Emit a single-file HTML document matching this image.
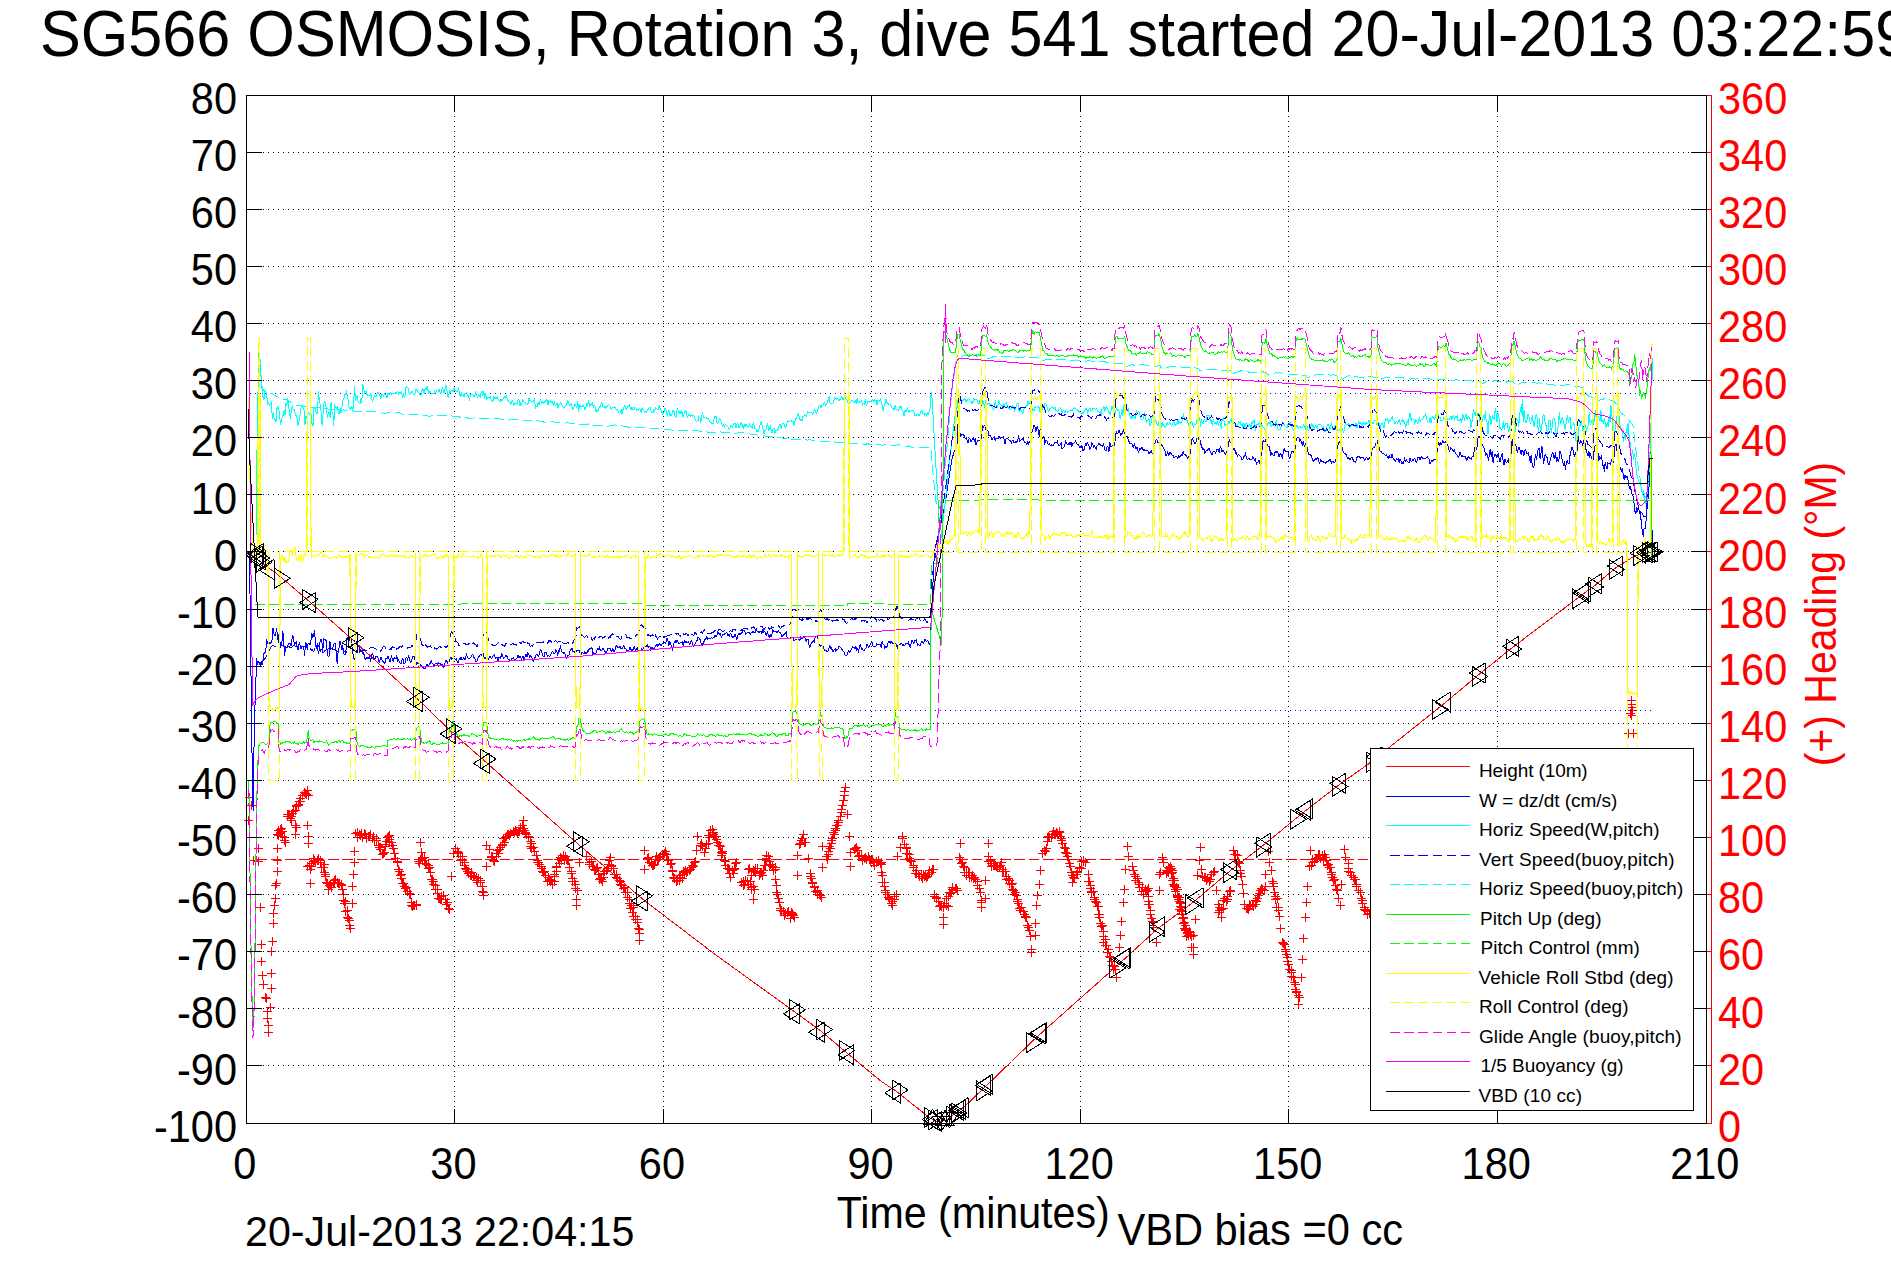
<!DOCTYPE html>
<html lang="en"><head><meta charset="utf-8"><title>SG566 OSMOSIS dive 541</title>
<style>html,body{margin:0;padding:0;background:#fff;overflow:hidden}svg{display:block;font-family:"Liberation Sans",sans-serif}text{white-space:pre}</style></head><body>
<svg width="1891" height="1262" viewBox="0 0 1891 1262">
<rect x="0" y="0" width="1891" height="1262" fill="#fff"/>
<g id="heading" shape-rendering="crispEdges" fill="none" stroke="#f00" stroke-width="1">
<line x1="256.5" y1="859.5" x2="1652.5" y2="859.5" stroke-dasharray="10.5 3.8"/>
<path d="M273.0 834.5h9M277.5 830.0v9M274.0 835.5h9M278.5 831.0v9M274.0 830.5h9M278.5 826.0v9M276.0 832.5h9M280.5 828.0v9M276.0 829.5h9M280.5 825.0v9M278.0 831.5h9M282.5 827.0v9M278.0 836.5h9M282.5 832.0v9M280.0 837.5h9M284.5 833.0v9M280.0 840.5h9M284.5 836.0v9M281.0 842.5h9M285.5 838.0v9M283.0 814.5h9M287.5 810.0v9M283.0 816.5h9M287.5 812.0v9M285.0 814.5h9M289.5 810.0v9M286.0 818.5h9M290.5 814.0v9M287.0 816.5h9M291.5 812.0v9M288.0 813.5h9M292.5 809.0v9M289.0 811.5h9M293.5 807.0v9M291.0 810.5h9M295.5 806.0v9M292.0 805.5h9M296.5 801.0v9M292.0 806.5h9M296.5 802.0v9M294.0 805.5h9M298.5 801.0v9M294.0 804.5h9M298.5 800.0v9M295.0 801.5h9M299.5 797.0v9M296.0 801.5h9M300.5 797.0v9M296.0 798.5h9M300.5 794.0v9M298.0 795.5h9M302.5 791.0v9M300.0 792.5h9M304.5 788.0v9M301.0 793.5h9M305.5 789.0v9M302.0 794.5h9M306.5 790.0v9M303.0 790.5h9M307.5 786.0v9M304.0 795.5h9M308.5 791.0v9M303.0 866.5h9M307.5 862.0v9M305.0 865.5h9M309.5 861.0v9M307.0 863.5h9M311.5 859.0v9M307.0 866.5h9M311.5 862.0v9M309.0 861.5h9M313.5 857.0v9M309.0 858.5h9M313.5 854.0v9M310.0 860.5h9M314.5 856.0v9M311.0 862.5h9M315.5 858.0v9M313.0 860.5h9M317.5 856.0v9M314.0 860.5h9M318.5 856.0v9M314.0 858.5h9M318.5 854.0v9M316.0 862.5h9M320.5 858.0v9M316.0 860.5h9M320.5 856.0v9M317.0 867.5h9M321.5 863.0v9M319.0 867.5h9M323.5 863.0v9M320.0 864.5h9M324.5 860.0v9M320.0 872.5h9M324.5 868.0v9M321.0 874.5h9M325.5 870.0v9M321.0 876.5h9M325.5 872.0v9M322.0 882.5h9M326.5 878.0v9M323.0 883.5h9M327.5 879.0v9M324.0 889.5h9M328.5 885.0v9M325.0 885.5h9M329.5 881.0v9M326.0 884.5h9M330.5 880.0v9M327.0 887.5h9M331.5 883.0v9M329.0 882.5h9M333.5 878.0v9M330.0 883.5h9M334.5 879.0v9M330.0 880.5h9M334.5 876.0v9M331.0 879.5h9M335.5 875.0v9M333.0 882.5h9M337.5 878.0v9M334.0 883.5h9M338.5 879.0v9M335.0 883.5h9M339.5 879.0v9M337.0 884.5h9M341.5 880.0v9M337.0 885.5h9M341.5 881.0v9M338.0 889.5h9M342.5 885.0v9M339.0 894.5h9M343.5 890.0v9M339.0 900.5h9M343.5 896.0v9M340.0 903.5h9M344.5 899.0v9M341.0 901.5h9M345.5 897.0v9M341.0 911.5h9M345.5 907.0v9M343.0 910.5h9M347.5 906.0v9M343.0 917.5h9M347.5 913.0v9M344.0 918.5h9M348.5 914.0v9M345.0 920.5h9M349.5 916.0v9M345.0 925.5h9M349.5 921.0v9M346.0 928.5h9M350.5 924.0v9M353.0 832.5h9M357.5 828.0v9M353.0 837.5h9M357.5 833.0v9M355.0 834.5h9M359.5 830.0v9M356.0 835.5h9M360.5 831.0v9M357.0 833.5h9M361.5 829.0v9M358.0 837.5h9M362.5 833.0v9M360.0 833.5h9M364.5 829.0v9M361.0 834.5h9M365.5 830.0v9M362.0 838.5h9M366.5 834.0v9M364.0 836.5h9M368.5 832.0v9M365.0 836.5h9M369.5 832.0v9M366.0 834.5h9M370.5 830.0v9M368.0 838.5h9M372.5 834.0v9M369.0 836.5h9M373.5 832.0v9M370.0 840.5h9M374.5 836.0v9M370.0 840.5h9M374.5 836.0v9M372.0 838.5h9M376.5 834.0v9M372.0 840.5h9M376.5 836.0v9M374.0 845.5h9M378.5 841.0v9M375.0 847.5h9M379.5 843.0v9M376.0 847.5h9M380.5 843.0v9M376.0 849.5h9M380.5 845.0v9M378.0 854.5h9M382.5 850.0v9M379.0 853.5h9M383.5 849.0v9M380.0 852.5h9M384.5 848.0v9M381.0 846.5h9M385.5 842.0v9M381.0 844.5h9M385.5 840.0v9M382.0 841.5h9M386.5 837.0v9M384.0 836.5h9M388.5 832.0v9M383.0 837.5h9M387.5 833.0v9M385.0 835.5h9M389.5 831.0v9M385.0 839.5h9M389.5 835.0v9M387.0 842.5h9M391.5 838.0v9M388.0 845.5h9M392.5 841.0v9M388.0 845.5h9M392.5 841.0v9M389.0 848.5h9M393.5 844.0v9M390.0 853.5h9M394.5 849.0v9M391.0 858.5h9M395.5 854.0v9M391.0 858.5h9M395.5 854.0v9M393.0 861.5h9M397.5 857.0v9M393.0 862.5h9M397.5 858.0v9M394.0 869.5h9M398.5 865.0v9M395.0 871.5h9M399.5 867.0v9M396.0 875.5h9M400.5 871.0v9M397.0 874.5h9M401.5 870.0v9M397.0 878.5h9M401.5 874.0v9M398.0 883.5h9M402.5 879.0v9M399.0 883.5h9M403.5 879.0v9M400.0 886.5h9M404.5 882.0v9M401.0 888.5h9M405.5 884.0v9M402.0 887.5h9M406.5 883.0v9M403.0 891.5h9M407.5 887.0v9M405.0 894.5h9M409.5 890.0v9M405.0 893.5h9M409.5 889.0v9M406.0 894.5h9M410.5 890.0v9M407.0 902.5h9M411.5 898.0v9M407.0 905.5h9M411.5 901.0v9M409.0 905.5h9M413.5 901.0v9M408.0 906.5h9M412.5 902.0v9M410.0 905.5h9M414.5 901.0v9M412.0 905.5h9M416.5 901.0v9M412.0 904.5h9M416.5 900.0v9M414.0 861.5h9M418.5 857.0v9M415.0 863.5h9M419.5 859.0v9M416.0 859.5h9M420.5 855.0v9M418.0 857.5h9M422.5 853.0v9M418.0 858.5h9M422.5 854.0v9M420.0 857.5h9M424.5 853.0v9M420.0 860.5h9M424.5 856.0v9M421.0 863.5h9M425.5 859.0v9M422.0 864.5h9M426.5 860.0v9M424.0 865.5h9M428.5 861.0v9M424.0 868.5h9M428.5 864.0v9M425.0 867.5h9M429.5 863.0v9M426.0 872.5h9M430.5 868.0v9M427.0 879.5h9M431.5 875.0v9M428.0 879.5h9M432.5 875.0v9M429.0 881.5h9M433.5 877.0v9M429.0 884.5h9M433.5 880.0v9M431.0 885.5h9M435.5 881.0v9M431.0 889.5h9M435.5 885.0v9M433.0 889.5h9M437.5 885.0v9M433.0 893.5h9M437.5 889.0v9M434.0 898.5h9M438.5 894.0v9M435.0 898.5h9M439.5 894.0v9M436.0 899.5h9M440.5 895.0v9M437.0 899.5h9M441.5 895.0v9M437.0 896.5h9M441.5 892.0v9M439.0 895.5h9M443.5 891.0v9M439.0 895.5h9M443.5 891.0v9M441.0 899.5h9M445.5 895.0v9M441.0 899.5h9M445.5 895.0v9M442.0 904.5h9M446.5 900.0v9M443.0 902.5h9M447.5 898.0v9M444.0 908.5h9M448.5 904.0v9M445.0 909.5h9M449.5 905.0v9M451.0 848.5h9M455.5 844.0v9M453.0 851.5h9M457.5 847.0v9M454.0 853.5h9M458.5 849.0v9M454.0 852.5h9M458.5 848.0v9M456.0 856.5h9M460.5 852.0v9M456.0 860.5h9M460.5 856.0v9M458.0 856.5h9M462.5 852.0v9M458.0 860.5h9M462.5 856.0v9M460.0 862.5h9M464.5 858.0v9M460.0 865.5h9M464.5 861.0v9M461.0 868.5h9M465.5 864.0v9M462.0 869.5h9M466.5 865.0v9M463.0 871.5h9M467.5 867.0v9M464.0 873.5h9M468.5 869.0v9M464.0 871.5h9M468.5 867.0v9M466.0 875.5h9M470.5 871.0v9M467.0 872.5h9M471.5 868.0v9M467.0 875.5h9M471.5 871.0v9M469.0 876.5h9M473.5 872.0v9M470.0 876.5h9M474.5 872.0v9M472.0 877.5h9M476.5 873.0v9M472.0 880.5h9M476.5 876.0v9M473.0 882.5h9M477.5 878.0v9M474.0 878.5h9M478.5 874.0v9M476.0 880.5h9M480.5 876.0v9M476.0 882.5h9M480.5 878.0v9M478.0 886.5h9M482.5 882.0v9M478.0 891.5h9M482.5 887.0v9M479.0 892.5h9M483.5 888.0v9M479.0 895.5h9M483.5 891.0v9M485.0 849.5h9M489.5 845.0v9M487.0 857.5h9M491.5 853.0v9M487.0 856.5h9M491.5 852.0v9M488.0 856.5h9M492.5 852.0v9M489.0 860.5h9M493.5 856.0v9M490.0 861.5h9M494.5 857.0v9M492.0 856.5h9M496.5 852.0v9M492.0 853.5h9M496.5 849.0v9M493.0 850.5h9M497.5 846.0v9M494.0 853.5h9M498.5 849.0v9M495.0 849.5h9M499.5 845.0v9M496.0 847.5h9M500.5 843.0v9M498.0 844.5h9M502.5 840.0v9M498.0 845.5h9M502.5 841.0v9M499.0 838.5h9M503.5 834.0v9M500.0 842.5h9M504.5 838.0v9M501.0 837.5h9M505.5 833.0v9M502.0 836.5h9M506.5 832.0v9M503.0 834.5h9M507.5 830.0v9M504.0 834.5h9M508.5 830.0v9M505.0 835.5h9M509.5 831.0v9M506.0 833.5h9M510.5 829.0v9M509.0 831.5h9M513.5 827.0v9M510.0 832.5h9M514.5 828.0v9M511.0 830.5h9M515.5 826.0v9M512.0 831.5h9M516.5 827.0v9M513.0 833.5h9M517.5 829.0v9M514.0 831.5h9M518.5 827.0v9M515.0 831.5h9M519.5 827.0v9M516.0 827.5h9M520.5 823.0v9M518.0 825.5h9M522.5 821.0v9M519.0 820.5h9M523.5 816.0v9M519.0 828.5h9M523.5 824.0v9M520.0 830.5h9M524.5 826.0v9M521.0 833.5h9M525.5 829.0v9M521.0 832.5h9M525.5 828.0v9M522.0 834.5h9M526.5 830.0v9M524.0 836.5h9M528.5 832.0v9M524.0 837.5h9M528.5 833.0v9M526.0 841.5h9M530.5 837.0v9M526.0 846.5h9M530.5 842.0v9M527.0 843.5h9M531.5 839.0v9M527.0 848.5h9M531.5 844.0v9M529.0 847.5h9M533.5 843.0v9M529.0 847.5h9M533.5 843.0v9M530.0 851.5h9M534.5 847.0v9M532.0 855.5h9M536.5 851.0v9M533.0 860.5h9M537.5 856.0v9M533.0 862.5h9M537.5 858.0v9M534.0 862.5h9M538.5 858.0v9M535.0 864.5h9M539.5 860.0v9M537.0 866.5h9M541.5 862.0v9M537.0 868.5h9M541.5 864.0v9M538.0 871.5h9M542.5 867.0v9M539.0 872.5h9M543.5 868.0v9M540.0 871.5h9M544.5 867.0v9M541.0 875.5h9M545.5 871.0v9M541.0 875.5h9M545.5 871.0v9M543.0 881.5h9M547.5 877.0v9M544.0 877.5h9M548.5 873.0v9M545.0 879.5h9M549.5 875.0v9M545.0 880.5h9M549.5 876.0v9M546.0 881.5h9M550.5 877.0v9M547.0 880.5h9M551.5 876.0v9M548.0 884.5h9M552.5 880.0v9M550.0 881.5h9M554.5 877.0v9M550.0 876.5h9M554.5 872.0v9M550.0 874.5h9M554.5 870.0v9M552.0 871.5h9M556.5 867.0v9M552.0 867.5h9M556.5 863.0v9M552.0 866.5h9M556.5 862.0v9M554.0 859.5h9M558.5 855.0v9M555.0 863.5h9M559.5 859.0v9M556.0 857.5h9M560.5 853.0v9M557.0 860.5h9M561.5 856.0v9M557.0 858.5h9M561.5 854.0v9M559.0 855.5h9M563.5 851.0v9M560.0 860.5h9M564.5 856.0v9M561.0 856.5h9M565.5 852.0v9M562.0 859.5h9M566.5 855.0v9M563.0 860.5h9M567.5 856.0v9M564.0 860.5h9M568.5 856.0v9M565.0 867.5h9M569.5 863.0v9M565.0 867.5h9M569.5 863.0v9M567.0 871.5h9M571.5 867.0v9M567.0 873.5h9M571.5 869.0v9M568.0 878.5h9M572.5 874.0v9M568.0 881.5h9M572.5 877.0v9M570.0 881.5h9M574.5 877.0v9M571.0 884.5h9M575.5 880.0v9M571.0 888.5h9M575.5 884.0v9M573.0 890.5h9M577.5 886.0v9M585.0 862.5h9M589.5 858.0v9M585.0 864.5h9M589.5 860.0v9M587.0 861.5h9M591.5 857.0v9M588.0 866.5h9M592.5 862.0v9M589.0 866.5h9M593.5 862.0v9M590.0 869.5h9M594.5 865.0v9M591.0 870.5h9M595.5 866.0v9M592.0 868.5h9M596.5 864.0v9M593.0 867.5h9M597.5 863.0v9M594.0 874.5h9M598.5 870.0v9M594.0 874.5h9M598.5 870.0v9M595.0 879.5h9M599.5 875.0v9M596.0 878.5h9M600.5 874.0v9M598.0 881.5h9M602.5 877.0v9M597.0 879.5h9M601.5 875.0v9M599.0 877.5h9M603.5 873.0v9M599.0 873.5h9M603.5 869.0v9M600.0 871.5h9M604.5 867.0v9M602.0 870.5h9M606.5 866.0v9M603.0 868.5h9M607.5 864.0v9M604.0 864.5h9M608.5 860.0v9M605.0 860.5h9M609.5 856.0v9M606.0 857.5h9M610.5 853.0v9M607.0 865.5h9M611.5 861.0v9M607.0 866.5h9M611.5 862.0v9M609.0 868.5h9M613.5 864.0v9M609.0 868.5h9M613.5 864.0v9M610.0 874.5h9M614.5 870.0v9M612.0 874.5h9M616.5 870.0v9M612.0 877.5h9M616.5 873.0v9M613.0 878.5h9M617.5 874.0v9M615.0 880.5h9M619.5 876.0v9M616.0 881.5h9M620.5 877.0v9M616.0 884.5h9M620.5 880.0v9M617.0 885.5h9M621.5 881.0v9M619.0 888.5h9M623.5 884.0v9M620.0 887.5h9M624.5 883.0v9M621.0 892.5h9M625.5 888.0v9M621.0 892.5h9M625.5 888.0v9M623.0 892.5h9M627.5 888.0v9M623.0 897.5h9M627.5 893.0v9M625.0 899.5h9M629.5 895.0v9M625.0 903.5h9M629.5 899.0v9M626.0 908.5h9M630.5 904.0v9M627.0 905.5h9M631.5 901.0v9M629.0 907.5h9M633.5 903.0v9M628.0 912.5h9M632.5 908.0v9M629.0 916.5h9M633.5 912.0v9M631.0 916.5h9M635.5 912.0v9M631.0 919.5h9M635.5 915.0v9M633.0 919.5h9M637.5 915.0v9M633.0 922.5h9M637.5 918.0v9M634.0 928.5h9M638.5 924.0v9M635.0 929.5h9M639.5 925.0v9M635.0 933.5h9M639.5 929.0v9M643.0 858.5h9M647.5 854.0v9M644.0 857.5h9M648.5 853.0v9M645.0 862.5h9M649.5 858.0v9M645.0 862.5h9M649.5 858.0v9M647.0 863.5h9M651.5 859.0v9M648.0 865.5h9M652.5 861.0v9M649.0 865.5h9M653.5 861.0v9M650.0 864.5h9M654.5 860.0v9M651.0 859.5h9M655.5 855.0v9M652.0 856.5h9M656.5 852.0v9M653.0 859.5h9M657.5 855.0v9M654.0 859.5h9M658.5 855.0v9M655.0 857.5h9M659.5 853.0v9M656.0 856.5h9M660.5 852.0v9M658.0 854.5h9M662.5 850.0v9M658.0 854.5h9M662.5 850.0v9M659.0 854.5h9M663.5 850.0v9M660.0 853.5h9M664.5 849.0v9M661.0 851.5h9M665.5 847.0v9M662.0 854.5h9M666.5 850.0v9M663.0 859.5h9M667.5 855.0v9M664.0 860.5h9M668.5 856.0v9M666.0 864.5h9M670.5 860.0v9M666.0 864.5h9M670.5 860.0v9M667.0 863.5h9M671.5 859.0v9M668.0 870.5h9M672.5 866.0v9M668.0 871.5h9M672.5 867.0v9M669.0 877.5h9M673.5 873.0v9M670.0 878.5h9M674.5 874.0v9M672.0 881.5h9M676.5 877.0v9M672.0 880.5h9M676.5 876.0v9M673.0 880.5h9M677.5 876.0v9M675.0 880.5h9M679.5 876.0v9M675.0 875.5h9M679.5 871.0v9M676.0 877.5h9M680.5 873.0v9M678.0 878.5h9M682.5 874.0v9M678.0 874.5h9M682.5 870.0v9M679.0 871.5h9M683.5 867.0v9M680.0 872.5h9M684.5 868.0v9M681.0 870.5h9M685.5 866.0v9M682.0 872.5h9M686.5 868.0v9M683.0 871.5h9M687.5 867.0v9M685.0 870.5h9M689.5 866.0v9M686.0 869.5h9M690.5 865.0v9M687.0 867.5h9M691.5 863.0v9M688.0 865.5h9M692.5 861.0v9M689.0 866.5h9M693.5 862.0v9M690.0 862.5h9M694.5 858.0v9M691.0 861.5h9M695.5 857.0v9M696.0 845.5h9M700.5 841.0v9M697.0 843.5h9M701.5 839.0v9M697.0 843.5h9M701.5 839.0v9M698.0 846.5h9M702.5 842.0v9M700.0 852.5h9M704.5 848.0v9M701.0 848.5h9M705.5 844.0v9M702.0 844.5h9M706.5 840.0v9M702.0 844.5h9M706.5 840.0v9M704.0 843.5h9M708.5 839.0v9M704.0 835.5h9M708.5 831.0v9M705.0 837.5h9M709.5 833.0v9M706.0 830.5h9M710.5 826.0v9M708.0 829.5h9M712.5 825.0v9M709.0 834.5h9M713.5 830.0v9M709.0 832.5h9M713.5 828.0v9M710.0 836.5h9M714.5 832.0v9M711.0 836.5h9M715.5 832.0v9M712.0 836.5h9M716.5 832.0v9M712.0 839.5h9M716.5 835.0v9M713.0 842.5h9M717.5 838.0v9M714.0 845.5h9M718.5 841.0v9M715.0 845.5h9M719.5 841.0v9M716.0 846.5h9M720.5 842.0v9M717.0 852.5h9M721.5 848.0v9M717.0 855.5h9M721.5 851.0v9M718.0 851.5h9M722.5 847.0v9M718.0 853.5h9M722.5 849.0v9M720.0 860.5h9M724.5 856.0v9M721.0 861.5h9M725.5 857.0v9M721.0 865.5h9M725.5 861.0v9M723.0 868.5h9M727.5 864.0v9M724.0 868.5h9M728.5 864.0v9M725.0 869.5h9M729.5 865.0v9M725.0 873.5h9M729.5 869.0v9M726.0 877.5h9M730.5 873.0v9M728.0 870.5h9M732.5 866.0v9M729.0 873.5h9M733.5 869.0v9M730.0 869.5h9M734.5 865.0v9M730.0 868.5h9M734.5 864.0v9M731.0 863.5h9M735.5 859.0v9M732.0 862.5h9M736.5 858.0v9M737.0 882.5h9M741.5 878.0v9M739.0 885.5h9M743.5 881.0v9M739.0 881.5h9M743.5 877.0v9M740.0 884.5h9M744.5 880.0v9M741.0 880.5h9M745.5 876.0v9M743.0 881.5h9M747.5 877.0v9M744.0 884.5h9M748.5 880.0v9M746.0 881.5h9M750.5 877.0v9M747.0 889.5h9M751.5 885.0v9M747.0 887.5h9M751.5 883.0v9M749.0 886.5h9M753.5 882.0v9M750.0 889.5h9M754.5 885.0v9M744.0 869.5h9M748.5 865.0v9M745.0 868.5h9M749.5 864.0v9M747.0 875.5h9M751.5 871.0v9M749.0 870.5h9M753.5 866.0v9M750.0 871.5h9M754.5 867.0v9M751.0 868.5h9M755.5 864.0v9M751.0 872.5h9M755.5 868.0v9M753.0 868.5h9M757.5 864.0v9M755.0 875.5h9M759.5 871.0v9M756.0 873.5h9M760.5 869.0v9M757.0 872.5h9M761.5 868.0v9M758.0 875.5h9M762.5 871.0v9M759.0 870.5h9M763.5 866.0v9M760.0 865.5h9M764.5 861.0v9M761.0 865.5h9M765.5 861.0v9M762.0 860.5h9M766.5 856.0v9M762.0 858.5h9M766.5 854.0v9M764.0 856.5h9M768.5 852.0v9M765.0 861.5h9M769.5 857.0v9M765.0 865.5h9M769.5 861.0v9M766.0 864.5h9M770.5 860.0v9M768.0 866.5h9M772.5 862.0v9M769.0 870.5h9M773.5 866.0v9M771.0 867.5h9M775.5 863.0v9M771.0 869.5h9M775.5 865.0v9M771.0 879.5h9M775.5 875.0v9M772.0 885.5h9M776.5 881.0v9M772.0 892.5h9M776.5 888.0v9M773.0 894.5h9M777.5 890.0v9M774.0 898.5h9M778.5 894.0v9M775.0 902.5h9M779.5 898.0v9M775.0 902.5h9M779.5 898.0v9M776.0 908.5h9M780.5 904.0v9M776.0 910.5h9M780.5 906.0v9M777.0 910.5h9M781.5 906.0v9M779.0 911.5h9M783.5 907.0v9M780.0 915.5h9M784.5 911.0v9M781.0 913.5h9M785.5 909.0v9M783.0 912.5h9M787.5 908.0v9M784.0 911.5h9M788.5 907.0v9M786.0 918.5h9M790.5 914.0v9M787.0 912.5h9M791.5 908.0v9M788.0 913.5h9M792.5 909.0v9M788.0 914.5h9M792.5 910.0v9M789.0 915.5h9M793.5 911.0v9M790.0 917.5h9M794.5 913.0v9M795.0 844.5h9M799.5 840.0v9M796.0 843.5h9M800.5 839.0v9M797.0 840.5h9M801.5 836.0v9M798.0 838.5h9M802.5 834.0v9M799.0 834.5h9M803.5 830.0v9M800.0 842.5h9M804.5 838.0v9M801.0 842.5h9M805.5 838.0v9M806.0 873.5h9M810.5 869.0v9M806.0 876.5h9M810.5 872.0v9M807.0 878.5h9M811.5 874.0v9M808.0 882.5h9M812.5 878.0v9M808.0 883.5h9M812.5 879.0v9M810.0 887.5h9M814.5 883.0v9M810.0 886.5h9M814.5 882.0v9M811.0 891.5h9M815.5 887.0v9M813.0 892.5h9M817.5 888.0v9M813.0 890.5h9M817.5 886.0v9M813.0 894.5h9M817.5 890.0v9M815.0 894.5h9M819.5 890.0v9M816.0 895.5h9M820.5 891.0v9M817.0 897.5h9M821.5 893.0v9M822.0 856.5h9M826.5 852.0v9M823.0 859.5h9M827.5 855.0v9M824.0 854.5h9M828.5 850.0v9M824.0 851.5h9M828.5 847.0v9M825.0 846.5h9M829.5 842.0v9M826.0 848.5h9M830.5 844.0v9M827.0 843.5h9M831.5 839.0v9M827.0 840.5h9M831.5 836.0v9M828.0 838.5h9M832.5 834.0v9M830.0 834.5h9M834.5 830.0v9M829.0 832.5h9M833.5 828.0v9M831.0 830.5h9M835.5 826.0v9M831.0 828.5h9M835.5 824.0v9M832.0 825.5h9M836.5 821.0v9M833.0 825.5h9M837.5 821.0v9M834.0 820.5h9M838.5 816.0v9M834.0 822.5h9M838.5 818.0v9M836.0 816.5h9M840.5 812.0v9M837.0 812.5h9M841.5 808.0v9M837.0 809.5h9M841.5 805.0v9M838.0 805.5h9M842.5 801.0v9M839.0 800.5h9M843.5 796.0v9M840.0 795.5h9M844.5 791.0v9M840.0 791.5h9M844.5 787.0v9M841.0 787.5h9M845.5 783.0v9M850.0 849.5h9M854.5 845.0v9M851.0 848.5h9M855.5 844.0v9M852.0 847.5h9M856.5 843.0v9M853.0 850.5h9M857.5 846.0v9M854.0 856.5h9M858.5 852.0v9M855.0 855.5h9M859.5 851.0v9M857.0 856.5h9M861.5 852.0v9M857.0 855.5h9M861.5 851.0v9M858.0 860.5h9M862.5 856.0v9M860.0 858.5h9M864.5 854.0v9M861.0 857.5h9M865.5 853.0v9M862.0 859.5h9M866.5 855.0v9M864.0 856.5h9M868.5 852.0v9M865.0 859.5h9M869.5 855.0v9M866.0 860.5h9M870.5 856.0v9M867.0 859.5h9M871.5 855.0v9M868.0 859.5h9M872.5 855.0v9M869.0 862.5h9M873.5 858.0v9M870.0 865.5h9M874.5 861.0v9M872.0 861.5h9M876.5 857.0v9M872.0 862.5h9M876.5 858.0v9M874.0 860.5h9M878.5 856.0v9M876.0 863.5h9M880.5 859.0v9M877.0 862.5h9M881.5 858.0v9M877.0 864.5h9M881.5 860.0v9M877.0 872.5h9M881.5 868.0v9M878.0 875.5h9M882.5 871.0v9M878.0 882.5h9M882.5 878.0v9M880.0 882.5h9M884.5 878.0v9M880.0 886.5h9M884.5 882.0v9M881.0 890.5h9M885.5 886.0v9M881.0 892.5h9M885.5 888.0v9M883.0 894.5h9M887.5 890.0v9M884.0 897.5h9M888.5 893.0v9M885.0 899.5h9M889.5 895.0v9M885.0 898.5h9M889.5 894.0v9M887.0 903.5h9M891.5 899.0v9M888.0 905.5h9M892.5 901.0v9M888.0 901.5h9M892.5 897.0v9M890.0 899.5h9M894.5 895.0v9M890.0 896.5h9M894.5 892.0v9M892.0 894.5h9M896.5 890.0v9M898.0 836.5h9M902.5 832.0v9M898.0 838.5h9M902.5 834.0v9M900.0 844.5h9M904.5 840.0v9M902.0 848.5h9M906.5 844.0v9M902.0 847.5h9M906.5 843.0v9M902.0 853.5h9M906.5 849.0v9M903.0 853.5h9M907.5 849.0v9M905.0 854.5h9M909.5 850.0v9M905.0 858.5h9M909.5 854.0v9M906.0 860.5h9M910.5 856.0v9M907.0 861.5h9M911.5 857.0v9M909.0 865.5h9M913.5 861.0v9M909.0 867.5h9M913.5 863.0v9M911.0 873.5h9M915.5 869.0v9M912.0 873.5h9M916.5 869.0v9M912.0 870.5h9M916.5 866.0v9M914.0 874.5h9M918.5 870.0v9M915.0 876.5h9M919.5 872.0v9M917.0 876.5h9M921.5 872.0v9M917.0 874.5h9M921.5 870.0v9M918.0 878.5h9M922.5 874.0v9M919.0 874.5h9M923.5 870.0v9M920.0 876.5h9M924.5 872.0v9M921.0 875.5h9M925.5 871.0v9M922.0 877.5h9M926.5 873.0v9M923.0 876.5h9M927.5 872.0v9M924.0 874.5h9M928.5 870.0v9M925.0 870.5h9M929.5 866.0v9M927.0 872.5h9M931.5 868.0v9M928.0 869.5h9M932.5 865.0v9M929.0 869.5h9M933.5 865.0v9M930.0 894.5h9M934.5 890.0v9M930.0 896.5h9M934.5 892.0v9M932.0 898.5h9M936.5 894.0v9M932.0 897.5h9M936.5 893.0v9M934.0 901.5h9M938.5 897.0v9M935.0 906.5h9M939.5 902.0v9M936.0 905.5h9M940.5 901.0v9M937.0 906.5h9M941.5 902.0v9M939.0 907.5h9M943.5 903.0v9M939.0 906.5h9M943.5 902.0v9M940.0 903.5h9M944.5 899.0v9M942.0 898.5h9M946.5 894.0v9M942.0 905.5h9M946.5 901.0v9M944.0 906.5h9M948.5 902.0v9M944.0 896.5h9M948.5 892.0v9M945.0 892.5h9M949.5 888.0v9M946.0 893.5h9M950.5 889.0v9M947.0 892.5h9M951.5 888.0v9M948.0 889.5h9M952.5 885.0v9M948.0 887.5h9M952.5 883.0v9M951.0 888.5h9M955.5 884.0v9M952.0 888.5h9M956.5 884.0v9M953.0 890.5h9M957.5 886.0v9M956.0 859.5h9M960.5 855.0v9M957.0 863.5h9M961.5 859.0v9M958.0 862.5h9M962.5 858.0v9M959.0 866.5h9M963.5 862.0v9M960.0 872.5h9M964.5 868.0v9M960.0 867.5h9M964.5 863.0v9M962.0 872.5h9M966.5 868.0v9M962.0 875.5h9M966.5 871.0v9M964.0 872.5h9M968.5 868.0v9M965.0 872.5h9M969.5 868.0v9M965.0 877.5h9M969.5 873.0v9M967.0 877.5h9M971.5 873.0v9M968.0 875.5h9M972.5 871.0v9M969.0 878.5h9M973.5 874.0v9M970.0 877.5h9M974.5 873.0v9M971.0 879.5h9M975.5 875.0v9M973.0 881.5h9M977.5 877.0v9M973.0 885.5h9M977.5 881.0v9M975.0 888.5h9M979.5 884.0v9M975.0 888.5h9M979.5 884.0v9M976.0 892.5h9M980.5 888.0v9M977.0 900.5h9M981.5 896.0v9M977.0 902.5h9M981.5 898.0v9M984.0 861.5h9M988.5 857.0v9M986.0 860.5h9M990.5 856.0v9M987.0 863.5h9M991.5 859.0v9M987.0 866.5h9M991.5 862.0v9M989.0 865.5h9M993.5 861.0v9M990.0 865.5h9M994.5 861.0v9M991.0 865.5h9M995.5 861.0v9M992.0 866.5h9M996.5 862.0v9M993.0 867.5h9M997.5 863.0v9M995.0 866.5h9M999.5 862.0v9M996.0 865.5h9M1000.5 861.0v9M997.0 862.5h9M1001.5 858.0v9M998.0 871.5h9M1002.5 867.0v9M998.0 869.5h9M1002.5 865.0v9M999.0 871.5h9M1003.5 867.0v9M1001.0 871.5h9M1005.5 867.0v9M1002.0 876.5h9M1006.5 872.0v9M1002.0 879.5h9M1006.5 875.0v9M1004.0 878.5h9M1008.5 874.0v9M1005.0 880.5h9M1009.5 876.0v9M1005.0 883.5h9M1009.5 879.0v9M1007.0 884.5h9M1011.5 880.0v9M1008.0 883.5h9M1012.5 879.0v9M1008.0 889.5h9M1012.5 885.0v9M1009.0 890.5h9M1013.5 886.0v9M1010.0 894.5h9M1014.5 890.0v9M1011.0 892.5h9M1015.5 888.0v9M1012.0 895.5h9M1016.5 891.0v9M1013.0 899.5h9M1017.5 895.0v9M1013.0 901.5h9M1017.5 897.0v9M1014.0 903.5h9M1018.5 899.0v9M1014.0 903.5h9M1018.5 899.0v9M1015.0 908.5h9M1019.5 904.0v9M1016.0 910.5h9M1020.5 906.0v9M1017.0 907.5h9M1021.5 903.0v9M1019.0 911.5h9M1023.5 907.0v9M1020.0 914.5h9M1024.5 910.0v9M1021.0 916.5h9M1025.5 912.0v9M1021.0 917.5h9M1025.5 913.0v9M1022.0 917.5h9M1026.5 913.0v9M1023.0 925.5h9M1027.5 921.0v9M1024.0 927.5h9M1028.5 923.0v9M1025.0 930.5h9M1029.5 926.0v9M1040.0 850.5h9M1044.5 846.0v9M1041.0 851.5h9M1045.5 847.0v9M1042.0 848.5h9M1046.5 844.0v9M1043.0 841.5h9M1047.5 837.0v9M1043.0 837.5h9M1047.5 833.0v9M1044.0 836.5h9M1048.5 832.0v9M1045.0 837.5h9M1049.5 833.0v9M1047.0 837.5h9M1051.5 833.0v9M1048.0 834.5h9M1052.5 830.0v9M1050.0 834.5h9M1054.5 830.0v9M1049.0 831.5h9M1053.5 827.0v9M1051.0 834.5h9M1055.5 830.0v9M1052.0 832.5h9M1056.5 828.0v9M1053.0 833.5h9M1057.5 829.0v9M1055.0 831.5h9M1059.5 827.0v9M1055.0 832.5h9M1059.5 828.0v9M1056.0 836.5h9M1060.5 832.0v9M1057.0 838.5h9M1061.5 834.0v9M1057.0 840.5h9M1061.5 836.0v9M1058.0 843.5h9M1062.5 839.0v9M1060.0 847.5h9M1064.5 843.0v9M1061.0 848.5h9M1065.5 844.0v9M1061.0 852.5h9M1065.5 848.0v9M1062.0 853.5h9M1066.5 849.0v9M1063.0 853.5h9M1067.5 849.0v9M1063.0 856.5h9M1067.5 852.0v9M1064.0 859.5h9M1068.5 855.0v9M1065.0 863.5h9M1069.5 859.0v9M1066.0 866.5h9M1070.5 862.0v9M1067.0 872.5h9M1071.5 868.0v9M1068.0 875.5h9M1072.5 871.0v9M1068.0 882.5h9M1072.5 878.0v9M1069.0 877.5h9M1073.5 873.0v9M1070.0 878.5h9M1074.5 874.0v9M1072.0 874.5h9M1076.5 870.0v9M1073.0 872.5h9M1077.5 868.0v9M1073.0 871.5h9M1077.5 867.0v9M1075.0 867.5h9M1079.5 863.0v9M1075.0 868.5h9M1079.5 864.0v9M1077.0 868.5h9M1081.5 864.0v9M1077.0 861.5h9M1081.5 857.0v9M1079.0 860.5h9M1083.5 856.0v9M1079.0 861.5h9M1083.5 857.0v9M1081.0 862.5h9M1085.5 858.0v9M1084.0 874.5h9M1088.5 870.0v9M1084.0 881.5h9M1088.5 877.0v9M1085.0 881.5h9M1089.5 877.0v9M1086.0 885.5h9M1090.5 881.0v9M1086.0 888.5h9M1090.5 884.0v9M1087.0 891.5h9M1091.5 887.0v9M1087.0 892.5h9M1091.5 888.0v9M1089.0 891.5h9M1093.5 887.0v9M1090.0 897.5h9M1094.5 893.0v9M1090.0 899.5h9M1094.5 895.0v9M1091.0 901.5h9M1095.5 897.0v9M1092.0 902.5h9M1096.5 898.0v9M1093.0 906.5h9M1097.5 902.0v9M1094.0 906.5h9M1098.5 902.0v9M1094.0 914.5h9M1098.5 910.0v9M1095.0 917.5h9M1099.5 913.0v9M1095.0 914.5h9M1099.5 910.0v9M1096.0 923.5h9M1100.5 919.0v9M1097.0 926.5h9M1101.5 922.0v9M1098.0 925.5h9M1102.5 921.0v9M1099.0 931.5h9M1103.5 927.0v9M1099.0 936.5h9M1103.5 932.0v9M1099.0 942.5h9M1103.5 938.0v9M1101.0 939.5h9M1105.5 935.0v9M1101.0 945.5h9M1105.5 941.0v9M1102.0 945.5h9M1106.5 941.0v9M1103.0 952.5h9M1107.5 948.0v9M1104.0 949.5h9M1108.5 945.0v9M1105.0 956.5h9M1109.5 952.0v9M1106.0 957.5h9M1110.5 953.0v9M1107.0 961.5h9M1111.5 957.0v9M1107.0 961.5h9M1111.5 957.0v9M1108.0 965.5h9M1112.5 961.0v9M1109.0 969.5h9M1113.5 965.0v9M1110.0 966.5h9M1114.5 962.0v9M1111.0 969.5h9M1115.5 965.0v9M1128.0 866.5h9M1132.5 862.0v9M1129.0 870.5h9M1133.5 866.0v9M1130.0 874.5h9M1134.5 870.0v9M1130.0 874.5h9M1134.5 870.0v9M1131.0 876.5h9M1135.5 872.0v9M1131.0 880.5h9M1135.5 876.0v9M1133.0 878.5h9M1137.5 874.0v9M1134.0 882.5h9M1138.5 878.0v9M1135.0 884.5h9M1139.5 880.0v9M1135.0 887.5h9M1139.5 883.0v9M1137.0 891.5h9M1141.5 887.0v9M1138.0 887.5h9M1142.5 883.0v9M1139.0 894.5h9M1143.5 890.0v9M1141.0 890.5h9M1145.5 886.0v9M1141.0 889.5h9M1145.5 885.0v9M1142.0 891.5h9M1146.5 887.0v9M1144.0 888.5h9M1148.5 884.0v9M1143.0 890.5h9M1147.5 886.0v9M1144.0 896.5h9M1148.5 892.0v9M1144.0 901.5h9M1148.5 897.0v9M1144.0 904.5h9M1148.5 900.0v9M1145.0 904.5h9M1149.5 900.0v9M1146.0 910.5h9M1150.5 906.0v9M1146.0 914.5h9M1150.5 910.0v9M1147.0 918.5h9M1151.5 914.0v9M1148.0 921.5h9M1152.5 917.0v9M1149.0 922.5h9M1153.5 918.0v9M1149.0 927.5h9M1153.5 923.0v9M1162.0 873.5h9M1166.5 869.0v9M1163.0 871.5h9M1167.5 867.0v9M1164.0 867.5h9M1168.5 863.0v9M1165.0 868.5h9M1169.5 864.0v9M1166.0 866.5h9M1170.5 862.0v9M1166.0 869.5h9M1170.5 865.0v9M1168.0 870.5h9M1172.5 866.0v9M1168.0 872.5h9M1172.5 868.0v9M1169.0 878.5h9M1173.5 874.0v9M1170.0 880.5h9M1174.5 876.0v9M1170.0 884.5h9M1174.5 880.0v9M1170.0 886.5h9M1174.5 882.0v9M1172.0 887.5h9M1176.5 883.0v9M1173.0 889.5h9M1177.5 885.0v9M1173.0 896.5h9M1177.5 892.0v9M1175.0 897.5h9M1179.5 893.0v9M1174.0 897.5h9M1178.5 893.0v9M1176.0 902.5h9M1180.5 898.0v9M1176.0 903.5h9M1180.5 899.0v9M1177.0 907.5h9M1181.5 903.0v9M1178.0 911.5h9M1182.5 907.0v9M1178.0 914.5h9M1182.5 910.0v9M1179.0 918.5h9M1183.5 914.0v9M1179.0 923.5h9M1183.5 919.0v9M1180.0 928.5h9M1184.5 924.0v9M1181.0 929.5h9M1185.5 925.0v9M1181.0 930.5h9M1185.5 926.0v9M1182.0 936.5h9M1186.5 932.0v9M1183.0 932.5h9M1187.5 928.0v9M1185.0 931.5h9M1189.5 927.0v9M1186.0 934.5h9M1190.5 930.0v9M1187.0 936.5h9M1191.5 932.0v9M1189.0 935.5h9M1193.5 931.0v9M1162.0 870.5h9M1166.5 866.0v9M1163.0 871.5h9M1167.5 867.0v9M1164.0 872.5h9M1168.5 868.0v9M1166.0 869.5h9M1170.5 865.0v9M1167.0 868.5h9M1171.5 864.0v9M1167.0 872.5h9M1171.5 868.0v9M1167.0 873.5h9M1171.5 869.0v9M1168.0 880.5h9M1172.5 876.0v9M1169.0 884.5h9M1173.5 880.0v9M1170.0 885.5h9M1174.5 881.0v9M1171.0 889.5h9M1175.5 885.0v9M1171.0 891.5h9M1175.5 887.0v9M1173.0 895.5h9M1177.5 891.0v9M1173.0 897.5h9M1177.5 893.0v9M1174.0 899.5h9M1178.5 895.0v9M1175.0 901.5h9M1179.5 897.0v9M1176.0 906.5h9M1180.5 902.0v9M1175.0 909.5h9M1179.5 905.0v9M1177.0 910.5h9M1181.5 906.0v9M1177.0 911.5h9M1181.5 907.0v9M1178.0 918.5h9M1182.5 914.0v9M1179.0 917.5h9M1183.5 913.0v9M1180.0 922.5h9M1184.5 918.0v9M1181.0 925.5h9M1185.5 921.0v9M1181.0 929.5h9M1185.5 925.0v9M1182.0 929.5h9M1186.5 925.0v9M1183.0 933.5h9M1187.5 929.0v9M1184.0 935.5h9M1188.5 931.0v9M1186.0 932.5h9M1190.5 928.0v9M1187.0 935.5h9M1191.5 931.0v9M1198.0 876.5h9M1202.5 872.0v9M1200.0 877.5h9M1204.5 873.0v9M1201.0 877.5h9M1205.5 873.0v9M1202.0 880.5h9M1206.5 876.0v9M1203.0 878.5h9M1207.5 874.0v9M1205.0 881.5h9M1209.5 877.0v9M1206.0 879.5h9M1210.5 875.0v9M1207.0 874.5h9M1211.5 870.0v9M1207.0 874.5h9M1211.5 870.0v9M1209.0 872.5h9M1213.5 868.0v9M1210.0 871.5h9M1214.5 867.0v9M1214.0 912.5h9M1218.5 908.0v9M1215.0 910.5h9M1219.5 906.0v9M1215.0 907.5h9M1219.5 903.0v9M1217.0 909.5h9M1221.5 905.0v9M1217.0 908.5h9M1221.5 904.0v9M1219.0 908.5h9M1223.5 904.0v9M1219.0 900.5h9M1223.5 896.0v9M1220.0 898.5h9M1224.5 894.0v9M1222.0 901.5h9M1226.5 897.0v9M1223.0 899.5h9M1227.5 895.0v9M1223.0 896.5h9M1227.5 892.0v9M1225.0 891.5h9M1229.5 887.0v9M1226.0 891.5h9M1230.5 887.0v9M1226.0 890.5h9M1230.5 886.0v9M1229.0 850.5h9M1233.5 846.0v9M1230.0 854.5h9M1234.5 850.0v9M1231.0 854.5h9M1235.5 850.0v9M1231.0 854.5h9M1235.5 850.0v9M1233.0 855.5h9M1237.5 851.0v9M1234.0 862.5h9M1238.5 858.0v9M1234.0 861.5h9M1238.5 857.0v9M1235.0 863.5h9M1239.5 859.0v9M1236.0 870.5h9M1240.5 866.0v9M1236.0 873.5h9M1240.5 869.0v9M1237.0 876.5h9M1241.5 872.0v9M1242.0 908.5h9M1246.5 904.0v9M1243.0 908.5h9M1247.5 904.0v9M1244.0 909.5h9M1248.5 905.0v9M1245.0 904.5h9M1249.5 900.0v9M1245.0 906.5h9M1249.5 902.0v9M1246.0 905.5h9M1250.5 901.0v9M1248.0 905.5h9M1252.5 901.0v9M1249.0 906.5h9M1253.5 902.0v9M1251.0 904.5h9M1255.5 900.0v9M1251.0 900.5h9M1255.5 896.0v9M1252.0 901.5h9M1256.5 897.0v9M1253.0 898.5h9M1257.5 894.0v9M1254.0 895.5h9M1258.5 891.0v9M1255.0 893.5h9M1259.5 889.0v9M1256.0 890.5h9M1260.5 886.0v9M1257.0 888.5h9M1261.5 884.0v9M1258.0 889.5h9M1262.5 885.0v9M1260.0 890.5h9M1264.5 886.0v9M1261.0 886.5h9M1265.5 882.0v9M1268.0 881.5h9M1272.5 877.0v9M1269.0 883.5h9M1273.5 879.0v9M1269.0 886.5h9M1273.5 882.0v9M1270.0 892.5h9M1274.5 888.0v9M1271.0 896.5h9M1275.5 892.0v9M1271.0 899.5h9M1275.5 895.0v9M1273.0 898.5h9M1277.5 894.0v9M1272.0 907.5h9M1276.5 903.0v9M1274.0 907.5h9M1278.5 903.0v9M1274.0 910.5h9M1278.5 906.0v9M1275.0 916.5h9M1279.5 912.0v9M1278.0 942.5h9M1282.5 938.0v9M1279.0 943.5h9M1283.5 939.0v9M1280.0 944.5h9M1284.5 940.0v9M1281.0 949.5h9M1285.5 945.0v9M1281.0 951.5h9M1285.5 947.0v9M1282.0 954.5h9M1286.5 950.0v9M1283.0 957.5h9M1287.5 953.0v9M1283.0 961.5h9M1287.5 957.0v9M1284.0 964.5h9M1288.5 960.0v9M1285.0 969.5h9M1289.5 965.0v9M1287.0 970.5h9M1291.5 966.0v9M1287.0 972.5h9M1291.5 968.0v9M1287.0 976.5h9M1291.5 972.0v9M1289.0 977.5h9M1293.5 973.0v9M1290.0 982.5h9M1294.5 978.0v9M1291.0 984.5h9M1295.5 980.0v9M1291.0 989.5h9M1295.5 985.0v9M1292.0 992.5h9M1296.5 988.0v9M1292.0 991.5h9M1296.5 987.0v9M1294.0 995.5h9M1298.5 991.0v9M1295.0 997.5h9M1299.5 993.0v9M1305.0 866.5h9M1309.5 862.0v9M1307.0 865.5h9M1311.5 861.0v9M1308.0 862.5h9M1312.5 858.0v9M1308.0 859.5h9M1312.5 855.0v9M1310.0 861.5h9M1314.5 857.0v9M1311.0 858.5h9M1315.5 854.0v9M1312.0 858.5h9M1316.5 854.0v9M1313.0 858.5h9M1317.5 854.0v9M1314.0 854.5h9M1318.5 850.0v9M1315.0 854.5h9M1319.5 850.0v9M1316.0 858.5h9M1320.5 854.0v9M1318.0 855.5h9M1322.5 851.0v9M1319.0 860.5h9M1323.5 856.0v9M1320.0 854.5h9M1324.5 850.0v9M1321.0 857.5h9M1325.5 853.0v9M1322.0 860.5h9M1326.5 856.0v9M1323.0 865.5h9M1327.5 861.0v9M1324.0 864.5h9M1328.5 860.0v9M1325.0 867.5h9M1329.5 863.0v9M1326.0 867.5h9M1330.5 863.0v9M1327.0 874.5h9M1331.5 870.0v9M1327.0 872.5h9M1331.5 868.0v9M1328.0 877.5h9M1332.5 873.0v9M1329.0 880.5h9M1333.5 876.0v9M1330.0 879.5h9M1334.5 875.0v9M1331.0 885.5h9M1335.5 881.0v9M1332.0 889.5h9M1336.5 885.0v9M1332.0 889.5h9M1336.5 885.0v9M1333.0 890.5h9M1337.5 886.0v9M1334.0 898.5h9M1338.5 894.0v9M1344.0 863.5h9M1348.5 859.0v9M1344.0 863.5h9M1348.5 859.0v9M1344.0 868.5h9M1348.5 864.0v9M1344.0 871.5h9M1348.5 867.0v9M1346.0 872.5h9M1350.5 868.0v9M1346.0 872.5h9M1350.5 868.0v9M1347.0 875.5h9M1351.5 871.0v9M1349.0 877.5h9M1353.5 873.0v9M1350.0 879.5h9M1354.5 875.0v9M1351.0 879.5h9M1355.5 875.0v9M1352.0 884.5h9M1356.5 880.0v9M1352.0 886.5h9M1356.5 882.0v9M1354.0 890.5h9M1358.5 886.0v9M1354.0 890.5h9M1358.5 886.0v9M1356.0 892.5h9M1360.5 888.0v9M1357.0 898.5h9M1361.5 894.0v9M1358.0 900.5h9M1362.5 896.0v9M1358.0 903.5h9M1362.5 899.0v9M1360.0 909.5h9M1364.5 905.0v9M1360.0 907.5h9M1364.5 903.0v9M1361.0 910.5h9M1365.5 906.0v9M1363.0 914.5h9M1367.5 910.0v9M1363.0 911.5h9M1367.5 907.0v9M1365.0 913.5h9M1369.5 909.0v9M245.0 797.5h9M249.5 793.0v9M247.0 805.5h9M251.5 801.0v9M244.0 820.5h9M248.5 816.0v9M254.0 848.5h9M258.5 844.0v9M254.0 861.5h9M258.5 857.0v9M249.0 860.5h9M253.5 856.0v9M256.0 907.5h9M260.5 903.0v9M257.0 944.5h9M261.5 940.0v9M257.0 961.5h9M261.5 957.0v9M258.0 975.5h9M262.5 971.0v9M259.0 984.5h9M263.5 980.0v9M261.0 997.5h9M265.5 993.0v9M262.0 998.5h9M266.5 994.0v9M263.0 1011.5h9M267.5 1007.0v9M263.0 1018.5h9M267.5 1014.0v9M264.0 1025.5h9M268.5 1021.0v9M264.0 1032.5h9M268.5 1028.0v9M273.0 848.5h9M277.5 844.0v9M273.0 860.5h9M277.5 856.0v9M273.0 871.5h9M277.5 867.0v9M272.0 883.5h9M276.5 879.0v9M271.0 885.5h9M275.5 881.0v9M271.0 898.5h9M275.5 894.0v9M270.0 905.5h9M274.5 901.0v9M269.0 913.5h9M273.5 909.0v9M269.0 923.5h9M273.5 919.0v9M268.0 941.5h9M272.5 937.0v9M267.0 951.5h9M271.5 947.0v9M267.0 973.5h9M271.5 969.0v9M267.0 988.5h9M271.5 984.0v9M266.0 1007.5h9M270.5 1003.0v9M276.0 833.5h9M280.5 829.0v9M277.0 828.5h9M281.5 824.0v9M291.0 825.5h9M295.5 821.0v9M291.0 834.5h9M295.5 830.0v9M303.0 825.5h9M307.5 821.0v9M304.0 836.5h9M308.5 832.0v9M304.0 843.5h9M308.5 839.0v9M306.0 869.5h9M310.5 865.0v9M306.0 883.5h9M310.5 879.0v9M348.0 903.5h9M352.5 899.0v9M348.0 886.5h9M352.5 882.0v9M349.0 874.5h9M353.5 870.0v9M350.0 862.5h9M354.5 858.0v9M350.0 851.5h9M354.5 847.0v9M351.0 833.5h9M355.5 829.0v9M416.0 842.5h9M420.5 838.0v9M417.0 852.5h9M421.5 848.0v9M447.0 876.5h9M451.5 872.0v9M449.0 853.5h9M453.5 849.0v9M482.0 866.5h9M486.5 862.0v9M482.0 845.5h9M486.5 841.0v9M572.0 899.5h9M576.5 895.0v9M572.0 905.5h9M576.5 901.0v9M575.0 862.5h9M579.5 858.0v9M582.0 856.5h9M586.5 852.0v9M635.0 940.5h9M639.5 936.0v9M640.0 850.5h9M644.5 846.0v9M640.0 869.5h9M644.5 865.0v9M692.0 850.5h9M696.5 846.0v9M693.0 836.5h9M697.5 832.0v9M284.0 814.5h9M288.5 810.0v9M287.0 820.5h9M291.5 816.0v9M292.0 827.5h9M296.5 823.0v9M749.0 899.5h9M753.5 895.0v9M762.0 855.5h9M766.5 851.0v9M793.0 875.5h9M797.5 871.0v9M793.0 855.5h9M797.5 851.0v9M804.0 858.5h9M808.5 854.0v9M818.0 867.5h9M822.5 863.0v9M818.0 846.5h9M822.5 842.0v9M843.0 814.5h9M847.5 810.0v9M845.0 836.5h9M849.5 832.0v9M846.0 866.5h9M850.5 862.0v9M846.0 852.5h9M850.5 848.0v9M893.0 856.5h9M897.5 852.0v9M896.0 847.5h9M900.5 843.0v9M939.0 917.5h9M943.5 913.0v9M939.0 924.5h9M943.5 920.0v9M956.0 843.5h9M960.5 839.0v9M955.0 857.5h9M959.5 853.0v9M977.0 907.5h9M981.5 903.0v9M981.0 898.5h9M985.5 894.0v9M981.0 880.5h9M985.5 876.0v9M984.0 843.5h9M988.5 839.0v9M984.0 856.5h9M988.5 852.0v9M1026.0 936.5h9M1030.5 932.0v9M1027.0 949.5h9M1031.5 945.0v9M1027.0 952.5h9M1031.5 948.0v9M1031.0 935.5h9M1035.5 931.0v9M1031.0 923.5h9M1035.5 919.0v9M1032.0 905.5h9M1036.5 901.0v9M1033.0 895.5h9M1037.5 891.0v9M1035.0 884.5h9M1039.5 880.0v9M1036.0 870.5h9M1040.5 866.0v9M1038.0 853.5h9M1042.5 849.0v9M1112.0 977.5h9M1116.5 973.0v9M1115.0 947.5h9M1119.5 943.0v9M1116.0 935.5h9M1120.5 931.0v9M1117.0 921.5h9M1121.5 917.0v9M1119.0 902.5h9M1123.5 898.0v9M1120.0 889.5h9M1124.5 885.0v9M1123.0 846.5h9M1127.5 842.0v9M1124.0 856.5h9M1128.5 852.0v9M1121.0 869.5h9M1125.5 865.0v9M1152.0 942.5h9M1156.5 938.0v9M1155.0 890.5h9M1159.5 886.0v9M1156.0 872.5h9M1160.5 868.0v9M1158.0 857.5h9M1162.5 853.0v9M1189.0 947.5h9M1193.5 943.0v9M1189.0 954.5h9M1193.5 950.0v9M1158.0 857.5h9M1162.5 853.0v9M1159.0 862.5h9M1163.5 858.0v9M1155.0 874.5h9M1159.5 870.0v9M1187.0 947.5h9M1191.5 943.0v9M1189.0 954.5h9M1193.5 950.0v9M1191.0 919.5h9M1195.5 915.0v9M1196.0 847.5h9M1200.5 843.0v9M1195.0 860.5h9M1199.5 856.0v9M1197.0 869.5h9M1201.5 865.0v9M1193.0 875.5h9M1197.5 871.0v9M1212.0 890.5h9M1216.5 886.0v9M1214.0 904.5h9M1218.5 900.0v9M1217.0 917.5h9M1221.5 913.0v9M1238.0 884.5h9M1242.5 880.0v9M1239.0 893.5h9M1243.5 889.0v9M1240.0 904.5h9M1244.5 900.0v9M1261.0 874.5h9M1265.5 870.0v9M1264.0 851.5h9M1268.5 847.0v9M1265.0 862.5h9M1269.5 858.0v9M1267.0 870.5h9M1271.5 866.0v9M1276.0 928.5h9M1280.5 924.0v9M1294.0 1004.5h9M1298.5 1000.0v9M1297.0 977.5h9M1301.5 973.0v9M1298.0 959.5h9M1302.5 955.0v9M1299.0 938.5h9M1303.5 934.0v9M1301.0 917.5h9M1305.5 913.0v9M1302.0 902.5h9M1306.5 898.0v9M1303.0 886.5h9M1307.5 882.0v9M1306.0 850.5h9M1310.5 846.0v9M1336.0 905.5h9M1340.5 901.0v9M1337.0 884.5h9M1341.5 880.0v9M1340.0 849.5h9M1344.5 845.0v9M1341.0 857.5h9M1345.5 853.0v9M1627.0 700.5h9M1631.5 696.0v9M1627.0 704.5h9M1631.5 700.0v9M1627.0 707.5h9M1631.5 703.0v9M1628.0 710.5h9M1632.5 706.0v9M1626.0 713.5h9M1630.5 709.0v9M1627.0 715.5h9M1631.5 711.0v9M1624.0 733.5h9M1628.5 729.0v9M1629.0 733.5h9M1633.5 729.0v9"/>
</g>
<g id="grid" shape-rendering="crispEdges" stroke="#000" stroke-width="1" stroke-dasharray="1 4" fill="none">
<line x1="454.5" y1="95.5" x2="454.5" y2="1123.5"/>
<line x1="663.5" y1="95.5" x2="663.5" y2="1123.5"/>
<line x1="871.5" y1="95.5" x2="871.5" y2="1123.5"/>
<line x1="1080.5" y1="95.5" x2="1080.5" y2="1123.5"/>
<line x1="1288.5" y1="95.5" x2="1288.5" y2="1123.5"/>
<line x1="1497.5" y1="95.5" x2="1497.5" y2="1123.5"/>
<line x1="247.5" y1="1065.5" x2="1706.5" y2="1065.5"/>
<line x1="247.5" y1="1008.5" x2="1706.5" y2="1008.5"/>
<line x1="247.5" y1="951.5" x2="1706.5" y2="951.5"/>
<line x1="247.5" y1="894.5" x2="1706.5" y2="894.5"/>
<line x1="247.5" y1="837.5" x2="1706.5" y2="837.5"/>
<line x1="247.5" y1="780.5" x2="1706.5" y2="780.5"/>
<line x1="247.5" y1="723.5" x2="1706.5" y2="723.5"/>
<line x1="247.5" y1="666.5" x2="1706.5" y2="666.5"/>
<line x1="247.5" y1="609.5" x2="1706.5" y2="609.5"/>
<line x1="247.5" y1="551.5" x2="1706.5" y2="551.5"/>
<line x1="247.5" y1="494.5" x2="1706.5" y2="494.5"/>
<line x1="247.5" y1="437.5" x2="1706.5" y2="437.5"/>
<line x1="247.5" y1="380.5" x2="1706.5" y2="380.5"/>
<line x1="247.5" y1="323.5" x2="1706.5" y2="323.5"/>
<line x1="247.5" y1="266.5" x2="1706.5" y2="266.5"/>
<line x1="247.5" y1="209.5" x2="1706.5" y2="209.5"/>
<line x1="247.5" y1="152.5" x2="1706.5" y2="152.5"/>
</g>
<g id="series" shape-rendering="crispEdges" fill="none" stroke-width="1" stroke-linejoin="round">
<polyline points="246.0,551.9 248.1,552.9 250.2,554.1 252.3,555.7 254.3,557.2 256.4,558.7 258.5,560.3 260.6,561.8 262.7,563.4 264.8,564.9 266.9,566.5 268.9,568.0 271.0,569.5 273.1,571.1 275.2,572.6 277.3,574.2 279.4,575.9 281.5,577.7 283.5,579.5 285.6,581.2 287.7,583.0 289.8,584.8 291.9,586.6 294.0,588.3 296.1,590.1 298.1,591.9 300.2,593.7 302.3,595.4 304.4,597.2 306.5,599.0 308.6,600.8 310.7,602.6 312.7,604.5 314.8,606.3 316.9,608.2 319.0,610.0 321.1,611.8 323.2,613.7 325.3,615.5 327.3,617.4 329.4,619.2 331.5,621.1 333.6,622.9 335.7,624.8 337.8,626.6 339.9,628.5 341.9,630.3 344.0,632.2 346.1,634.0 348.2,635.9 350.3,637.7 352.4,639.6 354.5,641.5 356.5,643.4 358.6,645.3 360.7,647.2 362.8,649.1 364.9,651.0 367.0,652.9 369.1,654.8 371.1,656.7 373.2,658.6 375.3,660.5 377.4,662.4 379.5,664.3 381.6,666.2 383.7,668.1 385.7,670.0 387.8,671.9 389.9,673.8 392.0,675.7 394.1,677.6 396.2,679.5 398.3,681.4 400.3,683.3 402.4,685.2 404.5,687.1 406.6,689.0 408.7,690.9 410.8,692.8 412.9,694.7 414.9,696.6 417.0,698.5 419.1,700.5 421.2,702.5 423.3,704.5 425.4,706.5 427.5,708.6 429.5,710.6 431.6,712.6 433.7,714.6 435.8,716.6 437.9,718.7 440.0,720.7 442.1,722.7 444.1,724.7 446.2,726.7 448.3,728.8 450.4,730.8 452.5,732.7 454.6,734.5 456.7,736.4 458.7,738.2 460.8,740.0 462.9,741.9 465.0,743.7 467.1,745.5 469.2,747.4 471.3,749.2 473.3,751.1 475.4,752.9 477.5,754.7 479.6,756.6 481.7,758.4 483.8,760.2 485.9,762.1 487.9,763.9 490.0,765.8 492.1,767.6 494.2,769.5 496.3,771.3 498.4,773.2 500.5,775.0 502.5,776.9 504.6,778.7 506.7,780.6 508.8,782.5 510.9,784.3 513.0,786.2 515.1,788.0 517.1,789.9 519.2,791.7 521.3,793.6 523.4,795.4 525.5,797.3 527.6,799.1 529.7,801.0 531.7,802.8 533.8,804.7 535.9,806.6 538.0,808.4 540.1,810.3 542.2,812.1 544.3,814.0 546.3,815.8 548.4,817.7 550.5,819.5 552.6,821.4 554.7,823.2 556.8,825.1 558.9,826.9 560.9,828.8 563.0,830.7 565.1,832.5 567.2,834.4 569.3,836.2 571.4,838.1 573.5,839.9 575.5,841.8 577.6,843.6 579.7,845.5 581.8,847.2 583.9,849.0 586.0,850.8 588.1,852.6 590.1,854.4 592.2,856.1 594.3,857.9 596.4,859.7 598.5,861.5 600.6,863.2 602.7,865.0 604.7,866.8 606.8,868.6 608.9,870.4 611.0,872.1 613.1,873.9 615.2,875.7 617.3,877.5 619.3,879.3 621.4,881.0 623.5,882.8 625.6,884.6 627.7,886.4 629.8,888.1 631.9,889.9 633.9,891.7 636.0,893.5 638.1,895.3 640.2,897.0 642.3,898.8 644.4,900.5 646.5,902.1 648.5,903.7 650.6,905.2 652.7,906.8 654.8,908.4 656.9,910.0 659.0,911.6 661.1,913.2 663.1,914.8 665.2,916.4 667.3,918.0 669.4,919.6 671.5,921.2 673.6,922.7 675.7,924.3 677.7,925.9 679.8,927.5 681.9,929.1 684.0,930.7 686.1,932.3 688.2,933.9 690.3,935.5 692.3,937.1 694.4,938.7 696.5,940.2 698.6,941.8 700.7,943.4 702.8,945.0 704.9,946.6 706.9,948.2 709.0,949.8 711.1,951.4 713.2,953.0 715.3,954.6 717.4,956.1 719.5,957.6 721.5,959.1 723.6,960.6 725.7,962.1 727.8,963.6 729.9,965.1 732.0,966.6 734.1,968.1 736.1,969.6 738.2,971.1 740.3,972.6 742.4,974.2 744.5,975.7 746.6,977.2 748.7,978.7 750.7,980.2 752.8,981.7 754.9,983.2 757.0,984.7 759.1,986.2 761.2,987.7 763.3,989.2 765.3,990.7 767.4,992.2 769.5,993.7 771.6,995.2 773.7,996.7 775.8,998.2 777.9,999.7 779.9,1001.2 782.0,1002.7 784.1,1004.2 786.2,1005.8 788.3,1007.3 790.4,1008.8 792.5,1010.3 794.5,1011.8 796.6,1013.3 798.7,1014.8 800.8,1016.3 802.9,1017.9 805.0,1019.4 807.1,1020.9 809.1,1022.4 811.2,1023.9 813.3,1025.5 815.4,1027.0 817.5,1028.5 819.6,1030.0 821.7,1031.6 823.7,1033.4 825.8,1035.2 827.9,1036.9 830.0,1038.7 832.1,1040.4 834.2,1042.2 836.3,1043.9 838.3,1045.7 840.4,1047.5 842.5,1049.2 844.6,1051.0 846.7,1052.7 848.8,1054.5 850.9,1056.2 852.9,1057.9 855.0,1059.7 857.1,1061.4 859.2,1063.1 861.3,1064.9 863.4,1066.6 865.5,1068.3 867.5,1070.1 869.6,1071.8 871.7,1073.5 873.8,1075.3 875.9,1077.0 878.0,1078.7 880.1,1080.4 882.1,1081.9 884.2,1083.3 886.3,1084.7 888.4,1086.1 890.5,1087.5 892.6,1088.8 894.7,1090.2 896.7,1091.6 898.8,1093.3 900.9,1094.9 903.0,1096.6 905.1,1098.3 907.2,1099.9 909.3,1101.6 911.3,1103.2 913.4,1104.9 915.5,1106.6 917.6,1108.2 919.7,1109.9 921.8,1111.6 923.9,1113.2 925.9,1114.7 928.0,1116.3 930.1,1117.9 932.2,1119.2 934.3,1120.4 936.4,1121.6 938.5,1121.7 940.5,1121.9 942.6,1121.2 944.7,1120.5 946.8,1119.9 948.9,1118.3 951.0,1116.7 953.1,1115.1 955.1,1113.6 957.2,1112.0 959.3,1110.4 961.4,1108.8 963.5,1107.2 965.6,1105.6 967.7,1103.6 969.7,1101.6 971.8,1099.6 973.9,1097.6 976.0,1095.6 978.1,1093.6 980.2,1091.6 982.3,1089.6 984.3,1087.6 986.4,1085.6 988.5,1083.6 990.6,1081.6 992.7,1079.6 994.8,1077.6 996.9,1075.6 998.9,1073.6 1001.0,1071.5 1003.1,1069.5 1005.2,1067.5 1007.3,1065.5 1009.4,1063.5 1011.5,1061.5 1013.5,1059.5 1015.6,1057.5 1017.7,1055.4 1019.8,1053.4 1021.9,1051.4 1024.0,1049.4 1026.1,1047.4 1028.1,1045.4 1030.2,1043.4 1032.3,1041.4 1034.4,1039.3 1036.5,1037.3 1038.6,1035.5 1040.7,1033.6 1042.7,1031.8 1044.8,1029.9 1046.9,1028.1 1049.0,1026.2 1051.1,1024.3 1053.2,1022.5 1055.3,1020.6 1057.3,1018.8 1059.4,1016.9 1061.5,1015.1 1063.6,1013.2 1065.7,1011.4 1067.8,1009.5 1069.9,1007.7 1071.9,1005.8 1074.0,1003.9 1076.1,1002.1 1078.2,1000.2 1080.3,998.4 1082.4,996.5 1084.5,994.7 1086.5,992.8 1088.6,991.0 1090.7,989.1 1092.8,987.3 1094.9,985.4 1097.0,983.5 1099.1,981.7 1101.1,979.8 1103.2,978.0 1105.3,976.1 1107.4,974.3 1109.5,972.4 1111.6,970.6 1113.7,968.7 1115.7,966.8 1117.8,965.0 1119.9,963.1 1122.0,961.2 1124.1,959.3 1126.2,957.4 1128.3,955.5 1130.3,953.6 1132.4,951.7 1134.5,949.8 1136.6,947.9 1138.7,946.0 1140.8,944.1 1142.9,942.2 1144.9,940.3 1147.0,938.4 1149.1,936.5 1151.2,934.5 1153.3,932.6 1155.4,930.7 1157.5,928.8 1159.5,927.3 1161.6,925.7 1163.7,924.2 1165.8,922.6 1167.9,921.1 1170.0,919.5 1172.1,918.0 1174.1,916.4 1176.2,914.9 1178.3,913.3 1180.4,911.8 1182.5,910.2 1184.6,908.7 1186.7,907.1 1188.7,905.5 1190.8,904.0 1192.9,902.4 1195.0,900.8 1197.1,899.0 1199.2,897.3 1201.3,895.5 1203.3,893.7 1205.4,891.9 1207.5,890.1 1209.6,888.4 1211.7,886.6 1213.8,884.8 1215.9,883.0 1217.9,881.2 1220.0,879.5 1222.1,877.7 1224.2,875.9 1226.3,874.1 1228.4,872.3 1230.5,870.6 1232.5,869.0 1234.6,867.4 1236.7,865.7 1238.8,864.1 1240.9,862.5 1243.0,860.9 1245.1,859.3 1247.1,857.7 1249.2,856.1 1251.3,854.5 1253.4,852.9 1255.5,851.3 1257.6,849.7 1259.7,848.1 1261.7,846.4 1263.8,844.8 1265.9,843.2 1268.0,841.4 1270.1,839.7 1272.2,838.0 1274.3,836.3 1276.3,834.6 1278.4,832.9 1280.5,831.2 1282.6,829.4 1284.7,827.7 1286.8,826.0 1288.9,824.3 1290.9,822.6 1293.0,820.9 1295.1,819.2 1297.2,817.5 1299.3,815.7 1301.4,814.0 1303.5,812.4 1305.5,810.8 1307.6,809.1 1309.7,807.5 1311.8,805.9 1313.9,804.3 1316.0,802.7 1318.1,801.1 1320.1,799.4 1322.2,797.8 1324.3,796.2 1326.4,794.6 1328.5,793.0 1330.6,791.3 1332.7,789.7 1334.7,788.1 1336.8,786.5 1338.9,784.9 1341.0,783.3 1343.1,781.9 1345.2,780.4 1347.3,778.9 1349.3,777.5 1351.4,776.0 1353.5,774.5 1355.6,773.0 1357.7,771.6 1359.8,770.1 1361.9,768.6 1363.9,767.1 1366.0,765.7 1368.1,764.2 1370.2,762.6 1372.3,761.0 1374.4,759.3 1376.5,757.7 1378.5,756.0 1380.6,754.3 1382.7,752.7 1384.8,751.0 1386.9,749.3 1389.0,747.7 1391.1,746.0 1393.1,744.3 1395.2,742.7 1397.3,741.0 1399.4,739.3 1401.5,737.7 1403.6,736.0 1405.7,734.3 1407.7,732.7 1409.8,731.0 1411.9,729.3 1414.0,727.7 1416.1,726.0 1418.2,724.4 1420.3,722.7 1422.3,721.0 1424.4,719.4 1426.5,717.7 1428.6,716.0 1430.7,714.4 1432.8,712.7 1434.9,711.0 1436.9,709.4 1439.0,707.7 1441.1,706.0 1443.2,704.4 1445.3,702.6 1447.4,700.9 1449.5,699.1 1451.5,697.4 1453.6,695.6 1455.7,693.9 1457.8,692.1 1459.9,690.4 1462.0,688.7 1464.1,686.9 1466.1,685.2 1468.2,683.4 1470.3,681.7 1472.4,679.9 1474.5,678.2 1476.6,676.4 1478.7,674.7 1480.7,673.0 1482.8,671.3 1484.9,669.6 1487.0,668.0 1489.1,666.3 1491.2,664.6 1493.3,662.9 1495.3,661.3 1497.4,659.6 1499.5,657.9 1501.6,656.2 1503.7,654.5 1505.8,652.9 1507.9,651.2 1509.9,649.5 1512.0,647.8 1514.1,646.3 1516.2,644.7 1518.3,643.1 1520.4,641.5 1522.5,639.9 1524.5,638.3 1526.6,636.8 1528.7,635.2 1530.8,633.6 1532.9,632.0 1535.0,630.4 1537.1,628.9 1539.1,627.3 1541.2,625.7 1543.3,624.1 1545.4,622.5 1547.5,621.0 1549.6,619.4 1551.7,617.8 1553.7,616.2 1555.8,614.6 1557.9,613.0 1560.0,611.5 1562.1,609.9 1564.2,608.3 1566.3,606.7 1568.3,605.1 1570.4,603.6 1572.5,602.0 1574.6,600.4 1576.7,598.8 1578.8,597.2 1580.9,595.6 1582.9,594.1 1585.0,592.6 1587.1,591.1 1589.2,589.6 1591.3,588.0 1593.4,586.5 1595.5,585.0 1597.5,583.2 1599.6,581.5 1601.7,579.7 1603.8,577.9 1605.9,576.2 1608.0,574.4 1610.1,572.6 1612.1,570.8 1614.2,569.1 1616.3,567.3 1618.4,566.0 1620.5,564.7 1622.6,563.5 1624.7,562.2 1626.7,560.9 1628.8,559.6 1630.9,558.3 1633.0,557.0 1635.1,556.2 1637.2,555.3 1639.3,554.5 1641.3,553.6 1643.4,553.1 1645.5,552.8 1647.6,552.6 1649.7,552.3 1651.8,552.0" stroke="#f00"/>
<line x1="249.5" y1="393.5" x2="1651.1" y2="393.5" stroke="#00f" stroke-dasharray="1 4"/>
<line x1="249.5" y1="710.5" x2="1651.1" y2="710.5" stroke="#00f" stroke-dasharray="1 4"/>
<polyline points="249.5,551.9 250.4,626.1 251.3,700.4 252.2,766.9 253.1,810.6 254.0,747.5 254.9,708.0 255.8,683.2 256.7,658.9 257.6,664.1 258.5,661.4 259.4,663.0 260.3,665.3 261.2,661.5 262.1,665.2 263.0,661.5 263.9,653.7 264.8,652.3 265.7,652.9 266.6,639.5 267.6,642.7 268.5,646.1 269.4,642.9 270.3,643.6 271.2,642.2 272.1,640.2 273.0,628.4 273.9,633.7 274.8,635.7 275.7,634.7 276.6,628.1 277.5,636.4 278.4,642.5 279.3,630.6 280.2,644.7 281.1,646.0 282.0,641.4 282.9,631.6 283.8,643.0 284.7,655.3 285.6,646.0 286.5,647.6 287.4,647.8 288.3,643.8 289.2,643.3 290.1,642.8 291.1,646.1 292.0,639.4 292.9,635.4 293.8,640.8 294.7,645.7 295.6,642.2 296.5,642.0 297.4,649.3 298.3,649.9 299.2,642.9 300.1,645.4 301.0,647.7 301.9,646.2 302.8,646.6 303.7,646.6 304.6,656.0 305.5,642.4 306.4,643.8 307.3,649.6 308.2,643.2 309.1,643.6 310.0,645.1 310.9,640.9 311.8,633.0 312.7,637.8 313.6,634.9 314.6,630.9 315.5,644.4 316.4,648.1 317.3,643.5 318.2,653.4 319.1,650.9 320.0,642.2 320.9,639.5 321.8,640.5 322.7,653.0 323.6,638.0 324.5,640.0 325.4,639.8 326.3,641.0 327.2,652.3 328.1,656.0 329.0,656.6 329.9,641.7 330.8,648.3 331.7,648.4 332.6,648.5 333.5,644.5 334.4,643.1 335.3,643.6 336.2,651.2 337.1,663.7 338.0,653.3 339.0,648.1 339.9,641.1 340.8,644.5 341.7,648.4 342.6,645.2 343.5,653.3 344.4,654.5 345.3,654.8 346.2,648.7 347.1,637.2 348.0,638.4 348.9,637.2 349.8,641.0 350.7,642.5 351.6,646.7 352.5,647.7 353.4,658.6 354.3,658.7 355.2,660.4 356.1,651.9 357.0,649.9 357.9,647.7 358.8,645.3 359.7,652.7 360.6,649.5 361.5,650.6 362.5,653.8 363.4,652.9 364.3,655.2 365.2,659.5 366.1,657.7 367.0,659.0 367.9,657.6 368.8,658.3 369.7,656.9 370.6,661.7 371.5,654.8 372.4,653.3 373.3,656.4 374.2,659.0 375.1,658.3 376.0,656.6 376.9,656.4 377.8,656.4 378.7,661.5 379.6,662.1 380.5,657.1 381.4,657.3 382.3,661.2 383.2,661.6 384.1,663.1 385.0,662.9 386.0,658.1 386.9,659.0 387.8,656.5 388.7,657.4 389.6,661.5 390.5,661.6 391.4,655.2 392.3,659.0 393.2,661.4 394.1,657.5 395.0,658.3 395.9,658.9 396.8,655.9 397.7,661.7 398.6,659.6 399.5,661.8 400.4,663.7 401.3,663.2 402.2,658.7 403.1,659.6 404.0,663.7 404.9,664.0 405.8,658.4 406.7,657.0 407.6,661.0 408.5,655.2 409.5,658.7 410.4,662.1 411.3,661.3 412.2,658.7 413.1,656.0 414.0,656.1 414.9,659.4 415.8,661.2 416.7,664.1 417.6,662.8 418.5,663.6 419.4,662.3 420.3,665.3 421.2,665.3 422.1,666.3 423.0,667.7 423.9,668.2 424.8,668.1 425.7,668.4 426.6,664.7 427.5,664.1 428.4,666.9 429.3,664.2 430.2,663.4 431.1,660.6 432.0,662.9 432.9,664.0 433.9,665.6 434.8,664.5 435.7,663.2 436.6,663.3 437.5,664.3 438.4,663.0 439.3,663.5 440.2,663.3 441.1,665.9 442.0,664.5 442.9,666.6 443.8,667.2 444.7,665.2 445.6,660.1 446.5,660.3 447.4,662.5 448.3,663.9 449.2,661.8 450.1,658.9 451.0,657.4 451.9,659.2 452.8,658.5 453.7,658.8 454.6,658.3 455.5,659.7 456.4,659.0 457.4,662.9 458.3,662.5 459.2,658.8 460.1,660.1 461.0,657.4 461.9,660.2 462.8,659.5 463.7,657.4 464.6,659.6 465.5,659.9 466.4,653.1 467.3,656.9 468.2,658.6 469.1,659.1 470.0,658.0 470.9,657.6 471.8,655.2 472.7,654.5 473.6,656.9 474.5,657.8 475.4,660.5 476.3,661.9 477.2,660.9 478.1,657.2 479.0,656.8 479.9,655.2 480.9,654.1 481.8,656.0 482.7,652.0 483.6,656.1 484.5,658.4 485.4,659.0 486.3,656.0 487.2,657.6 488.1,659.7 489.0,658.3 489.9,656.0 490.8,657.7 491.7,658.7 492.6,656.2 493.5,655.2 494.4,654.8 495.3,658.4 496.2,657.7 497.1,657.1 498.0,661.6 498.9,657.0 499.8,657.3 500.7,658.4 501.6,653.1 502.5,655.4 503.4,658.2 504.4,658.0 505.3,656.6 506.2,655.3 507.1,656.6 508.0,659.0 508.9,659.6 509.8,660.1 510.7,660.8 511.6,658.9 512.5,659.0 513.4,657.8 514.3,659.2 515.2,659.8 516.1,658.6 517.0,658.4 517.9,655.0 518.8,657.9 519.7,656.8 520.6,656.8 521.5,659.5 522.4,656.2 523.3,656.0 524.2,660.8 525.1,657.0 526.0,654.5 526.9,657.1 527.8,652.8 528.8,654.2 529.7,657.6 530.6,655.4 531.5,656.4 532.4,658.9 533.3,661.8 534.2,657.8 535.1,658.1 536.0,655.2 536.9,654.4 537.8,656.0 538.7,656.7 539.6,651.9 540.5,649.9 541.4,651.0 542.3,653.9 543.2,656.5 544.1,656.4 545.0,651.8 545.9,652.3 546.8,654.1 547.7,657.0 548.6,655.1 549.5,656.6 550.4,655.2 551.3,653.0 552.3,651.2 553.2,652.4 554.1,654.0 555.0,653.4 555.9,649.6 556.8,651.0 557.7,655.5 558.6,651.0 559.5,651.8 560.4,645.1 561.3,650.6 562.2,652.2 563.1,653.4 564.0,652.4 564.9,654.0 565.8,656.6 566.7,658.7 567.6,655.7 568.5,655.2 569.4,655.0 570.3,649.0 571.2,649.2 572.1,648.6 573.0,651.7 573.9,651.4 574.8,652.3 575.8,652.7 576.7,650.7 577.6,650.2 578.5,650.5 579.4,651.0 580.3,654.6 581.2,654.7 582.1,652.3 583.0,652.8 583.9,653.9 584.8,651.9 585.7,653.7 586.6,654.0 587.5,650.7 588.4,651.8 589.3,648.5 590.2,648.9 591.1,648.4 592.0,647.5 592.9,654.2 593.8,652.6 594.7,654.5 595.6,653.6 596.5,652.3 597.4,648.8 598.3,650.0 599.3,646.8 600.2,650.1 601.1,650.5 602.0,650.3 602.9,648.4 603.8,649.6 604.7,651.4 605.6,651.5 606.5,653.9 607.4,649.1 608.3,648.1 609.2,648.3 610.1,648.7 611.0,650.7 611.9,651.2 612.8,648.7 613.7,651.0 614.6,652.0 615.5,647.3 616.4,645.2 617.3,647.0 618.2,647.3 619.1,648.1 620.0,645.7 620.9,648.7 621.8,648.9 622.7,648.0 623.7,645.6 624.6,648.1 625.5,648.1 626.4,649.7 627.3,650.7 628.2,651.2 629.1,649.7 630.0,647.2 630.9,649.5 631.8,650.2 632.7,650.1 633.6,648.3 634.5,646.7 635.4,650.2 636.3,648.2 637.2,650.2 638.1,647.3 639.0,649.6 639.9,650.8 640.8,650.5 641.7,648.9 642.6,650.1 643.5,648.0 644.4,647.1 645.3,646.8 646.2,646.2 647.2,644.6 648.1,647.3 649.0,646.8 649.9,646.6 650.8,650.9 651.7,647.4 652.6,648.3 653.5,648.6 654.4,648.0 655.3,646.6 656.2,645.3 657.1,644.4 658.0,646.4 658.9,644.3 659.8,643.9 660.7,645.4 661.6,645.2 662.5,643.3 663.4,643.2 664.3,642.5 665.2,643.4 666.1,641.5 667.0,638.3 667.9,640.6 668.8,646.0 669.7,641.2 670.7,643.9 671.6,646.8 672.5,650.2 673.4,645.7 674.3,642.1 675.2,640.7 676.1,642.9 677.0,640.0 677.9,641.8 678.8,643.7 679.7,643.0 680.6,642.4 681.5,642.3 682.4,641.5 683.3,646.6 684.2,640.8 685.1,642.6 686.0,640.8 686.9,643.0 687.8,641.9 688.7,642.0 689.6,645.0 690.5,642.1 691.4,640.2 692.3,643.0 693.2,646.3 694.2,644.6 695.1,644.1 696.0,641.8 696.9,641.0 697.8,637.1 698.7,637.3 699.6,639.2 700.5,639.2 701.4,645.6 702.3,644.1 703.2,643.5 704.1,641.4 705.0,639.4 705.9,638.7 706.8,636.7 707.7,639.3 708.6,638.2 709.5,638.6 710.4,638.4 711.3,637.6 712.2,638.4 713.1,637.7 714.0,637.8 714.9,635.5 715.8,636.8 716.7,636.5 717.6,631.3 718.6,633.2 719.5,634.2 720.4,633.3 721.3,637.4 722.2,635.4 723.1,634.4 724.0,634.6 724.9,633.4 725.8,633.2 726.7,632.2 727.6,635.6 728.5,634.8 729.4,636.4 730.3,633.3 731.2,634.2 732.1,637.5 733.0,636.0 733.9,637.6 734.8,634.0 735.7,635.2 736.6,639.6 737.5,637.6 738.4,633.7 739.3,633.3 740.2,635.1 741.1,633.2 742.1,632.4 743.0,630.0 743.9,630.1 744.8,631.2 745.7,634.1 746.6,633.1 747.5,632.5 748.4,632.8 749.3,632.0 750.2,635.0 751.1,632.5 752.0,632.5 752.9,631.7 753.8,632.3 754.7,632.9 755.6,631.9 756.5,630.3 757.4,631.8 758.3,631.1 759.2,633.0 760.1,631.3 761.0,631.3 761.9,634.0 762.8,629.9 763.7,632.4 764.6,631.4 765.6,633.8 766.5,635.8 767.4,631.7 768.3,634.5 769.2,637.2 770.1,634.7 771.0,636.5 771.9,634.5 772.8,629.5 773.7,632.0 774.6,631.7 775.5,631.3 776.4,631.9 777.3,633.0 778.2,630.2 779.1,632.5 780.0,632.7 780.9,633.4 781.8,636.8 782.7,635.1 783.6,635.0 784.5,633.8 785.4,633.3 786.3,631.4 787.2,638.0 788.1,638.2 789.1,638.3 790.0,639.2 790.9,637.1 791.8,637.3 792.7,637.0 793.6,640.7 794.5,641.0 795.4,639.3 796.3,639.4 797.2,639.9 798.1,639.1 799.0,639.2 799.9,641.0 800.8,636.1 801.7,638.9 802.6,637.5 803.5,637.0 804.4,636.1 805.3,639.0 806.2,641.3 807.1,639.4 808.0,639.0 808.9,644.4 809.8,647.5 810.7,644.5 811.6,643.0 812.5,642.1 813.5,640.3 814.4,642.5 815.3,636.0 816.2,636.8 817.1,636.4 818.0,638.9 818.9,645.8 819.8,644.5 820.7,646.2 821.6,645.4 822.5,646.7 823.4,646.3 824.3,649.9 825.2,650.9 826.1,650.2 827.0,651.5 827.9,651.4 828.8,649.2 829.7,645.4 830.6,648.2 831.5,647.3 832.4,651.1 833.3,651.3 834.2,649.8 835.1,648.6 836.0,651.4 837.0,649.3 837.9,649.3 838.8,646.9 839.7,646.6 840.6,647.3 841.5,649.6 842.4,649.3 843.3,651.5 844.2,652.4 845.1,655.0 846.0,655.1 846.9,655.0 847.8,652.6 848.7,650.8 849.6,652.9 850.5,651.1 851.4,649.1 852.3,646.9 853.2,648.0 854.1,647.6 855.0,648.6 855.9,646.2 856.8,650.2 857.7,648.0 858.6,652.3 859.5,645.6 860.5,644.1 861.4,649.7 862.3,648.7 863.2,650.0 864.1,651.2 865.0,648.7 865.9,648.5 866.8,644.2 867.7,645.4 868.6,647.1 869.5,645.8 870.4,644.1 871.3,642.5 872.2,642.4 873.1,646.6 874.0,647.0 874.9,645.8 875.8,646.7 876.7,643.7 877.6,644.6 878.5,644.4 879.4,645.0 880.3,644.3 881.2,647.3 882.1,641.0 883.0,643.8 884.0,645.3 884.9,648.3 885.8,646.0 886.7,647.7 887.6,644.8 888.5,641.7 889.4,641.5 890.3,643.6 891.2,640.9 892.1,642.7 893.0,643.3 893.9,643.3 894.8,644.4 895.7,643.0 896.6,645.8 897.5,648.2 898.4,643.0 899.3,644.7 900.2,644.6 901.1,643.2 902.0,644.2 902.9,646.1 903.8,644.9 904.7,645.9 905.6,643.2 906.5,644.0 907.4,644.0 908.4,641.8 909.3,645.7 910.2,647.3 911.1,643.3 912.0,640.4 912.9,641.5 913.8,643.7 914.7,640.6 915.6,640.6 916.5,639.6 917.4,645.1 918.3,644.0 919.2,645.4 920.1,646.1 921.0,642.9 921.9,641.1 922.8,642.8 923.7,643.1 924.6,639.8 925.5,639.8 926.4,641.4 927.3,640.8 928.2,641.3 929.1,644.4 930.0,643.3 930.9,629.1 931.9,608.2 932.8,587.3 933.7,566.4 934.6,550.7 935.5,546.7 936.4,542.8 937.3,538.8 938.2,534.8 939.1,530.9 940.0,526.9 940.9,523.0 941.8,519.0 942.7,515.0 943.6,511.1 944.5,507.1 945.4,501.6 946.3,495.7 947.2,489.8 948.1,483.8 949.0,477.9 949.9,471.9 950.8,466.0 951.7,460.3 952.6,457.0 953.5,453.8 954.4,450.5 955.4,450.5 956.3,444.4 957.2,444.1 958.1,422.4 959.0,426.7 959.9,432.2 960.8,436.7 961.7,434.9 962.6,435.0 963.5,434.8 964.4,435.9 965.3,439.0 966.2,437.3 967.1,439.9 968.0,442.9 968.9,439.3 969.8,438.6 970.7,441.4 971.6,441.3 972.5,438.6 973.4,437.6 974.3,441.4 975.2,438.6 976.1,445.1 977.0,442.4 977.9,440.5 978.9,440.8 979.8,440.4 980.7,443.9 981.6,434.8 982.5,425.3 983.4,427.3 984.3,425.9 985.2,425.9 986.1,430.3 987.0,430.9 987.9,430.6 988.8,436.0 989.7,435.8 990.6,435.7 991.5,439.5 992.4,439.3 993.3,437.2 994.2,436.8 995.1,440.4 996.0,437.9 996.9,438.3 997.8,439.1 998.7,436.6 999.6,437.1 1000.5,438.2 1001.4,437.5 1002.3,437.9 1003.3,436.8 1004.2,439.3 1005.1,443.9 1006.0,439.0 1006.9,438.4 1007.8,438.8 1008.7,440.0 1009.6,440.8 1010.5,440.8 1011.4,443.1 1012.3,440.5 1013.2,440.8 1014.1,443.2 1015.0,441.7 1015.9,442.3 1016.8,441.9 1017.7,440.6 1018.6,435.5 1019.5,441.2 1020.4,440.6 1021.3,439.8 1022.2,440.0 1023.1,437.9 1024.0,441.0 1024.9,442.2 1025.8,442.2 1026.8,445.0 1027.7,441.1 1028.6,444.3 1029.5,442.0 1030.4,439.6 1031.3,439.2 1032.2,429.8 1033.1,428.6 1034.0,424.8 1034.9,426.3 1035.8,431.3 1036.7,427.7 1037.6,426.3 1038.5,432.2 1039.4,436.5 1040.3,427.2 1041.2,430.7 1042.1,439.0 1043.0,437.0 1043.9,436.1 1044.8,444.3 1045.7,440.6 1046.6,440.5 1047.5,442.3 1048.4,444.7 1049.3,443.7 1050.3,445.9 1051.2,444.9 1052.1,445.4 1053.0,446.1 1053.9,444.3 1054.8,442.7 1055.7,442.2 1056.6,442.9 1057.5,440.6 1058.4,445.9 1059.3,445.4 1060.2,445.0 1061.1,442.6 1062.0,448.9 1062.9,447.9 1063.8,447.2 1064.7,445.8 1065.6,440.8 1066.5,442.9 1067.4,444.5 1068.3,444.2 1069.2,442.8 1070.1,444.7 1071.0,441.6 1071.9,446.4 1072.8,443.3 1073.8,443.1 1074.7,442.3 1075.6,440.9 1076.5,444.0 1077.4,444.0 1078.3,444.4 1079.2,446.4 1080.1,447.6 1081.0,448.2 1081.9,445.1 1082.8,450.3 1083.7,450.5 1084.6,447.7 1085.5,443.9 1086.4,445.2 1087.3,442.8 1088.2,444.6 1089.1,446.4 1090.0,449.4 1090.9,447.1 1091.8,442.7 1092.7,444.3 1093.6,447.4 1094.5,445.3 1095.4,448.6 1096.3,449.6 1097.2,445.2 1098.2,444.8 1099.1,443.4 1100.0,444.3 1100.9,445.5 1101.8,445.4 1102.7,446.5 1103.6,444.0 1104.5,447.9 1105.4,450.9 1106.3,450.1 1107.2,446.0 1108.1,447.2 1109.0,451.6 1109.9,442.5 1110.8,446.5 1111.7,446.8 1112.6,445.2 1113.5,445.0 1114.4,445.3 1115.3,439.1 1116.2,431.7 1117.1,433.6 1118.0,432.8 1118.9,430.4 1119.8,431.8 1120.7,435.4 1121.7,434.5 1122.6,431.5 1123.5,429.9 1124.4,433.5 1125.3,434.2 1126.2,436.2 1127.1,436.5 1128.0,438.9 1128.9,441.2 1129.8,443.8 1130.7,443.7 1131.6,443.4 1132.5,445.6 1133.4,447.1 1134.3,443.7 1135.2,446.1 1136.1,449.0 1137.0,447.4 1137.9,450.8 1138.8,452.2 1139.7,448.7 1140.6,449.2 1141.5,447.9 1142.4,447.4 1143.3,450.6 1144.2,449.5 1145.2,451.0 1146.1,450.5 1147.0,450.3 1147.9,451.0 1148.8,454.0 1149.7,452.1 1150.6,452.0 1151.5,450.9 1152.4,453.9 1153.3,452.7 1154.2,451.0 1155.1,442.4 1156.0,439.8 1156.9,440.1 1157.8,442.9 1158.7,442.7 1159.6,442.6 1160.5,442.0 1161.4,445.7 1162.3,445.0 1163.2,447.1 1164.1,449.3 1165.0,451.0 1165.9,455.6 1166.8,454.2 1167.7,451.8 1168.7,455.8 1169.6,452.8 1170.5,453.0 1171.4,453.9 1172.3,455.9 1173.2,455.8 1174.1,457.6 1175.0,456.8 1175.9,456.3 1176.8,456.1 1177.7,458.7 1178.6,455.4 1179.5,457.3 1180.4,455.9 1181.3,454.9 1182.2,456.1 1183.1,451.1 1184.0,453.8 1184.9,454.3 1185.8,456.0 1186.7,455.6 1187.6,458.7 1188.5,456.1 1189.4,457.1 1190.3,455.5 1191.2,443.0 1192.1,438.2 1193.1,439.8 1194.0,441.6 1194.9,444.1 1195.8,442.9 1196.7,438.9 1197.6,436.5 1198.5,439.2 1199.4,440.8 1200.3,440.8 1201.2,445.4 1202.1,447.7 1203.0,450.0 1203.9,448.6 1204.8,453.2 1205.7,451.8 1206.6,450.1 1207.5,450.5 1208.4,448.7 1209.3,448.7 1210.2,451.2 1211.1,453.4 1212.0,454.5 1212.9,451.8 1213.8,452.0 1214.7,451.5 1215.6,453.5 1216.6,450.1 1217.5,449.2 1218.4,449.0 1219.3,452.9 1220.2,446.8 1221.1,447.8 1222.0,452.3 1222.9,450.0 1223.8,451.3 1224.7,453.3 1225.6,454.1 1226.5,451.9 1227.4,451.3 1228.3,445.4 1229.2,439.4 1230.1,442.7 1231.0,442.3 1231.9,444.1 1232.8,448.4 1233.7,449.2 1234.6,448.2 1235.5,453.2 1236.4,452.6 1237.3,456.3 1238.2,454.9 1239.1,454.9 1240.1,456.4 1241.0,456.8 1241.9,459.2 1242.8,459.4 1243.7,456.9 1244.6,456.2 1245.5,452.8 1246.4,458.1 1247.3,459.4 1248.2,458.8 1249.1,458.6 1250.0,459.7 1250.9,460.1 1251.8,459.6 1252.7,456.5 1253.6,457.9 1254.5,460.0 1255.4,458.7 1256.3,464.2 1257.2,463.0 1258.1,462.0 1259.0,459.6 1259.9,463.9 1260.8,461.5 1261.7,454.3 1262.6,442.3 1263.6,440.3 1264.5,441.6 1265.4,439.9 1266.3,443.6 1267.2,444.9 1268.1,446.5 1269.0,446.3 1269.9,449.9 1270.8,455.5 1271.7,452.3 1272.6,455.0 1273.5,455.3 1274.4,455.3 1275.3,451.1 1276.2,452.9 1277.1,451.3 1278.0,452.9 1278.9,456.7 1279.8,454.6 1280.7,453.5 1281.6,455.3 1282.5,458.2 1283.4,450.4 1284.3,448.3 1285.2,451.0 1286.1,452.1 1287.0,451.6 1288.0,452.1 1288.9,456.7 1289.8,458.5 1290.7,454.7 1291.6,451.9 1292.5,451.3 1293.4,451.5 1294.3,453.3 1295.2,451.4 1296.1,440.4 1297.0,437.7 1297.9,437.1 1298.8,437.2 1299.7,441.5 1300.6,439.7 1301.5,443.1 1302.4,445.2 1303.3,441.1 1304.2,446.2 1305.1,445.7 1306.0,443.5 1306.9,446.4 1307.8,450.7 1308.7,454.7 1309.6,454.2 1310.5,454.5 1311.5,456.3 1312.4,459.2 1313.3,461.8 1314.2,460.2 1315.1,459.6 1316.0,457.7 1316.9,459.3 1317.8,457.5 1318.7,461.2 1319.6,464.0 1320.5,459.7 1321.4,460.6 1322.3,461.9 1323.2,461.1 1324.1,462.9 1325.0,462.0 1325.9,463.7 1326.8,461.3 1327.7,461.7 1328.6,460.8 1329.5,460.3 1330.4,459.2 1331.3,463.2 1332.2,461.1 1333.1,461.0 1334.0,462.8 1335.0,461.8 1335.9,459.7 1336.8,458.8 1337.7,446.0 1338.6,442.9 1339.5,442.9 1340.4,439.0 1341.3,443.4 1342.2,448.5 1343.1,451.1 1344.0,453.3 1344.9,453.7 1345.8,454.0 1346.7,456.4 1347.6,458.5 1348.5,457.4 1349.4,459.5 1350.3,459.8 1351.2,457.5 1352.1,457.5 1353.0,459.5 1353.9,461.3 1354.8,461.2 1355.7,462.2 1356.6,458.5 1357.5,456.5 1358.5,456.4 1359.4,456.4 1360.3,458.1 1361.2,457.5 1362.1,457.4 1363.0,457.4 1363.9,458.6 1364.8,460.3 1365.7,458.2 1366.6,457.1 1367.5,459.7 1368.4,459.1 1369.3,458.3 1370.2,456.9 1371.1,458.6 1372.0,450.3 1372.9,447.9 1373.8,448.0 1374.7,447.7 1375.6,443.7 1376.5,446.1 1377.4,440.5 1378.3,445.0 1379.2,447.4 1380.1,450.9 1381.0,451.2 1381.9,452.9 1382.9,453.2 1383.8,454.1 1384.7,454.6 1385.6,455.6 1386.5,454.7 1387.4,456.6 1388.3,458.6 1389.2,455.3 1390.1,458.1 1391.0,457.6 1391.9,453.9 1392.8,457.9 1393.7,459.0 1394.6,460.3 1395.5,461.5 1396.4,458.7 1397.3,459.3 1398.2,458.8 1399.1,462.4 1400.0,459.5 1400.9,460.7 1401.8,463.8 1402.7,462.7 1403.6,464.0 1404.5,458.0 1405.4,462.0 1406.4,459.8 1407.3,461.6 1408.2,461.9 1409.1,463.0 1410.0,458.4 1410.9,461.1 1411.8,461.3 1412.7,459.6 1413.6,460.1 1414.5,458.2 1415.4,460.2 1416.3,463.0 1417.2,460.0 1418.1,457.1 1419.0,457.1 1419.9,460.0 1420.8,457.2 1421.7,456.7 1422.6,458.8 1423.5,458.2 1424.4,458.8 1425.3,458.8 1426.2,457.7 1427.1,456.8 1428.0,458.0 1428.9,458.6 1429.9,464.1 1430.8,463.1 1431.7,460.1 1432.6,461.3 1433.5,459.5 1434.4,459.8 1435.3,459.4 1436.2,459.2 1437.1,455.0 1438.0,445.4 1438.9,442.5 1439.8,445.1 1440.7,442.9 1441.6,444.6 1442.5,440.4 1443.4,442.2 1444.3,442.7 1445.2,441.7 1446.1,443.3 1447.0,443.9 1447.9,445.7 1448.8,449.4 1449.7,451.4 1450.6,447.9 1451.5,448.1 1452.4,449.8 1453.4,451.3 1454.3,449.6 1455.2,452.9 1456.1,454.2 1457.0,454.7 1457.9,456.8 1458.8,457.5 1459.7,452.2 1460.6,453.4 1461.5,456.1 1462.4,456.0 1463.3,456.5 1464.2,456.6 1465.1,455.9 1466.0,458.5 1466.9,460.4 1467.8,457.9 1468.7,456.9 1469.6,458.4 1470.5,458.5 1471.4,459.1 1472.3,456.1 1473.2,456.5 1474.1,451.2 1475.0,447.6 1475.9,449.1 1476.8,449.6 1477.8,438.4 1478.7,436.2 1479.6,437.5 1480.5,437.1 1481.4,444.4 1482.3,444.4 1483.2,446.4 1484.1,448.5 1485.0,452.3 1485.9,455.5 1486.8,453.1 1487.7,456.8 1488.6,461.0 1489.5,451.6 1490.4,449.6 1491.3,456.8 1492.2,451.2 1493.1,463.0 1494.0,457.4 1494.9,454.5 1495.8,455.0 1496.7,457.2 1497.6,454.1 1498.5,453.8 1499.4,460.5 1500.3,461.9 1501.3,455.3 1502.2,453.4 1503.1,460.4 1504.0,464.9 1504.9,459.0 1505.8,461.6 1506.7,462.3 1507.6,461.8 1508.5,458.5 1509.4,466.3 1510.3,458.2 1511.2,453.4 1512.1,439.7 1513.0,446.0 1513.9,447.8 1514.8,445.6 1515.7,444.1 1516.6,448.7 1517.5,452.6 1518.4,448.0 1519.3,447.4 1520.2,450.7 1521.1,454.7 1522.0,450.5 1522.9,451.0 1523.8,455.8 1524.8,450.4 1525.7,449.6 1526.6,453.0 1527.5,453.5 1528.4,452.5 1529.3,457.2 1530.2,462.4 1531.1,454.9 1532.0,463.2 1532.9,466.5 1533.8,467.5 1534.7,460.1 1535.6,454.6 1536.5,459.1 1537.4,453.0 1538.3,448.9 1539.2,448.2 1540.1,458.9 1541.0,453.0 1541.9,446.2 1542.8,456.4 1543.7,464.0 1544.6,455.4 1545.5,454.7 1546.4,456.7 1547.3,457.7 1548.3,465.0 1549.2,464.7 1550.1,460.3 1551.0,457.1 1551.9,453.9 1552.8,452.3 1553.7,457.5 1554.6,458.2 1555.5,452.3 1556.4,461.2 1557.3,457.4 1558.2,461.4 1559.1,458.8 1560.0,450.8 1560.9,453.3 1561.8,457.9 1562.7,461.0 1563.6,465.4 1564.5,461.6 1565.4,469.3 1566.3,463.6 1567.2,460.2 1568.1,463.0 1569.0,463.8 1569.9,455.9 1570.8,452.2 1571.7,447.2 1572.7,448.6 1573.6,452.8 1574.5,456.9 1575.4,452.7 1576.3,453.2 1577.2,450.8 1578.1,436.0 1579.0,442.0 1579.9,443.7 1580.8,440.9 1581.7,442.4 1582.6,445.1 1583.5,442.6 1584.4,434.8 1585.3,447.6 1586.2,450.0 1587.1,453.0 1588.0,456.1 1588.9,451.8 1589.8,457.5 1590.7,453.0 1591.6,462.3 1592.5,462.1 1593.4,458.0 1594.3,448.3 1595.2,445.7 1596.2,445.1 1597.1,447.2 1598.0,453.0 1598.9,460.7 1599.8,456.4 1600.7,458.5 1601.6,455.3 1602.5,466.0 1603.4,465.2 1604.3,471.1 1605.2,462.3 1606.1,466.1 1607.0,469.3 1607.9,462.8 1608.8,463.9 1609.7,463.2 1610.6,464.3 1611.5,459.8 1612.4,461.3 1613.3,462.1 1614.2,456.2 1615.1,445.4 1616.0,443.9 1616.9,450.6 1617.8,449.3 1618.7,460.8 1619.7,466.4 1620.6,468.6 1621.5,471.4 1622.4,468.1 1623.3,475.3 1624.2,479.8 1625.1,475.0 1626.0,477.7 1626.9,475.9 1627.8,478.4 1628.7,484.9 1629.6,488.7 1630.5,486.9 1631.4,491.5 1632.3,495.1 1633.2,496.1 1634.1,504.2 1635.0,511.6 1635.9,513.3 1636.8,507.6 1637.7,511.1 1638.6,507.7 1639.5,512.3 1640.4,514.5 1641.3,521.8 1642.2,530.3 1643.2,536.7 1644.1,528.2 1645.0,528.9 1645.9,522.0 1646.8,511.3 1647.7,502.5 1648.6,493.2 1649.5,479.0 1650.4,463.5 1651.3,447.7 1652.2,551.9" stroke="#00f"/>
<polyline points="256.1,534.8 257.0,450.6 257.9,397.5 258.8,349.9 259.7,356.6 260.6,369.8 261.5,386.6 262.4,390.0 263.3,399.5 264.2,398.7 265.1,390.2 266.0,391.9 266.9,396.9 267.8,404.6 268.7,402.6 269.6,405.7 270.5,404.1 271.4,401.6 272.3,418.8 273.3,412.9 274.2,419.8 275.1,419.6 276.0,422.0 276.9,408.8 277.8,406.8 278.7,407.6 279.6,416.2 280.5,424.6 281.4,421.1 282.3,415.9 283.2,415.5 284.1,410.5 285.0,415.0 285.9,403.2 286.8,405.6 287.7,398.1 288.6,406.0 289.5,412.0 290.4,418.2 291.3,410.3 292.2,405.6 293.1,409.2 294.0,409.0 294.9,413.1 295.8,415.6 296.8,415.7 297.7,425.6 298.6,424.1 299.5,416.8 300.4,413.3 301.3,405.8 302.2,405.6 303.1,406.7 304.0,409.5 304.9,424.9 305.8,416.6 306.7,419.0 307.6,411.3 308.5,413.0 309.4,413.9 310.3,415.5 311.2,414.5 312.1,424.5 313.0,426.1 313.9,409.1 314.8,407.1 315.7,411.8 316.6,413.0 317.5,413.5 318.4,391.1 319.3,399.1 320.3,405.5 321.2,412.2 322.1,425.4 323.0,415.1 323.9,403.0 324.8,401.0 325.7,404.3 326.6,411.0 327.5,417.2 328.4,411.8 329.3,412.6 330.2,417.5 331.1,401.9 332.0,411.8 332.9,413.2 333.8,425.3 334.7,404.5 335.6,407.7 336.5,408.5 337.4,406.4 338.3,412.6 339.2,413.7 340.1,408.3 341.0,413.1 341.9,407.8 342.8,400.0 343.8,399.5 344.7,394.9 345.6,394.9 346.5,390.5 347.4,397.5 348.3,399.2 349.2,409.1 350.1,407.1 351.0,409.4 351.9,406.0 352.8,410.5 353.7,403.4 354.6,386.2 355.5,400.1 356.4,396.9 357.3,395.1 358.2,402.7 359.1,402.8 360.0,404.1 360.9,398.4 361.8,402.7 362.7,384.0 363.6,387.2 364.5,393.8 365.4,391.1 366.3,391.6 367.2,395.2 368.2,395.3 369.1,395.9 370.0,395.5 370.9,393.5 371.8,399.5 372.7,401.2 373.6,398.6 374.5,395.7 375.4,396.6 376.3,396.2 377.2,392.9 378.1,392.6 379.0,394.2 379.9,395.3 380.8,398.3 381.7,394.8 382.6,394.3 383.5,396.5 384.4,393.9 385.3,394.8 386.2,395.0 387.1,398.1 388.0,393.3 388.9,395.2 389.8,393.4 390.7,392.8 391.7,394.3 392.6,393.7 393.5,393.8 394.4,393.8 395.3,392.6 396.2,394.1 397.1,391.5 398.0,391.7 398.9,394.7 399.8,392.2 400.7,393.1 401.6,391.4 402.5,397.3 403.4,393.4 404.3,397.9 405.2,395.4 406.1,385.9 407.0,388.0 407.9,387.9 408.8,392.1 409.7,394.7 410.6,393.2 411.5,391.5 412.4,392.0 413.3,393.5 414.2,394.6 415.2,393.9 416.1,388.8 417.0,390.5 417.9,392.1 418.8,392.4 419.7,394.2 420.6,395.8 421.5,392.8 422.4,388.8 423.3,389.2 424.2,393.7 425.1,388.7 426.0,389.6 426.9,386.1 427.8,389.5 428.7,393.6 429.6,391.6 430.5,391.6 431.4,393.9 432.3,393.9 433.2,393.1 434.1,394.0 435.0,390.8 435.9,390.4 436.8,392.1 437.7,392.6 438.7,389.9 439.6,390.0 440.5,393.8 441.4,392.0 442.3,387.9 443.2,389.7 444.1,393.2 445.0,389.0 445.9,385.1 446.8,389.1 447.7,396.5 448.6,397.6 449.5,390.2 450.4,392.1 451.3,390.8 452.2,390.7 453.1,391.6 454.0,388.5 454.9,390.7 455.8,390.8 456.7,391.5 457.6,392.0 458.5,387.1 459.4,393.6 460.3,396.5 461.2,392.3 462.1,396.2 463.1,394.5 464.0,396.7 464.9,393.0 465.8,393.8 466.7,392.6 467.6,395.5 468.5,395.4 469.4,400.5 470.3,395.3 471.2,394.2 472.1,394.8 473.0,395.1 473.9,396.2 474.8,396.0 475.7,391.4 476.6,395.5 477.5,397.0 478.4,394.8 479.3,395.1 480.2,397.3 481.1,392.9 482.0,391.2 482.9,395.3 483.8,391.9 484.7,398.2 485.6,393.9 486.6,399.7 487.5,397.4 488.4,397.7 489.3,398.5 490.2,396.5 491.1,399.6 492.0,400.4 492.9,401.7 493.8,396.0 494.7,398.8 495.6,397.7 496.5,398.7 497.4,396.2 498.3,400.2 499.2,401.5 500.1,401.5 501.0,399.6 501.9,401.2 502.8,399.0 503.7,398.0 504.6,396.5 505.5,397.1 506.4,395.4 507.3,398.9 508.2,400.8 509.1,402.1 510.1,402.6 511.0,404.5 511.9,401.2 512.8,400.6 513.7,405.7 514.6,403.1 515.5,403.6 516.4,404.3 517.3,403.1 518.2,399.2 519.1,400.3 520.0,405.9 520.9,402.6 521.8,404.3 522.7,399.0 523.6,402.0 524.5,402.3 525.4,402.8 526.3,404.5 527.2,404.2 528.1,403.4 529.0,397.6 529.9,400.3 530.8,400.5 531.7,401.5 532.6,401.8 533.6,401.6 534.5,399.0 535.4,408.3 536.3,406.6 537.2,406.4 538.1,402.4 539.0,404.7 539.9,401.5 540.8,399.9 541.7,403.2 542.6,402.0 543.5,403.9 544.4,401.6 545.3,401.5 546.2,399.9 547.1,400.2 548.0,404.6 548.9,400.6 549.8,402.4 550.7,400.7 551.6,402.4 552.5,401.1 553.4,405.6 554.3,401.5 555.2,405.4 556.1,405.0 557.0,403.4 558.0,407.5 558.9,404.7 559.8,404.4 560.7,402.5 561.6,403.8 562.5,406.6 563.4,407.9 564.3,407.8 565.2,405.6 566.1,405.4 567.0,403.6 567.9,400.7 568.8,403.8 569.7,405.5 570.6,404.2 571.5,403.6 572.4,409.5 573.3,408.3 574.2,406.2 575.1,404.2 576.0,405.9 576.9,407.9 577.8,401.5 578.7,411.1 579.6,404.4 580.5,406.6 581.5,406.9 582.4,406.2 583.3,405.1 584.2,407.7 585.1,409.9 586.0,406.7 586.9,403.3 587.8,405.6 588.7,400.6 589.6,406.9 590.5,404.5 591.4,404.4 592.3,402.4 593.2,407.3 594.1,405.2 595.0,406.2 595.9,411.8 596.8,409.7 597.7,411.3 598.6,409.4 599.5,406.4 600.4,406.9 601.3,402.6 602.2,403.6 603.1,407.1 604.0,407.9 605.0,406.6 605.9,408.7 606.8,406.5 607.7,405.7 608.6,404.4 609.5,405.8 610.4,406.5 611.3,409.8 612.2,407.9 613.1,408.1 614.0,407.4 614.9,406.6 615.8,408.9 616.7,409.2 617.6,410.1 618.5,411.5 619.4,413.6 620.3,412.8 621.2,408.9 622.1,413.9 623.0,409.5 623.9,407.2 624.8,405.9 625.7,408.3 626.6,409.3 627.5,406.6 628.5,406.2 629.4,404.0 630.3,408.1 631.2,409.9 632.1,407.2 633.0,409.6 633.9,410.1 634.8,407.1 635.7,407.2 636.6,410.1 637.5,409.2 638.4,410.3 639.3,408.3 640.2,409.3 641.1,412.6 642.0,408.0 642.9,410.2 643.8,410.8 644.7,412.5 645.6,411.7 646.5,412.3 647.4,410.2 648.3,409.5 649.2,407.6 650.1,407.7 651.0,410.7 651.9,412.3 652.9,413.1 653.8,409.3 654.7,411.8 655.6,407.4 656.5,408.7 657.4,409.7 658.3,409.5 659.2,405.7 660.1,408.0 661.0,410.0 661.9,412.3 662.8,414.5 663.7,413.4 664.6,408.5 665.5,408.2 666.4,411.4 667.3,416.8 668.2,410.7 669.1,410.2 670.0,415.7 670.9,413.8 671.8,415.1 672.7,410.9 673.6,410.2 674.5,413.1 675.4,418.0 676.4,415.6 677.3,408.1 678.2,410.0 679.1,413.3 680.0,411.3 680.9,414.0 681.8,410.1 682.7,416.6 683.6,416.3 684.5,411.6 685.4,410.8 686.3,412.0 687.2,417.3 688.1,416.0 689.0,414.2 689.9,416.1 690.8,416.0 691.7,414.0 692.6,416.3 693.5,415.2 694.4,416.8 695.3,419.6 696.2,421.7 697.1,420.8 698.0,421.0 698.9,416.7 699.9,417.4 700.8,422.5 701.7,416.6 702.6,412.2 703.5,417.4 704.4,417.2 705.3,418.9 706.2,417.6 707.1,418.8 708.0,418.5 708.9,419.7 709.8,421.8 710.7,422.1 711.6,423.4 712.5,423.7 713.4,423.5 714.3,416.4 715.2,418.0 716.1,416.2 717.0,423.4 717.9,423.5 718.8,420.6 719.7,418.9 720.6,420.1 721.5,422.9 722.4,426.5 723.4,424.0 724.3,427.6 725.2,424.6 726.1,425.3 727.0,426.0 727.9,426.5 728.8,428.7 729.7,429.1 730.6,425.5 731.5,426.7 732.4,427.4 733.3,423.7 734.2,423.1 735.1,423.5 736.0,428.1 736.9,423.9 737.8,423.5 738.7,427.1 739.6,427.6 740.5,424.4 741.4,422.4 742.3,425.4 743.2,428.5 744.1,424.1 745.0,426.5 745.9,424.4 746.8,425.4 747.8,426.4 748.7,427.4 749.6,423.4 750.5,426.3 751.4,426.6 752.3,428.3 753.2,422.9 754.1,425.4 755.0,429.2 755.9,428.4 756.8,432.0 757.7,430.0 758.6,431.6 759.5,426.6 760.4,424.1 761.3,421.0 762.2,426.2 763.1,429.6 764.0,433.9 764.9,430.2 765.8,431.1 766.7,426.7 767.6,423.1 768.5,430.1 769.4,429.8 770.3,425.4 771.3,431.2 772.2,433.0 773.1,428.9 774.0,428.4 774.9,433.5 775.8,430.1 776.7,430.8 777.6,430.3 778.5,428.8 779.4,424.6 780.3,424.6 781.2,428.6 782.1,424.2 783.0,423.8 783.9,423.9 784.8,426.4 785.7,427.5 786.6,425.5 787.5,420.9 788.4,421.1 789.3,421.6 790.2,421.1 791.1,420.6 792.0,421.5 792.9,420.9 793.8,425.1 794.8,422.2 795.7,418.6 796.6,418.6 797.5,415.3 798.4,413.6 799.3,417.2 800.2,420.8 801.1,418.9 802.0,421.2 802.9,416.6 803.8,416.6 804.7,414.4 805.6,415.5 806.5,416.7 807.4,411.3 808.3,412.9 809.2,412.8 810.1,412.1 811.0,413.0 811.9,412.7 812.8,414.7 813.7,412.0 814.6,409.7 815.5,411.5 816.4,413.9 817.3,411.7 818.3,407.8 819.2,405.8 820.1,405.5 821.0,408.0 821.9,405.7 822.8,405.8 823.7,403.3 824.6,402.7 825.5,405.6 826.4,403.7 827.3,402.7 828.2,400.0 829.1,396.7 830.0,402.9 830.9,403.3 831.8,403.3 832.7,403.1 833.6,402.4 834.5,397.5 835.4,397.6 836.3,399.4 837.2,398.4 838.1,398.8 839.0,400.4 839.9,399.8 840.8,398.2 841.7,396.0 842.7,400.0 843.6,398.9 844.5,398.1 845.4,397.6 846.3,399.3 847.2,400.1 848.1,403.2 849.0,403.3 849.9,402.5 850.8,402.5 851.7,400.0 852.6,400.8 853.5,401.4 854.4,402.5 855.3,400.9 856.2,404.0 857.1,398.2 858.0,402.8 858.9,403.0 859.8,401.8 860.7,401.4 861.6,400.2 862.5,405.5 863.4,403.1 864.3,404.9 865.2,399.7 866.2,405.5 867.1,403.5 868.0,401.1 868.9,401.9 869.8,401.6 870.7,401.9 871.6,401.2 872.5,399.6 873.4,401.3 874.3,399.5 875.2,401.4 876.1,400.2 877.0,405.0 877.9,400.4 878.8,401.1 879.7,401.1 880.6,398.7 881.5,403.7 882.4,406.3 883.3,411.1 884.2,404.5 885.1,403.3 886.0,399.3 886.9,402.5 887.8,403.3 888.7,404.6 889.7,404.9 890.6,405.0 891.5,407.3 892.4,408.8 893.3,408.7 894.2,410.6 895.1,405.7 896.0,409.0 896.9,409.2 897.8,409.0 898.7,410.3 899.6,406.2 900.5,407.2 901.4,406.3 902.3,411.6 903.2,412.4 904.1,416.2 905.0,410.0 905.9,411.7 906.8,409.7 907.7,407.7 908.6,413.0 909.5,410.4 910.4,411.6 911.3,410.9 912.2,411.0 913.2,410.4 914.1,411.8 915.0,415.6 915.9,415.6 916.8,414.0 917.7,413.4 918.6,415.4 919.5,415.2 920.4,413.6 921.3,410.5 922.2,411.9 923.1,414.0 924.0,413.0 924.9,415.5 925.8,413.2 926.7,416.6 927.6,412.6 928.5,414.2 929.4,410.0 930.3,408.2 931.2,391.9 932.1,398.3 933.0,414.8 933.9,431.3 934.8,447.1 935.7,462.3 936.6,477.6 937.6,492.8 938.5,508.1 939.4,523.4 940.3,538.6 941.2,537.8 942.1,529.7 943.0,521.7 943.9,513.6 944.8,505.6 945.7,497.2 946.6,488.9 947.5,480.5 948.4,472.1 949.3,463.8 950.2,455.4 951.1,447.9 952.0,440.5 952.9,433.1 953.8,425.7 954.7,418.2 955.6,413.5 956.5,412.4 957.4,403.9 958.3,397.8 959.2,400.9 960.1,401.0 961.1,399.4 962.0,400.1 962.9,400.8 963.8,399.2 964.7,398.3 965.6,401.6 966.5,401.2 967.4,400.2 968.3,398.4 969.2,399.3 970.1,401.5 971.0,400.9 971.9,403.5 972.8,402.4 973.7,398.8 974.6,399.9 975.5,399.8 976.4,399.3 977.3,400.4 978.2,403.6 979.1,404.2 980.0,399.8 980.9,401.0 981.8,405.4 982.7,400.0 983.6,403.4 984.6,407.4 985.5,400.5 986.4,401.8 987.3,404.2 988.2,403.3 989.1,403.0 990.0,406.2 990.9,403.9 991.8,406.7 992.7,408.0 993.6,410.6 994.5,407.4 995.4,400.6 996.3,406.7 997.2,408.0 998.1,404.9 999.0,400.6 999.9,404.1 1000.8,404.4 1001.7,406.3 1002.6,406.9 1003.5,403.8 1004.4,406.3 1005.3,403.5 1006.2,402.7 1007.1,405.7 1008.1,408.3 1009.0,407.2 1009.9,409.4 1010.8,409.3 1011.7,407.1 1012.6,405.8 1013.5,406.1 1014.4,411.2 1015.3,409.3 1016.2,406.1 1017.1,403.4 1018.0,403.1 1018.9,410.5 1019.8,411.1 1020.7,409.9 1021.6,411.0 1022.5,413.1 1023.4,412.4 1024.3,407.6 1025.2,407.8 1026.1,406.2 1027.0,405.6 1027.9,401.2 1028.8,404.1 1029.7,402.7 1030.6,405.9 1031.5,406.3 1032.5,410.6 1033.4,410.0 1034.3,410.5 1035.2,406.4 1036.1,407.6 1037.0,406.8 1037.9,406.8 1038.8,406.2 1039.7,411.6 1040.6,406.5 1041.5,411.1 1042.4,408.9 1043.3,405.9 1044.2,408.2 1045.1,403.0 1046.0,403.8 1046.9,406.4 1047.8,409.6 1048.7,411.8 1049.6,408.4 1050.5,408.3 1051.4,407.4 1052.3,406.4 1053.2,408.3 1054.1,408.4 1055.0,407.1 1056.0,410.5 1056.9,410.8 1057.8,411.5 1058.7,409.1 1059.6,409.8 1060.5,407.8 1061.4,409.8 1062.3,412.6 1063.2,410.6 1064.1,411.1 1065.0,412.7 1065.9,410.6 1066.8,410.4 1067.7,412.6 1068.6,411.1 1069.5,410.8 1070.4,410.6 1071.3,410.0 1072.2,410.5 1073.1,408.9 1074.0,408.9 1074.9,407.6 1075.8,408.8 1076.7,409.5 1077.6,410.2 1078.5,411.2 1079.5,411.3 1080.4,413.7 1081.3,413.7 1082.2,412.7 1083.1,413.8 1084.0,411.3 1084.9,410.5 1085.8,408.2 1086.7,408.5 1087.6,413.5 1088.5,410.0 1089.4,408.1 1090.3,408.9 1091.2,411.8 1092.1,411.1 1093.0,408.6 1093.9,408.4 1094.8,409.0 1095.7,409.6 1096.6,408.7 1097.5,411.5 1098.4,411.2 1099.3,412.5 1100.2,411.5 1101.1,416.2 1102.0,409.2 1103.0,409.5 1103.9,406.3 1104.8,411.2 1105.7,407.7 1106.6,406.5 1107.5,408.9 1108.4,411.5 1109.3,413.0 1110.2,414.7 1111.1,410.8 1112.0,406.2 1112.9,408.3 1113.8,410.6 1114.7,414.3 1115.6,411.9 1116.5,408.5 1117.4,410.3 1118.3,409.1 1119.2,411.8 1120.1,418.3 1121.0,414.7 1121.9,409.0 1122.8,416.0 1123.7,405.2 1124.6,404.3 1125.5,411.1 1126.4,410.6 1127.4,410.8 1128.3,408.6 1129.2,414.6 1130.1,416.3 1131.0,418.6 1131.9,416.5 1132.8,417.2 1133.7,417.0 1134.6,416.7 1135.5,418.4 1136.4,410.6 1137.3,413.3 1138.2,411.6 1139.1,412.1 1140.0,414.9 1140.9,419.2 1141.8,419.8 1142.7,419.9 1143.6,417.7 1144.5,412.8 1145.4,416.3 1146.3,422.3 1147.2,421.0 1148.1,419.8 1149.0,418.6 1149.9,425.8 1150.9,423.8 1151.8,418.3 1152.7,415.5 1153.6,413.2 1154.5,417.9 1155.4,420.5 1156.3,421.9 1157.2,425.0 1158.1,425.7 1159.0,421.5 1159.9,417.7 1160.8,421.4 1161.7,428.0 1162.6,422.8 1163.5,424.7 1164.4,426.1 1165.3,427.3 1166.2,425.2 1167.1,422.4 1168.0,424.8 1168.9,424.4 1169.8,422.2 1170.7,424.1 1171.6,425.9 1172.5,424.1 1173.4,422.0 1174.4,422.7 1175.3,425.6 1176.2,424.1 1177.1,423.8 1178.0,419.3 1178.9,423.4 1179.8,421.9 1180.7,423.1 1181.6,422.7 1182.5,418.9 1183.4,413.5 1184.3,418.2 1185.2,419.7 1186.1,419.6 1187.0,420.4 1187.9,423.1 1188.8,425.7 1189.7,425.1 1190.6,423.0 1191.5,421.5 1192.4,423.3 1193.3,427.6 1194.2,423.8 1195.1,423.9 1196.0,424.2 1196.9,420.5 1197.9,416.1 1198.8,418.6 1199.7,417.5 1200.6,426.4 1201.5,419.6 1202.4,423.7 1203.3,423.9 1204.2,419.3 1205.1,420.9 1206.0,422.0 1206.9,415.3 1207.8,416.1 1208.7,415.1 1209.6,416.4 1210.5,421.4 1211.4,420.7 1212.3,425.6 1213.2,419.9 1214.1,422.3 1215.0,423.5 1215.9,421.9 1216.8,424.5 1217.7,421.9 1218.6,425.1 1219.5,421.5 1220.4,424.7 1221.3,428.4 1222.3,418.6 1223.2,417.8 1224.1,421.2 1225.0,425.7 1225.9,424.5 1226.8,424.4 1227.7,425.4 1228.6,421.4 1229.5,423.5 1230.4,419.7 1231.3,421.7 1232.2,417.4 1233.1,423.7 1234.0,423.4 1234.9,422.5 1235.8,425.9 1236.7,425.9 1237.6,425.5 1238.5,422.0 1239.4,422.9 1240.3,421.9 1241.2,425.8 1242.1,423.5 1243.0,428.0 1243.9,423.3 1244.8,427.3 1245.8,423.2 1246.7,423.2 1247.6,426.5 1248.5,426.5 1249.4,424.3 1250.3,425.9 1251.2,429.3 1252.1,421.2 1253.0,423.5 1253.9,420.1 1254.8,422.9 1255.7,430.4 1256.6,424.2 1257.5,424.4 1258.4,424.9 1259.3,422.0 1260.2,425.9 1261.1,423.0 1262.0,425.6 1262.9,426.9 1263.8,427.7 1264.7,429.5 1265.6,429.7 1266.5,429.3 1267.4,423.7 1268.3,422.8 1269.3,424.0 1270.2,421.5 1271.1,426.2 1272.0,425.6 1272.9,424.4 1273.8,425.8 1274.7,424.8 1275.6,423.4 1276.5,421.0 1277.4,427.2 1278.3,429.8 1279.2,429.5 1280.1,429.7 1281.0,427.0 1281.9,425.6 1282.8,425.5 1283.7,423.7 1284.6,425.9 1285.5,426.4 1286.4,427.1 1287.3,427.1 1288.2,423.7 1289.1,423.7 1290.0,421.8 1290.9,424.9 1291.8,426.7 1292.8,428.6 1293.7,430.5 1294.6,426.6 1295.5,423.0 1296.4,426.7 1297.3,425.7 1298.2,428.3 1299.1,427.1 1300.0,426.3 1300.9,427.4 1301.8,427.1 1302.7,427.3 1303.6,424.2 1304.5,427.2 1305.4,425.9 1306.3,431.9 1307.2,426.4 1308.1,430.5 1309.0,430.1 1309.9,424.7 1310.8,426.3 1311.7,423.0 1312.6,426.8 1313.5,425.8 1314.4,430.0 1315.3,425.0 1316.2,426.3 1317.2,428.8 1318.1,424.6 1319.0,423.8 1319.9,424.3 1320.8,424.6 1321.7,426.6 1322.6,428.8 1323.5,426.5 1324.4,430.6 1325.3,431.9 1326.2,430.4 1327.1,425.3 1328.0,424.4 1328.9,425.6 1329.8,429.7 1330.7,426.2 1331.6,422.7 1332.5,429.0 1333.4,429.8 1334.3,428.1 1335.2,425.1 1336.1,430.7 1337.0,427.3 1337.9,430.7 1338.8,430.1 1339.7,429.9 1340.7,430.2 1341.6,429.1 1342.5,429.0 1343.4,432.6 1344.3,430.2 1345.2,423.8 1346.1,424.4 1347.0,424.8 1347.9,424.8 1348.8,423.5 1349.7,427.4 1350.6,425.5 1351.5,425.0 1352.4,426.0 1353.3,424.5 1354.2,426.7 1355.1,427.0 1356.0,423.3 1356.9,427.8 1357.8,425.2 1358.7,421.9 1359.6,423.2 1360.5,422.9 1361.4,423.9 1362.3,425.3 1363.2,422.1 1364.2,423.9 1365.1,425.2 1366.0,422.4 1366.9,423.4 1367.8,423.7 1368.7,420.2 1369.6,420.7 1370.5,428.3 1371.4,419.4 1372.3,423.0 1373.2,423.6 1374.1,420.7 1375.0,420.6 1375.9,420.3 1376.8,423.7 1377.7,427.4 1378.6,422.8 1379.5,423.8 1380.4,428.8 1381.3,423.2 1382.2,423.0 1383.1,424.9 1384.0,427.7 1384.9,422.4 1385.8,418.5 1386.7,419.6 1387.7,418.8 1388.6,423.7 1389.5,420.9 1390.4,419.9 1391.3,418.6 1392.2,416.6 1393.1,420.3 1394.0,420.9 1394.9,423.8 1395.8,422.5 1396.7,421.4 1397.6,423.2 1398.5,420.8 1399.4,420.0 1400.3,424.3 1401.2,421.8 1402.1,419.4 1403.0,421.6 1403.9,420.8 1404.8,422.4 1405.7,427.5 1406.6,423.3 1407.5,420.4 1408.4,424.3 1409.3,414.4 1410.2,413.5 1411.1,420.6 1412.1,418.0 1413.0,418.9 1413.9,419.5 1414.8,424.4 1415.7,419.9 1416.6,420.4 1417.5,423.2 1418.4,421.8 1419.3,417.7 1420.2,421.3 1421.1,420.1 1422.0,419.7 1422.9,419.4 1423.8,416.1 1424.7,416.1 1425.6,414.0 1426.5,418.9 1427.4,420.9 1428.3,422.8 1429.2,421.5 1430.1,417.5 1431.0,422.8 1431.9,418.0 1432.8,416.3 1433.7,418.8 1434.6,419.8 1435.6,415.3 1436.5,411.5 1437.4,419.4 1438.3,414.6 1439.2,417.8 1440.1,417.1 1441.0,420.7 1441.9,420.2 1442.8,421.0 1443.7,417.7 1444.6,418.2 1445.5,417.9 1446.4,422.8 1447.3,418.3 1448.2,420.0 1449.1,419.4 1450.0,418.6 1450.9,415.8 1451.8,419.5 1452.7,417.0 1453.6,415.6 1454.5,419.1 1455.4,416.3 1456.3,417.8 1457.2,415.7 1458.1,421.1 1459.1,419.5 1460.0,420.9 1460.9,418.2 1461.8,422.1 1462.7,414.9 1463.6,416.0 1464.5,420.7 1465.4,414.5 1466.3,414.6 1467.2,419.9 1468.1,416.8 1469.0,418.2 1469.9,417.8 1470.8,427.3 1471.7,424.4 1472.6,416.2 1473.5,409.5 1474.4,414.5 1475.3,415.5 1476.2,410.9 1477.1,413.2 1478.0,416.0 1478.9,413.2 1479.8,421.3 1480.7,409.7 1481.6,422.9 1482.6,420.7 1483.5,415.4 1484.4,419.7 1485.3,411.4 1486.2,421.4 1487.1,422.1 1488.0,433.8 1488.9,421.1 1489.8,414.2 1490.7,424.3 1491.6,422.7 1492.5,415.6 1493.4,417.9 1494.3,419.8 1495.2,408.4 1496.1,413.1 1497.0,421.9 1497.9,413.2 1498.8,414.4 1499.7,428.9 1500.6,428.0 1501.5,430.1 1502.4,427.5 1503.3,421.2 1504.2,429.7 1505.1,425.0 1506.0,423.2 1507.0,423.5 1507.9,428.5 1508.8,431.6 1509.7,427.5 1510.6,423.1 1511.5,425.9 1512.4,421.0 1513.3,424.0 1514.2,417.7 1515.1,431.4 1516.0,418.3 1516.9,419.2 1517.8,419.0 1518.7,426.3 1519.6,415.7 1520.5,407.7 1521.4,413.1 1522.3,399.3 1523.2,421.7 1524.1,409.8 1525.0,420.0 1525.9,422.7 1526.8,421.9 1527.7,414.0 1528.6,414.9 1529.5,419.5 1530.5,423.6 1531.4,421.1 1532.3,415.2 1533.2,422.6 1534.1,426.8 1535.0,420.1 1535.9,415.4 1536.8,414.6 1537.7,424.9 1538.6,433.0 1539.5,419.0 1540.4,431.1 1541.3,429.6 1542.2,422.6 1543.1,414.9 1544.0,414.7 1544.9,421.8 1545.8,425.1 1546.7,426.6 1547.6,437.6 1548.5,420.4 1549.4,420.6 1550.3,420.5 1551.2,432.4 1552.1,428.0 1553.0,419.3 1554.0,418.0 1554.9,419.1 1555.8,433.5 1556.7,434.0 1557.6,432.8 1558.5,419.5 1559.4,412.9 1560.3,423.2 1561.2,422.3 1562.1,417.6 1563.0,420.3 1563.9,422.8 1564.8,429.4 1565.7,425.8 1566.6,421.0 1567.5,415.5 1568.4,422.5 1569.3,418.7 1570.2,417.3 1571.1,430.0 1572.0,425.9 1572.9,425.1 1573.8,422.0 1574.7,429.7 1575.6,440.1 1576.5,430.3 1577.5,439.3 1578.4,431.4 1579.3,425.6 1580.2,426.1 1581.1,420.2 1582.0,425.4 1582.9,430.6 1583.8,427.1 1584.7,425.4 1585.6,424.7 1586.5,431.8 1587.4,426.7 1588.3,425.7 1589.2,412.2 1590.1,424.4 1591.0,423.1 1591.9,420.5 1592.8,417.5 1593.7,424.1 1594.6,416.7 1595.5,410.7 1596.4,421.0 1597.3,418.8 1598.2,416.4 1599.1,418.0 1600.0,420.8 1600.9,410.8 1601.9,421.9 1602.8,419.0 1603.7,423.6 1604.6,418.2 1605.5,426.1 1606.4,428.0 1607.3,422.2 1608.2,426.9 1609.1,415.6 1610.0,422.1 1610.9,405.6 1611.8,412.7 1612.7,430.8 1613.6,430.0 1614.5,434.0 1615.4,426.7 1616.3,420.7 1617.2,414.9 1618.1,415.1 1619.0,415.7 1619.9,424.6 1620.8,429.9 1621.7,428.9 1622.6,435.2 1623.5,442.0 1624.4,435.7 1625.4,439.4 1626.3,428.7 1627.2,434.4 1628.1,422.7 1629.0,435.5 1629.9,440.9 1630.8,452.8 1631.7,455.6 1632.6,450.1 1633.5,459.4 1634.4,453.2 1635.3,458.6 1636.2,469.8 1637.1,475.9 1638.0,478.9 1638.9,481.8 1639.8,482.5 1640.7,484.3 1641.6,490.8 1642.5,492.4 1643.4,496.4 1644.3,497.9 1645.2,503.2 1646.1,500.8 1647.0,502.5 1647.9,489.7 1648.9,475.7 1649.8,462.2 1650.7,445.6 1651.6,399.8 1652.5,357.7" stroke="#0ff"/>
<polyline points="261.3,661.0 262.1,661.9 263.0,660.3 263.8,659.5 264.6,659.1 265.5,658.0 266.3,656.7 267.1,655.0 268.0,653.0 268.8,650.7 269.6,649.8 270.5,647.8 271.3,646.8 272.1,646.1 273.0,645.5 273.8,645.4 274.6,646.7 275.5,645.9 276.3,645.6 277.1,644.9 278.0,644.6 278.8,646.1 279.6,646.4 280.5,647.0 281.3,645.2 282.2,645.4 283.0,645.2 283.8,646.3 284.7,647.3 285.5,647.1 286.3,646.6 287.2,645.7 288.0,647.3 288.8,646.3 289.7,647.1 290.5,647.2 291.3,647.0 292.2,647.1 293.0,646.2 293.8,645.4 294.7,645.5 295.5,646.5 296.3,646.1 297.2,645.9 298.0,645.4 298.8,645.7 299.7,647.9 300.5,648.3 301.3,648.1 302.2,646.7 303.0,647.0 303.8,646.2 304.7,646.4 305.5,648.1 306.3,647.7 307.2,647.1 308.0,646.9 308.8,648.8 309.7,647.9 310.5,648.4 311.4,650.4 312.2,649.9 313.0,651.1 313.9,651.1 314.7,648.3 315.5,645.7 316.4,645.8 317.2,646.5 318.0,645.4 318.9,646.5 319.7,648.4 320.5,651.1 321.4,649.1 322.2,651.3 323.0,653.2 323.9,652.0 324.7,650.6 325.5,650.8 326.4,649.0 327.2,649.2 328.0,649.0 328.9,648.7 329.7,649.7 330.5,649.4 331.4,647.1 332.2,649.2 333.0,649.3 333.9,649.0 334.7,650.0 335.5,650.0 336.4,651.8 337.2,651.5 338.0,650.9 338.9,649.4 339.7,648.9 340.6,650.1 341.4,651.4 342.2,649.0 343.1,648.7 343.9,651.5 344.7,651.4 345.6,651.9 346.4,651.9 347.2,653.1 348.1,652.4 348.9,652.1 349.7,651.7 350.6,646.7 351.4,639.8 352.2,641.4 353.1,642.8 353.9,642.3 354.7,640.3 355.6,639.4 356.4,643.3 357.2,645.0 358.1,646.8 358.9,648.9 359.7,649.1 360.6,649.8 361.4,651.2 362.2,651.3 363.1,650.7 363.9,649.1 364.7,650.7 365.6,650.2 366.4,650.2 367.2,650.2 368.1,651.4 368.9,649.4 369.8,648.3 370.6,647.3 371.4,648.0 372.3,647.2 373.1,647.8 373.9,647.6 374.8,648.9 375.6,648.9 376.4,649.5 377.3,650.6 378.1,650.5 378.9,651.2 379.8,651.5 380.6,650.9 381.4,650.8 382.3,647.9 383.1,646.6 383.9,646.5 384.8,646.8 385.6,648.7 386.4,648.5 387.3,650.1 388.1,650.2 388.9,650.0 389.8,649.8 390.6,648.3 391.4,649.2 392.3,646.3 393.1,647.8 393.9,647.1 394.8,649.3 395.6,647.8 396.4,649.2 397.3,648.5 398.1,648.3 399.0,647.2 399.8,646.9 400.6,646.9 401.5,647.4 402.3,645.5 403.1,646.9 404.0,647.2 404.8,647.8 405.6,647.5 406.5,648.4 407.3,648.4 408.1,647.3 409.0,647.9 409.8,647.0 410.6,647.6 411.5,645.8 412.3,646.5 413.1,644.8 414.0,645.2 414.8,646.0 415.6,645.3 416.5,634.7 417.3,634.2 418.1,634.2 419.0,634.9 419.8,637.5 420.6,639.4 421.5,643.2 422.3,645.1 423.1,645.4 424.0,647.6 424.8,646.6 425.6,644.9 426.5,645.9 427.3,647.4 428.2,646.3 429.0,647.0 429.8,646.4 430.7,645.8 431.5,648.4 432.3,647.8 433.2,649.4 434.0,649.3 434.8,647.9 435.7,649.0 436.5,649.0 437.3,648.7 438.2,647.7 439.0,647.0 439.8,646.5 440.7,647.2 441.5,647.8 442.3,646.9 443.2,647.7 444.0,648.0 444.8,646.5 445.7,647.3 446.5,647.7 447.3,645.8 448.2,645.9 449.0,639.5 449.8,637.4 450.7,634.2 451.5,631.4 452.3,633.1 453.2,632.9 454.0,633.5 454.8,637.3 455.7,642.0 456.5,641.8 457.4,642.5 458.2,643.5 459.0,645.5 459.9,645.5 460.7,645.0 461.5,644.9 462.4,644.3 463.2,644.6 464.0,643.3 464.9,643.0 465.7,644.6 466.5,645.0 467.4,644.1 468.2,644.6 469.0,642.8 469.9,643.8 470.7,643.6 471.5,643.0 472.4,644.5 473.2,642.8 474.0,643.4 474.9,644.3 475.7,644.7 476.5,646.0 477.4,646.3 478.2,643.5 479.0,643.6 479.9,643.8 480.7,643.4 481.5,642.8 482.4,643.9 483.2,633.8 484.0,633.5 484.9,632.6 485.7,633.1 486.6,631.9 487.4,634.1 488.2,638.7 489.1,642.7 489.9,643.6 490.7,643.4 491.6,644.2 492.4,644.6 493.2,645.7 494.1,645.9 494.9,645.8 495.7,645.4 496.6,644.0 497.4,643.7 498.2,643.1 499.1,642.5 499.9,643.9 500.7,642.8 501.6,643.5 502.4,645.3 503.2,645.5 504.1,645.0 504.9,646.3 505.7,643.0 506.6,643.6 507.4,642.9 508.2,644.7 509.1,644.3 509.9,643.9 510.7,644.7 511.6,644.1 512.4,644.0 513.2,643.6 514.1,644.9 514.9,643.9 515.8,644.1 516.6,644.8 517.4,646.6 518.3,645.5 519.1,645.0 519.9,641.9 520.8,643.9 521.6,642.1 522.4,641.4 523.3,641.9 524.1,642.3 524.9,642.2 525.8,644.2 526.6,642.3 527.4,643.0 528.3,643.8 529.1,643.5 529.9,646.2 530.8,646.1 531.6,645.9 532.4,646.2 533.3,644.1 534.1,641.8 534.9,642.2 535.8,642.8 536.6,642.4 537.4,643.0 538.3,642.7 539.1,642.2 539.9,642.5 540.8,642.9 541.6,642.6 542.4,642.4 543.3,641.7 544.1,643.5 545.0,644.1 545.8,643.7 546.6,642.5 547.5,643.7 548.3,641.7 549.1,640.3 550.0,641.8 550.8,640.7 551.6,643.4 552.5,642.8 553.3,644.0 554.1,641.8 555.0,640.9 555.8,640.7 556.6,641.7 557.5,642.8 558.3,641.8 559.1,642.2 560.0,641.1 560.8,642.9 561.6,641.7 562.5,641.0 563.3,643.5 564.1,643.8 565.0,643.3 565.8,643.0 566.6,643.9 567.5,642.6 568.3,643.1 569.1,642.2 570.0,643.5 570.8,643.6 571.6,641.6 572.5,643.0 573.3,642.0 574.2,639.9 575.0,639.4 575.8,637.8 576.7,627.8 577.5,628.9 578.3,627.7 579.2,626.8 580.0,627.5 580.8,628.9 581.7,635.1 582.5,635.8 583.3,636.3 584.2,637.1 585.0,637.1 585.8,636.2 586.7,635.8 587.5,637.2 588.3,636.5 589.2,635.7 590.0,636.3 590.8,636.4 591.7,639.4 592.5,640.1 593.3,638.4 594.2,639.5 595.0,637.6 595.8,636.2 596.7,637.7 597.5,638.6 598.3,638.2 599.2,637.4 600.0,636.4 600.8,636.9 601.7,636.9 602.5,638.0 603.4,637.2 604.2,637.9 605.0,636.4 605.9,635.8 606.7,638.0 607.5,637.1 608.4,638.1 609.2,636.4 610.0,637.6 610.9,635.8 611.7,635.1 612.5,633.7 613.4,634.6 614.2,635.4 615.0,634.6 615.9,636.7 616.7,636.6 617.5,636.8 618.4,636.7 619.2,638.2 620.0,639.1 620.9,639.6 621.7,636.5 622.5,636.7 623.4,635.8 624.2,636.1 625.0,636.3 625.9,634.8 626.7,637.8 627.5,637.2 628.4,637.5 629.2,637.7 630.0,638.6 630.9,639.0 631.7,638.8 632.6,636.3 633.4,636.8 634.2,636.8 635.1,636.5 635.9,635.5 636.7,634.4 637.6,634.8 638.4,635.1 639.2,629.7 640.1,626.0 640.9,625.8 641.7,624.2 642.6,625.9 643.4,627.2 644.2,628.6 645.1,627.9 645.9,630.8 646.7,633.7 647.6,635.3 648.4,634.7 649.2,635.6 650.1,635.4 650.9,636.4 651.7,635.2 652.6,634.9 653.4,635.8 654.2,636.8 655.1,634.0 655.9,636.2 656.7,637.3 657.6,639.5 658.4,637.3 659.2,636.7 660.1,636.6 660.9,637.9 661.8,637.1 662.6,637.4 663.4,637.9 664.3,637.2 665.1,636.3 665.9,636.2 666.8,636.5 667.6,635.3 668.4,635.1 669.3,635.7 670.1,634.9 670.9,634.8 671.8,634.1 672.6,633.7 673.4,633.6 674.3,634.9 675.1,633.6 675.9,633.2 676.8,634.5 677.6,633.3 678.4,633.9 679.3,635.3 680.1,635.0 680.9,636.2 681.8,634.3 682.6,635.7 683.4,633.6 684.3,634.8 685.1,634.7 685.9,633.2 686.8,633.2 687.6,635.3 688.4,634.9 689.3,636.4 690.1,634.6 691.0,635.3 691.8,634.7 692.6,634.4 693.5,635.6 694.3,634.4 695.1,632.1 696.0,633.7 696.8,634.2 697.6,633.4 698.5,632.1 699.3,633.5 700.1,633.1 701.0,632.7 701.8,631.8 702.6,633.2 703.5,630.5 704.3,629.4 705.1,632.4 706.0,633.3 706.8,632.7 707.6,633.3 708.5,633.5 709.3,633.0 710.1,633.5 711.0,633.6 711.8,632.8 712.6,632.9 713.5,632.2 714.3,631.1 715.1,630.3 716.0,631.0 716.8,629.3 717.6,630.8 718.5,630.3 719.3,629.0 720.2,630.0 721.0,629.8 721.8,631.1 722.7,631.8 723.5,631.4 724.3,630.8 725.2,630.6 726.0,630.2 726.8,630.2 727.7,630.7 728.5,631.4 729.3,631.3 730.2,631.0 731.0,630.9 731.8,631.9 732.7,630.0 733.5,629.1 734.3,629.4 735.2,630.3 736.0,629.2 736.8,629.9 737.7,630.3 738.5,629.6 739.3,630.3 740.2,630.0 741.0,630.5 741.8,629.5 742.7,629.2 743.5,628.7 744.3,628.6 745.2,628.7 746.0,628.6 746.8,628.2 747.7,629.7 748.5,630.7 749.4,629.9 750.2,629.4 751.0,629.5 751.9,627.7 752.7,627.8 753.5,627.0 754.4,627.7 755.2,629.5 756.0,630.5 756.9,628.5 757.7,628.5 758.5,628.9 759.4,627.4 760.2,626.0 761.0,626.6 761.9,626.0 762.7,627.2 763.5,628.6 764.4,630.0 765.2,627.9 766.0,629.4 766.9,629.1 767.7,628.4 768.5,627.4 769.4,629.4 770.2,628.8 771.0,629.0 771.9,626.8 772.7,627.2 773.5,627.9 774.4,625.8 775.2,626.2 776.0,625.8 776.9,626.0 777.7,626.5 778.6,625.9 779.4,627.0 780.2,628.3 781.1,628.2 781.9,626.8 782.7,627.0 783.6,625.7 784.4,625.2 785.2,625.5 786.1,624.7 786.9,624.9 787.7,624.6 788.6,624.7 789.4,624.3 790.2,623.8 791.1,622.1 791.9,618.6 792.7,609.3 793.6,609.4 794.4,609.6 795.2,609.6 796.1,610.4 796.9,610.3 797.7,612.8 798.6,615.7 799.4,619.9 800.2,619.9 801.1,619.3 801.9,620.8 802.7,618.7 803.6,619.3 804.4,620.3 805.2,618.8 806.1,620.4 806.9,617.6 807.8,619.5 808.6,618.9 809.4,618.0 810.3,618.3 811.1,619.0 811.9,620.2 812.8,620.3 813.6,620.0 814.4,619.1 815.3,621.8 816.1,620.4 816.9,621.4 817.8,621.4 818.6,620.9 819.4,614.3 820.3,609.7 821.1,611.4 821.9,610.2 822.8,613.2 823.6,616.0 824.4,617.5 825.3,619.8 826.1,619.3 826.9,617.4 827.8,619.1 828.6,620.3 829.4,618.6 830.3,617.5 831.1,620.6 831.9,620.6 832.8,621.1 833.6,620.3 834.4,620.2 835.3,621.0 836.1,620.9 837.0,619.3 837.8,620.4 838.6,619.9 839.5,619.2 840.3,617.7 841.1,618.1 842.0,618.6 842.8,620.0 843.6,619.6 844.5,619.9 845.3,622.4 846.1,623.4 847.0,623.0 847.8,620.6 848.6,619.6 849.5,620.1 850.3,620.5 851.1,618.9 852.0,618.7 852.8,619.3 853.6,619.7 854.5,618.9 855.3,619.7 856.1,618.5 857.0,618.7 857.8,619.7 858.6,619.9 859.5,620.8 860.3,621.4 861.1,621.1 862.0,620.9 862.8,620.7 863.6,621.0 864.5,621.1 865.3,620.1 866.2,621.2 867.0,623.1 867.8,619.8 868.7,619.6 869.5,619.4 870.3,618.3 871.2,617.8 872.0,617.1 872.8,617.3 873.7,617.6 874.5,618.0 875.3,618.9 876.2,619.3 877.0,623.1 877.8,619.9 878.7,619.9 879.5,620.8 880.3,619.1 881.2,620.0 882.0,619.5 882.8,620.4 883.7,621.2 884.5,619.4 885.3,619.4 886.2,621.1 887.0,619.7 887.8,618.8 888.7,619.4 889.5,618.8 890.3,617.9 891.2,617.5 892.0,617.8 892.8,617.8 893.7,617.0 894.5,615.4 895.4,608.7 896.2,609.3 897.0,606.0 897.9,608.5 898.7,610.0 899.5,615.6 900.4,617.1 901.2,618.2 902.0,618.8 902.9,618.3 903.7,617.3 904.5,618.1 905.4,619.6 906.2,620.1 907.0,619.9 907.9,620.5 908.7,620.2 909.5,619.4 910.4,619.3 911.2,617.4 912.0,620.1 912.9,619.7 913.7,618.6 914.5,620.2 915.4,621.7 916.2,618.6 917.0,618.1 917.9,618.2 918.7,617.6 919.5,619.6 920.4,620.8 921.2,618.7 922.0,619.0 922.9,620.9 923.7,620.5 924.6,618.5 925.4,620.1 926.2,621.5 927.1,623.1 927.9,621.7 928.7,620.9 929.6,621.0 930.4,611.7 931.2,588.3 932.1,576.9 932.9,571.6 933.7,566.2 934.6,560.9 935.4,555.6 936.2,550.2 937.1,544.9 937.9,539.6 938.7,534.1 939.6,528.6 940.4,523.1 941.2,517.6 942.1,512.1 942.9,506.7 943.7,501.2 944.6,495.7 945.4,489.6 946.2,483.4 947.1,477.1 947.9,470.9 948.7,464.7 949.6,458.4 950.4,452.2 951.2,446.0 952.1,439.7 952.9,435.3 953.8,431.8 954.6,428.3 955.4,424.8 956.3,421.3 957.1,418.3 957.9,413.8 958.8,391.5 959.6,393.5 960.4,398.8 961.3,401.4 962.1,404.5 962.9,405.6 963.8,408.9 964.6,409.0 965.4,409.1 966.3,409.3 967.1,411.6 967.9,410.1 968.8,410.7 969.6,411.1 970.4,409.0 971.3,409.7 972.1,408.9 972.9,411.2 973.8,410.0 974.6,409.8 975.4,409.6 976.3,410.8 977.1,410.1 977.9,410.3 978.8,408.8 979.6,409.9 980.4,411.6 981.3,404.0 982.1,393.5 983.0,391.1 983.8,389.6 984.6,387.7 985.5,387.7 986.3,387.3 987.1,392.9 988.0,397.7 988.8,401.1 989.6,402.9 990.5,405.4 991.3,405.8 992.1,405.2 993.0,405.9 993.8,406.7 994.6,406.3 995.5,407.7 996.3,407.8 997.1,405.4 998.0,405.5 998.8,405.7 999.6,406.7 1000.5,407.8 1001.3,408.9 1002.1,408.3 1003.0,406.7 1003.8,407.2 1004.6,406.6 1005.5,407.4 1006.3,407.4 1007.1,407.1 1008.0,404.4 1008.8,405.8 1009.6,407.6 1010.5,406.7 1011.3,407.2 1012.2,406.9 1013.0,408.0 1013.8,407.0 1014.7,408.1 1015.5,407.5 1016.3,408.1 1017.2,408.7 1018.0,407.7 1018.8,407.3 1019.7,409.6 1020.5,408.1 1021.3,407.2 1022.2,407.3 1023.0,407.2 1023.8,407.2 1024.7,407.2 1025.5,407.9 1026.3,406.9 1027.2,406.1 1028.0,407.8 1028.8,407.8 1029.7,408.8 1030.5,408.9 1031.3,402.1 1032.2,391.5 1033.0,390.0 1033.8,391.0 1034.7,389.0 1035.5,389.4 1036.3,390.5 1037.2,391.6 1038.0,390.8 1038.8,391.2 1039.7,392.5 1040.5,393.9 1041.4,401.3 1042.2,404.5 1043.0,406.5 1043.9,407.2 1044.7,409.9 1045.5,410.9 1046.4,414.5 1047.2,413.9 1048.0,415.1 1048.9,415.9 1049.7,416.3 1050.5,416.7 1051.4,416.5 1052.2,415.4 1053.0,416.0 1053.9,416.1 1054.7,415.9 1055.5,413.6 1056.4,413.6 1057.2,415.1 1058.0,414.5 1058.9,413.3 1059.7,414.4 1060.5,414.2 1061.4,413.8 1062.2,416.0 1063.0,415.7 1063.9,415.8 1064.7,415.0 1065.5,414.0 1066.4,415.3 1067.2,417.1 1068.0,417.0 1068.9,416.5 1069.7,416.9 1070.6,416.2 1071.4,417.3 1072.2,416.2 1073.1,415.4 1073.9,413.7 1074.7,414.9 1075.6,414.5 1076.4,416.0 1077.2,416.8 1078.1,417.3 1078.9,417.0 1079.7,418.0 1080.6,419.1 1081.4,415.6 1082.2,416.3 1083.1,416.4 1083.9,416.2 1084.7,416.8 1085.6,416.9 1086.4,415.6 1087.2,415.8 1088.1,415.1 1088.9,417.0 1089.7,416.4 1090.6,417.5 1091.4,418.5 1092.2,417.0 1093.1,416.7 1093.9,416.1 1094.7,415.8 1095.6,418.3 1096.4,417.2 1097.2,415.2 1098.1,415.9 1098.9,415.5 1099.8,414.8 1100.6,414.1 1101.4,418.0 1102.3,418.0 1103.1,417.8 1103.9,417.8 1104.8,416.5 1105.6,418.2 1106.4,420.3 1107.3,418.7 1108.1,418.4 1108.9,417.0 1109.8,416.1 1110.6,416.4 1111.4,415.6 1112.3,417.8 1113.1,417.8 1113.9,419.1 1114.8,410.9 1115.6,400.1 1116.4,397.2 1117.3,397.0 1118.1,396.6 1118.9,396.0 1119.8,395.5 1120.6,395.4 1121.4,396.0 1122.3,395.6 1123.1,397.9 1123.9,398.1 1124.8,395.7 1125.6,401.4 1126.4,407.3 1127.3,411.0 1128.1,413.2 1129.0,413.9 1129.8,413.2 1130.6,413.8 1131.5,413.4 1132.3,415.3 1133.1,415.2 1134.0,414.9 1134.8,414.5 1135.6,414.0 1136.5,414.4 1137.3,413.9 1138.1,413.2 1139.0,413.6 1139.8,415.5 1140.6,416.0 1141.5,416.5 1142.3,414.3 1143.1,413.9 1144.0,414.4 1144.8,415.4 1145.6,415.9 1146.5,414.1 1147.3,414.8 1148.1,415.6 1149.0,416.3 1149.8,415.2 1150.6,417.1 1151.5,416.9 1152.3,415.6 1153.1,414.7 1154.0,414.4 1154.8,404.4 1155.6,396.6 1156.5,395.9 1157.3,398.2 1158.2,399.7 1159.0,400.3 1159.8,400.3 1160.7,404.6 1161.5,410.5 1162.3,415.8 1163.2,415.9 1164.0,418.2 1164.8,418.5 1165.7,419.3 1166.5,418.7 1167.3,420.2 1168.2,421.0 1169.0,420.3 1169.8,419.9 1170.7,420.2 1171.5,419.5 1172.3,420.0 1173.2,420.1 1174.0,421.0 1174.8,420.3 1175.7,419.0 1176.5,419.3 1177.3,419.4 1178.2,418.4 1179.0,419.2 1179.8,419.8 1180.7,419.4 1181.5,417.6 1182.3,418.7 1183.2,418.9 1184.0,418.7 1184.8,419.3 1185.7,419.5 1186.5,418.0 1187.4,420.1 1188.2,419.1 1189.0,418.0 1189.9,417.2 1190.7,410.1 1191.5,398.7 1192.4,399.7 1193.2,401.3 1194.0,400.2 1194.9,399.6 1195.7,399.0 1196.5,397.7 1197.4,395.7 1198.2,396.6 1199.0,400.3 1199.9,406.2 1200.7,409.9 1201.5,413.6 1202.4,414.7 1203.2,416.3 1204.0,416.5 1204.9,418.3 1205.7,416.9 1206.5,418.7 1207.4,417.8 1208.2,419.9 1209.0,419.0 1209.9,418.2 1210.7,417.2 1211.5,416.0 1212.4,418.1 1213.2,418.2 1214.0,418.3 1214.9,418.1 1215.7,416.9 1216.6,418.0 1217.4,419.1 1218.2,419.3 1219.1,417.8 1219.9,418.8 1220.7,420.3 1221.6,419.8 1222.4,417.9 1223.2,416.4 1224.1,417.9 1224.9,418.7 1225.7,417.7 1226.6,417.0 1227.4,417.6 1228.2,411.4 1229.1,401.1 1229.9,404.8 1230.7,404.6 1231.6,407.7 1232.4,415.5 1233.2,418.2 1234.1,421.4 1234.9,422.8 1235.7,426.1 1236.6,426.3 1237.4,426.5 1238.2,426.8 1239.1,427.1 1239.9,427.5 1240.7,427.7 1241.6,429.0 1242.4,426.5 1243.2,427.6 1244.1,429.1 1244.9,428.3 1245.8,428.4 1246.6,429.0 1247.4,425.3 1248.3,426.1 1249.1,428.8 1249.9,428.9 1250.8,428.9 1251.6,428.6 1252.4,427.7 1253.3,427.3 1254.1,425.7 1254.9,427.2 1255.8,427.8 1256.6,426.8 1257.4,426.1 1258.3,427.2 1259.1,428.1 1259.9,426.8 1260.8,426.7 1261.6,418.1 1262.4,405.9 1263.3,405.8 1264.1,405.7 1264.9,405.5 1265.8,405.2 1266.6,411.4 1267.4,414.9 1268.3,417.0 1269.1,418.6 1269.9,421.2 1270.8,422.3 1271.6,421.6 1272.4,421.4 1273.3,423.3 1274.1,425.0 1275.0,424.2 1275.8,425.6 1276.6,422.9 1277.5,423.4 1278.3,422.9 1279.1,425.3 1280.0,424.5 1280.8,424.1 1281.6,425.5 1282.5,422.9 1283.3,423.4 1284.1,423.2 1285.0,423.8 1285.8,423.6 1286.6,423.1 1287.5,423.1 1288.3,423.0 1289.1,425.1 1290.0,424.6 1290.8,425.6 1291.6,424.6 1292.5,425.0 1293.3,426.4 1294.1,423.7 1295.0,424.1 1295.8,415.3 1296.6,406.0 1297.5,406.5 1298.3,406.0 1299.1,405.0 1300.0,406.6 1300.8,406.6 1301.6,406.7 1302.5,408.9 1303.3,408.3 1304.2,407.9 1305.0,408.9 1305.8,409.9 1306.7,414.6 1307.5,418.3 1308.3,422.7 1309.2,424.6 1310.0,427.5 1310.8,428.2 1311.7,430.1 1312.5,430.4 1313.3,429.1 1314.2,430.3 1315.0,430.9 1315.8,431.0 1316.7,430.7 1317.5,431.3 1318.3,430.3 1319.2,430.6 1320.0,429.4 1320.8,429.0 1321.7,429.0 1322.5,429.0 1323.3,428.8 1324.2,431.0 1325.0,428.3 1325.8,430.7 1326.7,428.8 1327.5,430.0 1328.3,432.1 1329.2,432.5 1330.0,433.3 1330.8,431.5 1331.7,431.0 1332.5,427.7 1333.4,428.5 1334.2,429.9 1335.0,428.5 1335.9,426.1 1336.7,428.6 1337.5,419.9 1338.4,409.7 1339.2,410.2 1340.0,409.5 1340.9,406.4 1341.7,410.2 1342.5,414.2 1343.4,418.0 1344.2,419.3 1345.0,423.2 1345.9,422.4 1346.7,425.0 1347.5,426.0 1348.4,425.2 1349.2,426.3 1350.0,425.6 1350.9,425.1 1351.7,424.1 1352.5,424.7 1353.4,424.9 1354.2,425.3 1355.0,425.4 1355.9,425.6 1356.7,425.5 1357.5,424.9 1358.4,423.9 1359.2,424.2 1360.0,427.8 1360.9,426.4 1361.7,427.7 1362.6,427.7 1363.4,426.0 1364.2,428.3 1365.1,427.6 1365.9,426.4 1366.7,426.0 1367.6,426.2 1368.4,427.3 1369.2,424.4 1370.1,426.3 1370.9,426.6 1371.7,414.9 1372.6,408.2 1373.4,408.5 1374.2,408.5 1375.1,411.4 1375.9,411.8 1376.7,413.7 1377.6,414.9 1378.4,422.0 1379.2,426.9 1380.1,429.1 1380.9,431.6 1381.7,429.2 1382.6,428.5 1383.4,430.7 1384.2,433.7 1385.1,436.6 1385.9,437.2 1386.7,434.5 1387.6,435.5 1388.4,435.3 1389.2,435.3 1390.1,435.3 1390.9,435.2 1391.8,435.1 1392.6,433.0 1393.4,433.1 1394.3,431.2 1395.1,432.1 1395.9,432.6 1396.8,431.0 1397.6,433.0 1398.4,431.9 1399.3,433.7 1400.1,432.5 1400.9,432.9 1401.8,432.7 1402.6,433.7 1403.4,430.9 1404.3,431.5 1405.1,433.3 1405.9,431.3 1406.8,433.2 1407.6,432.7 1408.4,432.2 1409.3,432.8 1410.1,432.5 1410.9,433.5 1411.8,433.1 1412.6,434.2 1413.4,434.5 1414.3,434.6 1415.1,433.9 1415.9,434.2 1416.8,432.4 1417.6,433.8 1418.4,431.3 1419.3,432.4 1420.1,433.0 1421.0,433.5 1421.8,432.6 1422.6,433.7 1423.5,432.9 1424.3,433.5 1425.1,435.4 1426.0,434.7 1426.8,432.3 1427.6,434.0 1428.5,433.1 1429.3,434.7 1430.1,433.1 1431.0,434.7 1431.8,435.1 1432.6,434.5 1433.5,434.0 1434.3,434.2 1435.1,432.2 1436.0,432.2 1436.8,433.6 1437.6,423.6 1438.5,414.1 1439.3,413.7 1440.1,414.1 1441.0,414.4 1441.8,413.9 1442.6,414.6 1443.5,414.0 1444.3,410.5 1445.1,411.8 1446.0,414.1 1446.8,419.5 1447.6,423.9 1448.5,427.3 1449.3,428.4 1450.2,429.6 1451.0,429.1 1451.8,428.2 1452.7,431.1 1453.5,431.3 1454.3,432.9 1455.2,433.4 1456.0,432.5 1456.8,431.3 1457.7,431.8 1458.5,429.6 1459.3,432.2 1460.2,431.9 1461.0,431.5 1461.8,432.4 1462.7,432.1 1463.5,433.6 1464.3,433.9 1465.2,432.8 1466.0,433.3 1466.8,432.2 1467.7,431.5 1468.5,430.1 1469.3,430.2 1470.2,431.4 1471.0,432.3 1471.8,431.4 1472.7,432.1 1473.5,429.5 1474.3,430.4 1475.2,431.3 1476.0,432.3 1476.8,428.5 1477.7,418.1 1478.5,414.6 1479.4,416.3 1480.2,417.4 1481.0,420.4 1481.9,426.4 1482.7,430.7 1483.5,432.6 1484.4,434.0 1485.2,435.0 1486.0,435.1 1486.9,436.8 1487.7,436.6 1488.5,435.8 1489.4,436.0 1490.2,436.4 1491.0,437.2 1491.9,437.3 1492.7,438.5 1493.5,435.3 1494.4,435.4 1495.2,435.4 1496.0,434.9 1496.9,435.6 1497.7,435.7 1498.5,435.9 1499.4,437.2 1500.2,439.2 1501.0,437.3 1501.9,435.7 1502.7,435.4 1503.5,436.1 1504.4,435.6 1505.2,435.0 1506.0,434.4 1506.9,434.9 1507.7,434.5 1508.6,437.3 1509.4,435.9 1510.2,435.3 1511.1,431.0 1511.9,418.7 1512.7,415.3 1513.6,413.3 1514.4,414.7 1515.2,419.2 1516.1,423.9 1516.9,426.9 1517.7,428.3 1518.6,430.6 1519.4,432.3 1520.2,431.6 1521.1,432.1 1521.9,432.3 1522.7,431.2 1523.6,434.5 1524.4,433.9 1525.2,432.6 1526.1,432.9 1526.9,431.3 1527.7,433.3 1528.6,433.3 1529.4,433.7 1530.2,433.8 1531.1,434.7 1531.9,434.0 1532.7,434.6 1533.6,434.9 1534.4,433.4 1535.2,433.3 1536.1,434.5 1536.9,433.9 1537.8,433.0 1538.6,432.1 1539.4,432.5 1540.3,431.4 1541.1,432.4 1541.9,433.5 1542.8,434.0 1543.6,433.4 1544.4,436.0 1545.3,433.0 1546.1,432.3 1546.9,433.3 1547.8,433.6 1548.6,432.9 1549.4,431.2 1550.3,433.7 1551.1,432.4 1551.9,432.5 1552.8,433.4 1553.6,432.9 1554.4,434.1 1555.3,435.4 1556.1,436.5 1556.9,432.9 1557.8,433.7 1558.6,434.0 1559.4,434.0 1560.3,434.2 1561.1,435.0 1561.9,433.6 1562.8,433.3 1563.6,432.9 1564.4,434.7 1565.3,432.7 1566.1,432.7 1567.0,431.9 1567.8,433.2 1568.6,433.8 1569.5,435.2 1570.3,433.0 1571.1,432.9 1572.0,434.5 1572.8,434.2 1573.6,434.0 1574.5,433.8 1575.3,432.8 1576.1,432.3 1577.0,430.0 1577.8,421.6 1578.6,419.9 1579.5,421.4 1580.3,422.7 1581.1,422.7 1582.0,424.3 1582.8,425.3 1583.6,425.4 1584.5,428.5 1585.3,432.9 1586.1,439.9 1587.0,441.4 1587.8,444.2 1588.6,444.8 1589.5,445.6 1590.3,446.1 1591.1,447.3 1592.0,446.9 1592.8,446.0 1593.6,434.2 1594.5,429.1 1595.3,430.0 1596.2,427.9 1597.0,429.3 1597.8,436.1 1598.7,439.1 1599.5,441.1 1600.3,441.5 1601.2,443.3 1602.0,444.1 1602.8,446.5 1603.7,444.7 1604.5,446.5 1605.3,446.8 1606.2,446.9 1607.0,446.3 1607.8,446.8 1608.7,447.3 1609.5,447.4 1610.3,445.9 1611.2,445.5 1612.0,445.8 1612.8,446.1 1613.7,446.0 1614.5,435.2 1615.3,430.6 1616.2,428.8 1617.0,432.6 1617.8,434.8 1618.7,438.5 1619.5,445.0 1620.3,450.8 1621.2,454.1 1622.0,454.5 1622.8,457.9 1623.7,457.4 1624.5,458.3 1625.4,460.5 1626.2,464.3 1627.0,464.6 1627.9,464.4 1628.7,467.1 1629.5,470.3 1630.4,473.1 1631.2,476.5 1632.0,477.8 1632.9,481.3 1633.7,484.1 1634.5,488.3 1635.4,494.9 1636.2,497.8 1637.0,500.5 1637.9,505.0 1638.7,507.0 1639.5,509.4 1640.4,512.8 1641.2,512.2 1642.0,512.9 1642.9,514.5 1643.7,516.7 1644.5,516.5 1645.4,516.4 1646.2,510.5 1647.0,502.8 1647.9,495.9 1648.7,486.6 1649.5,471.8 1650.4,459.7 1651.2,449.7" stroke="#00f" stroke-dasharray="10 4.5"/>
<polyline points="256.4,534.8 258.2,401.1 259.9,357.7 261.6,384.6 263.4,390.2 265.1,391.0 266.9,391.8 268.6,392.2 270.3,392.9 272.1,393.6 273.8,394.8 275.5,395.8 277.3,396.8 279.0,397.5 280.8,399.0 282.5,398.8 284.2,399.3 286.0,399.9 287.7,400.2 289.5,401.4 291.2,402.4 292.9,403.1 294.7,404.8 296.4,405.1 298.1,405.5 299.9,405.7 301.6,406.4 303.4,406.9 305.1,406.5 306.8,407.0 308.6,407.4 310.3,407.4 312.0,407.1 313.8,408.2 315.5,407.7 317.3,407.8 319.0,407.7 320.7,408.4 322.5,408.4 324.2,408.0 326.0,408.4 327.7,408.9 329.4,409.2 331.2,409.5 332.9,409.3 334.6,409.4 336.4,409.7 338.1,409.6 339.9,410.2 341.6,410.7 343.3,409.8 345.1,410.3 346.8,409.9 348.5,410.3 350.3,410.6 352.0,410.6 353.8,411.1 355.5,411.4 357.2,411.5 359.0,411.6 360.7,411.4 362.5,410.8 364.2,411.5 365.9,411.9 367.7,411.7 369.4,411.6 371.1,411.4 372.9,411.9 374.6,411.8 376.4,412.0 378.1,412.8 379.8,412.6 381.6,413.2 383.3,412.9 385.0,413.1 386.8,413.1 388.5,412.4 390.3,412.1 392.0,412.3 393.7,412.5 395.5,413.1 397.2,412.8 399.0,412.8 400.7,413.4 402.4,414.1 404.2,414.1 405.9,414.1 407.6,413.8 409.4,414.3 411.1,414.6 412.9,414.4 414.6,414.4 416.3,414.2 418.1,414.0 419.8,414.5 421.5,415.5 423.3,415.3 425.0,415.5 426.8,415.4 428.5,416.3 430.2,416.1 432.0,415.9 433.7,416.0 435.5,415.7 437.2,415.7 438.9,415.7 440.7,415.3 442.4,415.1 444.1,415.0 445.9,415.3 447.6,415.6 449.4,415.7 451.1,415.8 452.8,416.4 454.6,416.4 456.3,416.2 458.0,416.6 459.8,417.1 461.5,416.9 463.3,417.3 465.0,417.9 466.7,417.8 468.5,418.3 470.2,418.0 472.0,418.1 473.7,418.0 475.4,417.6 477.2,417.4 478.9,417.6 480.6,418.6 482.4,418.7 484.1,419.1 485.9,418.6 487.6,418.1 489.3,418.0 491.1,418.1 492.8,418.1 494.5,418.2 496.3,418.6 498.0,418.5 499.8,418.9 501.5,419.4 503.2,419.5 505.0,419.0 506.7,419.3 508.5,420.1 510.2,419.6 511.9,419.6 513.7,419.6 515.4,420.0 517.1,419.9 518.9,419.5 520.6,420.0 522.4,420.0 524.1,420.1 525.8,420.6 527.6,420.7 529.3,420.6 531.0,421.0 532.8,420.7 534.5,421.3 536.3,420.9 538.0,420.9 539.7,421.1 541.5,421.6 543.2,421.9 545.0,422.7 546.7,422.5 548.4,422.5 550.2,422.2 551.9,421.9 553.6,422.0 555.4,422.3 557.1,422.1 558.9,422.3 560.6,422.5 562.3,423.1 564.1,422.7 565.8,423.1 567.5,422.5 569.3,423.1 571.0,423.4 572.8,423.5 574.5,423.8 576.2,424.3 578.0,424.6 579.7,424.8 581.5,424.7 583.2,424.2 584.9,424.0 586.7,424.1 588.4,424.0 590.1,424.9 591.9,425.1 593.6,425.3 595.4,425.6 597.1,425.3 598.8,425.5 600.6,425.8 602.3,425.4 604.0,425.7 605.8,425.8 607.5,426.3 609.3,425.9 611.0,425.9 612.7,425.4 614.5,424.9 616.2,425.1 618.0,425.6 619.7,426.1 621.4,425.7 623.2,426.1 624.9,426.1 626.6,426.3 628.4,427.7 630.1,427.4 631.9,427.3 633.6,427.3 635.3,427.4 637.1,427.3 638.8,427.8 640.5,427.5 642.3,427.8 644.0,427.8 645.8,427.3 647.5,427.5 649.2,428.1 651.0,428.0 652.7,428.7 654.5,428.6 656.2,428.1 657.9,428.7 659.7,428.8 661.4,429.1 663.1,429.1 664.9,429.0 666.6,429.0 668.4,429.2 670.1,429.9 671.8,430.1 673.6,430.2 675.3,429.8 677.0,430.5 678.8,430.0 680.5,430.3 682.3,430.8 684.0,430.2 685.7,430.1 687.5,430.5 689.2,430.5 691.0,430.3 692.7,431.0 694.4,430.5 696.2,430.9 697.9,430.7 699.6,431.1 701.4,431.7 703.1,431.8 704.9,431.9 706.6,431.8 708.3,432.3 710.1,432.5 711.8,432.2 713.5,432.3 715.3,432.4 717.0,432.2 718.8,432.7 720.5,431.9 722.2,432.4 724.0,432.3 725.7,432.5 727.5,432.3 729.2,432.7 730.9,433.2 732.7,433.2 734.4,433.1 736.1,433.4 737.9,432.8 739.6,433.0 741.4,432.9 743.1,432.9 744.8,433.1 746.6,433.6 748.3,433.4 750.0,434.1 751.8,434.4 753.5,434.2 755.3,434.3 757.0,435.1 758.7,435.4 760.5,435.9 762.2,435.6 764.0,435.9 765.7,436.1 767.4,436.5 769.2,436.7 770.9,436.6 772.6,437.1 774.4,437.1 776.1,437.3 777.9,437.5 779.6,438.0 781.3,437.6 783.1,438.3 784.8,438.7 786.5,438.7 788.3,438.6 790.0,438.9 791.8,439.4 793.5,439.4 795.2,439.7 797.0,439.8 798.7,439.1 800.5,440.0 802.2,439.9 803.9,439.7 805.7,439.9 807.4,440.1 809.1,439.8 810.9,440.0 812.6,440.7 814.4,440.8 816.1,440.7 817.8,440.8 819.6,441.1 821.3,441.0 823.0,441.3 824.8,441.2 826.5,441.1 828.3,441.5 830.0,442.1 831.7,441.6 833.5,441.6 835.2,442.0 837.0,442.6 838.7,442.5 840.4,442.4 842.2,442.3 843.9,442.3 845.6,442.7 847.4,442.9 849.1,443.5 850.9,443.7 852.6,443.8 854.3,443.3 856.1,443.9 857.8,443.2 859.5,443.1 861.3,443.6 863.0,444.0 864.8,444.0 866.5,444.0 868.2,443.9 870.0,444.7 871.7,444.9 873.5,444.7 875.2,444.5 876.9,444.5 878.7,444.7 880.4,444.8 882.1,445.2 883.9,444.7 885.6,444.6 887.4,444.8 889.1,445.3 890.8,445.5 892.6,445.5 894.3,445.7 896.0,445.3 897.8,444.9 899.5,445.0 901.3,445.9 903.0,445.9 904.7,446.3 906.5,446.4 908.2,445.9 910.0,446.8 911.7,447.4 913.4,447.6 915.2,447.2 916.9,447.4 918.6,448.1 920.4,447.9 922.1,447.6 923.9,447.3 925.6,447.4 927.3,447.3 929.1,447.9 930.8,449.1 932.5,467.4 934.3,485.8 936.0,501.5 937.8,506.3 939.5,508.4 941.2,499.6 943.0,490.8 944.7,472.9 946.5,452.7 948.2,432.4 949.9,412.2 951.7,392.0 953.4,380.2 955.1,368.4 956.9,356.6 958.6,354.5 960.4,356.4 962.1,356.7 963.8,355.4 965.6,355.8 967.3,355.7 969.0,355.0 970.8,354.8 972.5,355.1 974.3,354.6 976.0,354.4 977.7,354.7 979.5,354.5 981.2,354.5 983.0,355.2 984.7,355.6 986.4,355.5 988.2,358.8 989.9,358.2 991.6,357.4 993.4,356.6 995.1,356.3 996.9,356.5 998.6,357.3 1000.3,356.7 1002.1,356.7 1003.8,356.4 1005.5,356.5 1007.3,356.7 1009.0,356.7 1010.8,357.0 1012.5,357.2 1014.2,357.5 1016.0,358.1 1017.7,357.5 1019.5,357.1 1021.2,357.4 1022.9,357.6 1024.7,356.8 1026.4,356.9 1028.1,357.3 1029.9,357.9 1031.6,357.4 1033.4,357.2 1035.1,357.8 1036.8,357.7 1038.6,358.3 1040.3,358.5 1042.0,361.0 1043.8,360.4 1045.5,359.9 1047.3,359.9 1049.0,359.4 1050.7,359.4 1052.5,359.7 1054.2,358.9 1056.0,359.3 1057.7,359.6 1059.4,359.5 1061.2,359.7 1062.9,359.8 1064.6,359.7 1066.4,360.0 1068.1,360.4 1069.9,360.5 1071.6,360.2 1073.3,360.3 1075.1,359.9 1076.8,360.1 1078.5,360.7 1080.3,360.7 1082.0,360.9 1083.8,361.1 1085.5,361.3 1087.2,361.0 1089.0,360.9 1090.7,361.0 1092.5,361.1 1094.2,361.1 1095.9,361.1 1097.7,361.3 1099.4,361.8 1101.1,361.5 1102.9,361.4 1104.6,361.3 1106.4,362.6 1108.1,362.5 1109.8,362.5 1111.6,363.5 1113.3,363.0 1115.0,363.7 1116.8,363.7 1118.5,363.5 1120.3,363.2 1122.0,363.4 1123.7,363.7 1125.5,365.8 1127.2,366.8 1129.0,365.4 1130.7,365.3 1132.4,364.4 1134.2,365.3 1135.9,365.2 1137.6,365.2 1139.4,365.1 1141.1,364.9 1142.9,364.6 1144.6,365.0 1146.3,365.6 1148.1,365.9 1149.8,365.9 1151.5,366.2 1153.3,366.2 1155.0,366.1 1156.8,366.1 1158.5,365.8 1160.2,365.8 1162.0,369.3 1163.7,368.5 1165.5,367.8 1167.2,367.5 1168.9,367.0 1170.7,366.6 1172.4,366.7 1174.1,366.3 1175.9,366.9 1177.6,367.1 1179.4,366.8 1181.1,367.1 1182.8,367.5 1184.6,367.9 1186.3,367.6 1188.0,367.5 1189.8,367.1 1191.5,366.8 1193.3,367.2 1195.0,367.8 1196.7,368.3 1198.5,368.6 1200.2,370.9 1202.0,370.1 1203.7,369.7 1205.4,369.5 1207.2,369.2 1208.9,369.4 1210.6,369.7 1212.4,369.9 1214.1,369.3 1215.9,369.5 1217.6,369.4 1219.3,369.4 1221.1,370.3 1222.8,370.1 1224.5,370.5 1226.3,370.6 1228.0,371.2 1229.8,370.8 1231.5,370.7 1233.2,373.9 1235.0,372.6 1236.7,372.1 1238.5,371.1 1240.2,371.1 1241.9,370.3 1243.7,371.0 1245.4,371.0 1247.1,371.6 1248.9,372.1 1250.6,372.2 1252.4,372.2 1254.1,372.6 1255.8,372.3 1257.6,371.7 1259.3,371.6 1261.0,372.1 1262.8,371.6 1264.5,372.5 1266.3,372.7 1268.0,375.2 1269.7,374.4 1271.5,373.7 1273.2,373.4 1275.0,372.9 1276.7,372.8 1278.4,373.1 1280.2,372.9 1281.9,373.3 1283.6,373.8 1285.4,374.2 1287.1,374.5 1288.9,374.3 1290.6,374.4 1292.3,374.1 1294.1,374.7 1295.8,374.6 1297.5,374.4 1299.3,374.4 1301.0,374.3 1302.8,375.4 1304.5,375.6 1306.2,375.6 1308.0,378.2 1309.7,376.5 1311.5,375.0 1313.2,375.1 1314.9,375.0 1316.7,374.7 1318.4,375.0 1320.1,374.7 1321.9,374.9 1323.6,375.0 1325.4,374.9 1327.1,374.5 1328.8,374.7 1330.6,375.2 1332.3,374.9 1334.0,374.9 1335.8,375.4 1337.5,376.1 1339.3,376.0 1341.0,376.2 1342.7,379.2 1344.5,377.9 1346.2,376.8 1348.0,376.0 1349.7,375.9 1351.4,376.3 1353.2,376.7 1354.9,377.1 1356.6,376.7 1358.4,377.2 1360.1,377.2 1361.9,377.5 1363.6,377.4 1365.3,377.4 1367.1,377.3 1368.8,376.6 1370.5,376.4 1372.3,376.7 1374.0,377.2 1375.8,377.0 1377.5,377.1 1379.2,380.1 1381.0,379.4 1382.7,378.3 1384.5,377.8 1386.2,377.4 1387.9,377.4 1389.7,377.4 1391.4,377.9 1393.1,377.5 1394.9,377.5 1396.6,377.1 1398.4,377.5 1400.1,377.8 1401.8,377.5 1403.6,377.9 1405.3,377.9 1407.0,378.1 1408.8,378.3 1410.5,379.1 1412.3,378.8 1414.0,378.8 1415.7,379.2 1417.5,378.7 1419.2,379.5 1421.0,379.4 1422.7,378.5 1424.4,378.4 1426.2,378.9 1427.9,378.7 1429.6,378.6 1431.4,380.0 1433.1,379.8 1434.9,379.7 1436.6,379.2 1438.3,379.3 1440.1,379.9 1441.8,380.0 1443.5,379.3 1445.3,379.5 1447.0,381.2 1448.8,381.3 1450.5,380.9 1452.2,380.2 1454.0,380.1 1455.7,379.9 1457.5,379.9 1459.2,380.3 1460.9,380.0 1462.7,380.2 1464.4,380.4 1466.1,380.5 1467.9,380.7 1469.6,380.7 1471.4,380.8 1473.1,381.3 1474.8,380.6 1476.6,380.7 1478.3,380.8 1480.0,381.5 1481.8,383.1 1483.5,383.1 1485.3,381.8 1487.0,381.5 1488.7,381.1 1490.5,381.3 1492.2,381.3 1494.0,380.9 1495.7,380.4 1497.4,380.7 1499.2,381.5 1500.9,381.4 1502.6,381.4 1504.4,381.9 1506.1,382.2 1507.9,381.3 1509.6,381.5 1511.3,381.9 1513.1,381.8 1514.8,383.9 1516.5,385.5 1518.3,384.4 1520.0,383.4 1521.8,382.7 1523.5,382.6 1525.2,382.0 1527.0,382.8 1528.7,383.2 1530.5,382.7 1532.2,382.6 1533.9,382.8 1535.7,382.9 1537.4,383.3 1539.1,382.7 1540.9,383.2 1542.6,383.0 1544.4,383.4 1546.1,383.7 1547.8,384.3 1549.6,384.4 1551.3,384.4 1553.0,384.7 1554.8,385.1 1556.5,385.4 1558.3,385.7 1560.0,385.0 1561.7,385.0 1563.5,385.2 1565.2,384.9 1567.0,384.8 1568.7,384.7 1570.4,384.5 1572.2,384.9 1573.9,386.0 1575.6,386.0 1577.4,386.3 1579.1,386.7 1580.9,387.3 1582.6,387.3 1584.3,387.6 1586.1,393.3 1587.8,395.7 1589.5,396.5 1591.3,397.0 1593.0,397.7 1594.8,398.1 1596.5,397.8 1598.2,400.9 1600.0,399.9 1601.7,399.4 1603.5,399.0 1605.2,398.9 1606.9,399.5 1608.7,399.5 1610.4,400.2 1612.1,400.3 1613.9,401.2 1615.6,403.2 1617.4,404.5 1619.1,409.4 1620.8,412.7 1622.6,414.1 1624.3,415.5 1626.0,416.6 1627.8,418.3 1629.5,420.9 1631.3,423.1 1633.0,425.5 1634.7,440.3 1636.5,454.7 1638.2,466.6 1640.0,478.3 1641.7,486.4 1643.4,491.6 1645.2,497.4 1646.9,492.7 1648.6,473.1 1650.4,428.3 1652.1,346.3" stroke="#0ff" stroke-dasharray="10 4.5"/>
<polyline points="248.8,780.3 249.8,855.0 250.7,929.6 251.7,981.4 252.7,1029.3 253.6,1025.9 254.6,982.1 255.6,888.8 256.6,804.7 257.5,775.4 258.5,746.1 259.5,744.7 260.5,743.3 261.4,742.3 262.4,742.5 263.4,742.6 264.4,743.5 265.3,744.1 266.3,744.5 267.3,743.7 268.2,743.2 269.2,737.5 270.2,722.0 271.2,722.8 272.1,722.4 273.1,721.8 274.1,721.1 275.1,721.9 276.0,722.1 277.0,723.4 278.0,723.0 279.0,743.3 279.9,744.7 280.9,742.8 281.9,744.2 282.8,742.7 283.8,742.2 284.8,742.4 285.8,741.9 286.7,741.6 287.7,741.0 288.7,741.6 289.7,742.2 290.6,742.6 291.6,743.2 292.6,742.8 293.6,743.1 294.5,741.9 295.5,743.4 296.5,743.7 297.4,743.8 298.4,744.7 299.4,742.2 300.4,744.0 301.3,743.5 302.3,743.3 303.3,741.5 304.3,743.3 305.2,742.0 306.2,742.6 307.2,738.7 308.2,730.3 309.1,737.4 310.1,739.5 311.1,740.5 312.0,739.8 313.0,739.9 314.0,742.9 315.0,741.4 315.9,741.0 316.9,741.8 317.9,741.7 318.9,742.2 319.8,740.9 320.8,741.2 321.8,741.7 322.8,742.0 323.7,742.2 324.7,742.3 325.7,742.9 326.6,741.0 327.6,742.9 328.6,745.4 329.6,744.1 330.5,743.4 331.5,742.6 332.5,742.5 333.5,742.5 334.4,742.1 335.4,741.3 336.4,742.0 337.4,742.3 338.3,740.7 339.3,740.8 340.3,742.1 341.2,740.3 342.2,740.4 343.2,741.5 344.2,742.7 345.1,742.2 346.1,742.8 347.1,743.3 348.1,743.8 349.0,743.5 350.0,742.1 351.0,729.8 352.0,730.8 352.9,729.8 353.9,729.6 354.9,728.9 355.8,728.2 356.8,741.5 357.8,744.6 358.8,745.6 359.7,746.8 360.7,746.0 361.7,745.0 362.7,745.3 363.6,745.8 364.6,746.1 365.6,746.7 366.6,747.1 367.5,747.0 368.5,747.3 369.5,747.1 370.4,747.9 371.4,746.9 372.4,746.5 373.4,747.2 374.3,748.6 375.3,747.6 376.3,746.1 377.3,746.7 378.2,746.8 379.2,746.9 380.2,746.1 381.2,746.8 382.1,745.7 383.1,746.1 384.1,745.4 385.0,745.6 386.0,746.0 387.0,747.2 388.0,740.4 388.9,740.1 389.9,739.3 390.9,739.0 391.9,739.7 392.8,739.2 393.8,738.4 394.8,738.8 395.8,739.3 396.7,739.6 397.7,738.8 398.7,738.6 399.6,739.5 400.6,739.1 401.6,739.5 402.6,740.0 403.5,738.7 404.5,738.3 405.5,739.2 406.5,739.2 407.4,738.8 408.4,739.5 409.4,739.5 410.4,738.8 411.3,740.4 412.3,739.7 413.3,738.9 414.2,738.6 415.2,739.9 416.2,729.3 417.2,727.4 418.1,726.7 419.1,726.2 420.1,730.2 421.1,739.3 422.0,742.5 423.0,742.5 424.0,743.6 425.0,743.1 425.9,742.8 426.9,743.2 427.9,741.3 428.8,742.0 429.8,740.8 430.8,743.3 431.8,745.0 432.7,743.5 433.7,742.9 434.7,743.3 435.7,743.3 436.6,744.7 437.6,744.6 438.6,744.9 439.6,744.4 440.5,743.2 441.5,743.2 442.5,742.9 443.4,743.6 444.4,743.8 445.4,743.5 446.4,743.6 447.3,742.4 448.3,743.4 449.3,729.3 450.3,730.6 451.2,729.8 452.2,722.7 453.2,721.4 454.2,725.4 455.1,731.6 456.1,733.3 457.1,734.8 458.0,735.9 459.0,737.2 460.0,735.5 461.0,735.9 461.9,736.1 462.9,735.8 463.9,734.0 464.9,735.8 465.8,735.4 466.8,735.6 467.8,735.0 468.8,736.5 469.7,736.3 470.7,735.2 471.7,734.0 472.6,733.2 473.6,734.7 474.6,734.9 475.6,735.1 476.5,736.2 477.5,736.9 478.5,735.7 479.5,735.3 480.4,735.4 481.4,734.4 482.4,735.5 483.4,722.4 484.3,722.5 485.3,722.6 486.3,722.2 487.2,726.8 488.2,735.4 489.2,738.1 490.2,737.6 491.1,738.8 492.1,738.5 493.1,738.5 494.1,739.3 495.0,738.9 496.0,739.9 497.0,739.0 498.0,739.9 498.9,740.2 499.9,739.8 500.9,739.2 501.8,738.7 502.8,738.4 503.8,739.1 504.8,740.1 505.7,739.6 506.7,739.4 507.7,740.3 508.7,739.3 509.6,739.4 510.6,740.3 511.6,739.7 512.6,740.8 513.5,741.1 514.5,740.2 515.5,741.3 516.4,740.6 517.4,741.4 518.4,740.2 519.4,740.6 520.3,740.1 521.3,741.1 522.3,740.9 523.3,739.7 524.2,739.4 525.2,741.0 526.2,739.8 527.2,739.1 528.1,739.7 529.1,738.6 530.1,739.9 531.0,738.8 532.0,737.9 533.0,737.2 534.0,736.8 534.9,738.4 535.9,739.9 536.9,739.1 537.9,740.0 538.8,739.6 539.8,740.2 540.8,738.7 541.8,738.1 542.7,737.9 543.7,738.2 544.7,738.3 545.6,738.7 546.6,738.4 547.6,738.3 548.6,738.1 549.5,738.6 550.5,737.2 551.5,737.5 552.5,736.9 553.4,736.6 554.4,738.1 555.4,739.6 556.4,738.2 557.3,738.7 558.3,738.6 559.3,738.8 560.2,738.7 561.2,739.6 562.2,739.3 563.2,739.4 564.1,739.1 565.1,740.7 566.1,739.3 567.1,738.8 568.0,740.1 569.0,740.1 570.0,739.5 571.0,738.6 571.9,738.6 572.9,737.6 573.9,738.0 574.8,739.0 575.8,734.4 576.8,726.0 577.8,726.5 578.7,718.8 579.7,718.2 580.7,721.7 581.7,727.5 582.6,730.2 583.6,731.1 584.6,731.9 585.6,732.4 586.5,733.4 587.5,733.2 588.5,733.4 589.4,733.9 590.4,732.9 591.4,732.1 592.4,732.3 593.3,731.0 594.3,730.6 595.3,730.3 596.3,731.3 597.2,732.7 598.2,731.9 599.2,731.6 600.2,731.1 601.1,731.1 602.1,730.4 603.1,731.2 604.0,730.9 605.0,731.9 606.0,733.7 607.0,733.3 607.9,731.5 608.9,732.9 609.9,731.7 610.9,732.3 611.8,732.4 612.8,732.1 613.8,731.8 614.8,732.6 615.7,732.2 616.7,731.7 617.7,731.1 618.6,731.9 619.6,730.7 620.6,729.6 621.6,728.6 622.5,730.9 623.5,731.1 624.5,732.8 625.5,732.1 626.4,731.6 627.4,732.5 628.4,733.5 629.4,732.7 630.3,731.8 631.3,732.4 632.3,732.4 633.2,734.1 634.2,733.7 635.2,732.8 636.2,732.3 637.1,730.9 638.1,732.1 639.1,728.7 640.1,720.0 641.0,720.2 642.0,719.6 643.0,718.9 644.0,718.5 644.9,721.1 645.9,728.6 646.9,733.9 647.8,734.9 648.8,733.6 649.8,734.6 650.8,734.1 651.7,734.6 652.7,735.2 653.7,734.0 654.7,733.7 655.6,734.5 656.6,734.1 657.6,735.5 658.6,736.0 659.5,735.0 660.5,735.0 661.5,735.9 662.4,735.3 663.4,735.0 664.4,734.1 665.4,733.8 666.3,734.6 667.3,735.2 668.3,735.3 669.3,735.5 670.2,734.2 671.2,733.4 672.2,733.1 673.2,733.6 674.1,734.5 675.1,734.1 676.1,734.8 677.0,734.8 678.0,736.2 679.0,736.2 680.0,734.7 680.9,735.7 681.9,736.7 682.9,736.2 683.9,734.5 684.8,733.7 685.8,734.6 686.8,735.2 687.8,735.3 688.7,736.0 689.7,735.6 690.7,735.7 691.6,736.7 692.6,736.5 693.6,736.2 694.6,736.5 695.5,736.8 696.5,735.5 697.5,733.9 698.5,734.7 699.4,735.2 700.4,734.8 701.4,735.2 702.4,735.8 703.3,734.5 704.3,735.6 705.3,736.0 706.2,736.2 707.2,736.5 708.2,736.2 709.2,735.3 710.1,734.2 711.1,734.1 712.1,734.5 713.1,735.8 714.0,735.6 715.0,736.2 716.0,735.9 717.0,734.8 717.9,734.8 718.9,735.2 719.9,735.8 720.8,735.6 721.8,735.3 722.8,736.0 723.8,736.1 724.7,735.1 725.7,736.4 726.7,736.3 727.7,736.8 728.6,734.9 729.6,734.6 730.6,734.4 731.6,734.4 732.5,734.5 733.5,733.4 734.5,734.9 735.4,734.4 736.4,733.8 737.4,735.0 738.4,734.0 739.3,733.5 740.3,734.9 741.3,734.9 742.3,734.8 743.2,734.9 744.2,734.3 745.2,735.2 746.2,734.9 747.1,734.4 748.1,733.7 749.1,733.8 750.0,734.1 751.0,733.6 752.0,735.3 753.0,734.1 753.9,734.3 754.9,735.2 755.9,735.1 756.9,736.1 757.8,736.9 758.8,736.0 759.8,735.8 760.8,734.6 761.7,735.1 762.7,735.7 763.7,735.8 764.6,733.8 765.6,733.9 766.6,734.4 767.6,735.1 768.5,735.5 769.5,735.1 770.5,734.3 771.5,733.3 772.4,732.7 773.4,733.1 774.4,734.0 775.4,734.7 776.3,736.2 777.3,736.2 778.3,735.0 779.2,734.9 780.2,734.3 781.2,735.2 782.2,734.1 783.1,733.8 784.1,733.9 785.1,733.7 786.1,735.6 787.0,735.4 788.0,735.6 789.0,733.6 790.0,733.9 790.9,734.4 791.9,721.4 792.9,712.3 793.8,711.0 794.8,711.9 795.8,711.9 796.8,712.6 797.7,716.6 798.7,723.6 799.7,724.0 800.7,725.0 801.6,724.8 802.6,725.5 803.6,724.9 804.6,724.5 805.5,724.0 806.5,723.9 807.5,723.6 808.4,723.1 809.4,723.9 810.4,725.0 811.4,725.8 812.3,724.7 813.3,724.8 814.3,723.8 815.3,724.0 816.2,724.9 817.2,724.0 818.2,722.6 819.2,718.4 820.1,712.0 821.1,716.6 822.1,715.6 823.0,723.2 824.0,727.2 825.0,727.6 826.0,728.1 826.9,728.1 827.9,728.7 828.9,729.0 829.9,728.6 830.8,728.4 831.8,727.9 832.8,728.5 833.8,728.2 834.7,727.9 835.7,728.0 836.7,727.7 837.6,727.2 838.6,727.5 839.6,727.8 840.6,728.8 841.5,728.4 842.5,728.4 843.5,730.7 844.5,738.4 845.4,738.7 846.4,736.7 847.4,737.1 848.4,735.6 849.3,728.5 850.3,728.3 851.3,728.2 852.2,728.8 853.2,726.3 854.2,725.8 855.2,725.5 856.1,725.6 857.1,726.2 858.1,725.7 859.1,726.5 860.0,725.5 861.0,725.8 862.0,725.7 863.0,725.0 863.9,724.8 864.9,726.1 865.9,726.0 866.8,725.5 867.8,726.4 868.8,727.9 869.8,727.0 870.7,726.4 871.7,725.7 872.7,725.6 873.7,725.4 874.6,725.3 875.6,724.3 876.6,724.4 877.6,724.4 878.5,725.2 879.5,724.4 880.5,725.0 881.4,724.6 882.4,726.6 883.4,726.0 884.4,725.9 885.3,726.1 886.3,724.9 887.3,724.8 888.3,725.2 889.2,725.7 890.2,724.2 891.2,724.1 892.2,724.2 893.1,725.3 894.1,724.4 895.1,711.8 896.0,716.5 897.0,716.7 898.0,718.1 899.0,722.7 899.9,728.3 900.9,728.7 901.9,729.6 902.9,730.1 903.8,729.6 904.8,729.4 905.8,730.3 906.8,730.1 907.7,729.4 908.7,729.6 909.7,730.6 910.6,730.4 911.6,730.8 912.6,730.7 913.6,730.2 914.5,730.0 915.5,729.9 916.5,731.0 917.5,730.2 918.4,730.1 919.4,730.1 920.4,729.8 921.4,728.2 922.3,729.7 923.3,730.9 924.3,729.7 925.2,730.3 926.2,728.9 927.2,729.9 928.2,730.1 929.1,729.2 930.1,729.5 931.1,621.0 932.1,612.0 933.0,615.3 934.0,618.5 935.0,621.8 936.0,625.0 936.9,628.2 937.9,631.5 938.9,634.7 939.8,638.0 940.8,641.2 941.8,644.5 942.8,521.2 943.7,332.4 944.7,331.7 945.7,334.2 946.7,337.0 947.6,342.2 948.6,344.7 949.6,349.3 950.6,352.2 951.5,352.5 952.5,352.4 953.5,352.2 954.4,352.1 955.4,352.2 956.4,345.3 957.4,334.4 958.3,334.9 959.3,334.9 960.3,340.1 961.3,344.5 962.2,347.7 963.2,350.0 964.2,350.4 965.2,352.9 966.1,354.4 967.1,354.5 968.1,356.3 969.0,356.4 970.0,355.0 971.0,355.4 972.0,355.2 972.9,354.6 973.9,355.7 974.9,355.3 975.9,355.7 976.8,356.3 977.8,356.1 978.8,355.7 979.8,355.8 980.7,356.0 981.7,339.9 982.7,335.3 983.6,335.3 984.6,335.8 985.6,336.8 986.6,334.3 987.5,340.6 988.5,343.8 989.5,345.5 990.5,346.7 991.4,348.2 992.4,349.5 993.4,349.9 994.4,350.2 995.3,350.1 996.3,349.3 997.3,350.6 998.2,349.2 999.2,351.6 1000.2,352.8 1001.2,353.3 1002.1,353.2 1003.1,352.6 1004.1,350.4 1005.1,351.2 1006.0,350.3 1007.0,350.9 1008.0,350.9 1009.0,351.8 1009.9,349.8 1010.9,350.4 1011.9,351.1 1012.8,349.4 1013.8,350.0 1014.8,350.1 1015.8,350.6 1016.7,351.5 1017.7,352.4 1018.7,352.1 1019.7,350.5 1020.6,350.4 1021.6,350.8 1022.6,350.1 1023.6,351.3 1024.5,350.2 1025.5,350.6 1026.5,351.4 1027.4,350.8 1028.4,350.5 1029.4,351.0 1030.4,350.9 1031.3,342.7 1032.3,330.7 1033.3,332.0 1034.3,334.1 1035.2,331.8 1036.2,332.2 1037.2,332.6 1038.2,332.1 1039.1,332.5 1040.1,336.8 1041.1,341.0 1042.0,346.1 1043.0,350.4 1044.0,351.1 1045.0,353.0 1045.9,353.3 1046.9,353.2 1047.9,355.3 1048.9,355.8 1049.8,355.4 1050.8,355.7 1051.8,356.0 1052.8,355.5 1053.7,355.1 1054.7,356.0 1055.7,356.2 1056.6,355.7 1057.6,355.8 1058.6,355.9 1059.6,356.9 1060.5,355.3 1061.5,355.9 1062.5,355.8 1063.5,356.0 1064.4,356.1 1065.4,356.0 1066.4,356.8 1067.4,356.3 1068.3,355.4 1069.3,355.4 1070.3,355.2 1071.2,355.3 1072.2,355.6 1073.2,354.5 1074.2,355.7 1075.1,355.7 1076.1,355.1 1077.1,355.4 1078.1,356.5 1079.0,357.3 1080.0,355.7 1081.0,356.7 1082.0,356.5 1082.9,356.0 1083.9,356.0 1084.9,357.5 1085.8,358.5 1086.8,357.7 1087.8,357.7 1088.8,357.3 1089.7,356.9 1090.7,356.5 1091.7,357.4 1092.7,358.3 1093.6,356.8 1094.6,357.1 1095.6,357.6 1096.6,358.6 1097.5,357.3 1098.5,357.9 1099.5,358.0 1100.4,356.9 1101.4,356.4 1102.4,355.9 1103.4,357.0 1104.3,358.9 1105.3,358.6 1106.3,357.9 1107.3,357.8 1108.2,356.5 1109.2,356.1 1110.2,357.0 1111.2,356.3 1112.1,356.4 1113.1,356.7 1114.1,355.7 1115.0,344.6 1116.0,337.2 1117.0,336.5 1118.0,338.4 1118.9,338.2 1119.9,338.0 1120.9,338.7 1121.9,338.6 1122.8,338.8 1123.8,338.2 1124.8,336.0 1125.8,343.6 1126.7,345.9 1127.7,347.9 1128.7,350.6 1129.6,351.0 1130.6,350.5 1131.6,353.0 1132.6,353.6 1133.5,354.1 1134.5,353.6 1135.5,354.0 1136.5,355.0 1137.4,353.6 1138.4,354.0 1139.4,353.4 1140.4,351.9 1141.3,353.3 1142.3,353.9 1143.3,353.2 1144.2,353.6 1145.2,353.4 1146.2,353.6 1147.2,351.6 1148.1,352.1 1149.1,352.6 1150.1,353.0 1151.1,353.1 1152.0,354.7 1153.0,354.7 1154.0,353.8 1155.0,337.2 1155.9,335.6 1156.9,335.5 1157.9,335.8 1158.8,333.6 1159.8,335.9 1160.8,340.1 1161.8,346.1 1162.7,349.4 1163.7,351.9 1164.7,353.4 1165.7,354.2 1166.6,352.9 1167.6,353.1 1168.6,353.0 1169.6,353.2 1170.5,352.2 1171.5,354.3 1172.5,356.1 1173.4,356.0 1174.4,355.9 1175.4,356.0 1176.4,356.6 1177.3,355.9 1178.3,354.7 1179.3,355.2 1180.3,355.8 1181.2,355.1 1182.2,355.8 1183.2,356.3 1184.2,356.0 1185.1,357.9 1186.1,355.8 1187.1,356.1 1188.0,355.7 1189.0,355.7 1190.0,355.6 1191.0,341.8 1191.9,336.4 1192.9,336.4 1193.9,336.6 1194.9,334.5 1195.8,336.6 1196.8,336.4 1197.8,333.2 1198.8,336.6 1199.7,340.3 1200.7,345.6 1201.7,347.8 1202.6,349.4 1203.6,350.3 1204.6,351.8 1205.6,350.9 1206.5,351.3 1207.5,352.7 1208.5,353.6 1209.5,352.9 1210.4,353.7 1211.4,352.9 1212.4,352.5 1213.4,353.0 1214.3,354.3 1215.3,354.6 1216.3,353.5 1217.2,353.5 1218.2,351.7 1219.2,352.4 1220.2,352.2 1221.1,351.8 1222.1,352.0 1223.1,352.0 1224.1,351.4 1225.0,352.0 1226.0,352.0 1227.0,352.5 1228.0,345.9 1228.9,332.6 1229.9,332.4 1230.9,335.2 1231.8,343.6 1232.8,350.1 1233.8,353.6 1234.8,356.4 1235.7,358.7 1236.7,359.6 1237.7,359.4 1238.7,359.1 1239.6,360.3 1240.6,359.7 1241.6,360.7 1242.6,360.4 1243.5,361.3 1244.5,360.4 1245.5,358.9 1246.4,360.0 1247.4,359.5 1248.4,361.3 1249.4,361.7 1250.3,359.4 1251.3,360.1 1252.3,360.1 1253.3,361.8 1254.2,361.5 1255.2,362.0 1256.2,360.7 1257.2,361.3 1258.1,359.2 1259.1,360.8 1260.1,360.7 1261.0,362.4 1262.0,344.6 1263.0,342.0 1264.0,342.2 1264.9,343.2 1265.9,338.2 1266.9,343.6 1267.9,347.7 1268.8,350.0 1269.8,353.4 1270.8,353.1 1271.8,353.9 1272.7,356.6 1273.7,355.2 1274.7,356.1 1275.6,356.0 1276.6,357.8 1277.6,357.9 1278.6,358.9 1279.5,357.4 1280.5,357.4 1281.5,357.9 1282.5,357.8 1283.4,356.5 1284.4,357.3 1285.4,356.6 1286.4,357.6 1287.3,358.6 1288.3,358.3 1289.3,357.9 1290.2,357.4 1291.2,356.4 1292.2,356.9 1293.2,357.2 1294.1,356.5 1295.1,356.3 1296.1,339.0 1297.1,337.6 1298.0,339.5 1299.0,339.3 1300.0,340.0 1301.0,339.5 1301.9,338.2 1302.9,339.4 1303.9,338.1 1304.8,338.5 1305.8,342.2 1306.8,346.2 1307.8,350.3 1308.7,354.2 1309.7,357.9 1310.7,358.4 1311.7,359.2 1312.6,359.1 1313.6,359.1 1314.6,360.6 1315.6,360.4 1316.5,360.3 1317.5,360.5 1318.5,360.4 1319.4,360.2 1320.4,360.8 1321.4,360.8 1322.4,359.9 1323.3,361.0 1324.3,360.9 1325.3,361.6 1326.3,362.0 1327.2,361.7 1328.2,361.1 1329.2,359.7 1330.2,360.2 1331.1,359.6 1332.1,359.6 1333.1,359.9 1334.0,362.6 1335.0,361.7 1336.0,361.2 1337.0,359.2 1337.9,342.3 1338.9,340.9 1339.9,342.1 1340.9,338.1 1341.8,342.6 1342.8,348.5 1343.8,351.8 1344.8,352.9 1345.7,353.3 1346.7,353.3 1347.7,353.8 1348.6,352.9 1349.6,353.9 1350.6,355.8 1351.6,356.1 1352.5,355.7 1353.5,355.6 1354.5,357.4 1355.5,356.6 1356.4,357.1 1357.4,356.9 1358.4,355.5 1359.4,356.0 1360.3,356.6 1361.3,356.6 1362.3,357.0 1363.2,355.1 1364.2,354.9 1365.2,354.8 1366.2,355.9 1367.1,356.6 1368.1,356.2 1369.1,358.0 1370.1,356.5 1371.0,354.9 1372.0,338.0 1373.0,337.5 1374.0,338.1 1374.9,337.6 1375.9,337.0 1376.9,335.7 1377.8,346.9 1378.8,351.4 1379.8,355.5 1380.8,358.8 1381.7,360.1 1382.7,362.0 1383.7,362.8 1384.7,362.9 1385.6,362.6 1386.6,363.1 1387.6,364.8 1388.6,363.7 1389.5,363.9 1390.5,364.4 1391.5,365.1 1392.4,364.4 1393.4,364.2 1394.4,363.8 1395.4,364.2 1396.3,363.2 1397.3,363.9 1398.3,363.9 1399.3,364.0 1400.2,363.4 1401.2,364.4 1402.2,364.7 1403.2,364.8 1404.1,365.2 1405.1,365.5 1406.1,366.0 1407.0,364.9 1408.0,363.6 1409.0,364.7 1410.0,364.1 1410.9,365.2 1411.9,365.6 1412.9,365.4 1413.9,365.0 1414.8,364.5 1415.8,366.0 1416.8,366.4 1417.8,365.6 1418.7,365.4 1419.7,363.4 1420.7,364.1 1421.6,364.8 1422.6,363.8 1423.6,366.2 1424.6,367.0 1425.5,363.9 1426.5,364.7 1427.5,364.6 1428.5,364.7 1429.4,365.3 1430.4,365.1 1431.4,365.9 1432.4,364.6 1433.3,364.0 1434.3,363.7 1435.3,364.8 1436.2,366.2 1437.2,360.9 1438.2,347.4 1439.2,346.4 1440.1,347.4 1441.1,347.4 1442.1,346.7 1443.1,345.9 1444.0,345.8 1445.0,346.7 1446.0,342.9 1447.0,347.1 1447.9,350.9 1448.9,354.8 1449.9,355.2 1450.8,357.2 1451.8,358.4 1452.8,359.8 1453.8,358.8 1454.7,359.4 1455.7,359.9 1456.7,360.9 1457.7,361.7 1458.6,361.1 1459.6,360.9 1460.6,359.6 1461.6,360.7 1462.5,360.9 1463.5,360.0 1464.5,359.6 1465.4,360.5 1466.4,359.4 1467.4,359.5 1468.4,359.2 1469.3,359.5 1470.3,359.2 1471.3,360.1 1472.3,360.4 1473.2,359.6 1474.2,359.7 1475.2,359.8 1476.2,359.2 1477.1,349.5 1478.1,340.8 1479.1,342.9 1480.0,346.8 1481.0,347.8 1482.0,354.0 1483.0,357.7 1483.9,359.7 1484.9,361.4 1485.9,361.8 1486.9,362.4 1487.8,363.3 1488.8,362.9 1489.8,363.8 1490.8,364.6 1491.7,364.3 1492.7,363.9 1493.7,364.3 1494.6,365.2 1495.6,365.4 1496.6,364.9 1497.6,364.2 1498.5,363.0 1499.5,363.7 1500.5,364.2 1501.5,366.0 1502.4,364.5 1503.4,363.8 1504.4,364.1 1505.4,364.8 1506.3,366.8 1507.3,365.3 1508.3,365.6 1509.2,364.0 1510.2,363.7 1511.2,353.0 1512.2,344.9 1513.1,344.3 1514.1,340.8 1515.1,345.8 1516.1,350.4 1517.0,354.3 1518.0,356.3 1519.0,358.0 1520.0,358.2 1520.9,359.1 1521.9,360.2 1522.9,360.1 1523.8,360.0 1524.8,359.6 1525.8,359.0 1526.8,358.2 1527.7,358.3 1528.7,357.5 1529.7,360.2 1530.7,359.9 1531.6,359.0 1532.6,360.2 1533.6,360.0 1534.6,359.6 1535.5,360.8 1536.5,360.7 1537.5,359.7 1538.4,359.8 1539.4,358.5 1540.4,357.0 1541.4,358.1 1542.3,359.5 1543.3,359.5 1544.3,359.9 1545.3,360.8 1546.2,360.6 1547.2,360.5 1548.2,360.3 1549.2,359.3 1550.1,358.5 1551.1,358.6 1552.1,359.2 1553.0,359.0 1554.0,359.1 1555.0,359.1 1556.0,360.0 1556.9,362.1 1557.9,360.4 1558.9,360.5 1559.9,360.4 1560.8,360.0 1561.8,359.8 1562.8,359.9 1563.8,358.5 1564.7,358.8 1565.7,358.9 1566.7,359.8 1567.6,359.7 1568.6,359.2 1569.6,359.4 1570.6,359.2 1571.5,360.0 1572.5,359.5 1573.5,360.2 1574.5,360.3 1575.4,360.5 1576.4,359.9 1577.4,346.3 1578.4,340.0 1579.3,340.9 1580.3,340.7 1581.3,339.8 1582.2,339.6 1583.2,339.6 1584.2,340.9 1585.2,356.9 1586.1,361.6 1587.1,364.6 1588.1,366.0 1589.1,367.2 1590.0,368.3 1591.0,368.3 1592.0,369.3 1593.0,364.6 1593.9,350.7 1594.9,351.8 1595.9,352.1 1596.8,350.4 1597.8,356.7 1598.8,360.2 1599.8,362.6 1600.7,363.9 1601.7,364.8 1602.7,366.5 1603.7,365.3 1604.6,365.0 1605.6,366.9 1606.6,367.6 1607.6,367.9 1608.5,367.5 1609.5,367.0 1610.5,367.2 1611.4,369.2 1612.4,366.3 1613.4,366.1 1614.4,350.9 1615.3,348.3 1616.3,348.3 1617.3,347.7 1618.3,348.4 1619.2,368.5 1620.2,369.2 1621.2,368.6 1622.2,369.6 1623.1,369.2 1624.1,371.5 1625.1,370.7 1626.0,371.1 1627.0,372.2 1628.0,371.8 1629.0,375.4 1629.9,383.5 1630.9,379.3 1631.9,376.1 1632.9,364.2 1633.8,364.3 1634.8,354.7 1635.8,364.5 1636.8,374.8 1637.7,377.7 1638.7,382.6 1639.7,395.3 1640.6,390.5 1641.6,398.6 1642.6,395.1 1643.6,392.7 1644.5,393.5 1645.5,398.1 1646.5,390.4 1647.5,386.6 1648.4,372.0 1649.4,369.4 1650.4,364.8 1651.4,374.2 1651.9,561.6" stroke="#0f0"/>
<polyline points="255.0,603.9 257.8,604.8 454.6,604.8 461.5,603.9 572.8,603.9 576.2,603.3 638.8,603.0 645.8,605.0 843.9,605.0 846.0,607.9 848.1,603.3 930.5,604.8 931.2,563.3 937.8,563.3 938.5,500.5 1035.1,499.3 1042.0,500.5 1622.6,500.5 1652.5,500.5" stroke="#0f0" stroke-dasharray="10 4.5"/>
<polyline points="248.4,397.7 249.1,436.5 249.8,475.4 250.5,501.9 251.2,516.2 251.9,530.5 252.6,544.8 253.3,552.3 254.0,553.1 254.7,553.9 255.4,554.7 256.1,555.6 256.8,556.4 257.5,557.2 258.2,395.2 258.9,394.6 259.6,394.8 260.3,395.4 260.9,557.2 261.6,557.8 262.3,555.7 263.0,555.3 263.7,553.9 264.4,554.4 265.1,554.8 265.8,555.9 266.5,556.2 267.2,557.7 267.9,556.1 268.6,682.5 269.3,706.9 270.0,706.3 270.7,708.3 271.4,710.9 272.1,709.4 272.8,708.9 273.5,709.9 274.2,710.3 274.9,709.0 275.5,707.2 276.2,707.5 276.9,708.7 277.6,708.0 278.3,707.3 279.0,709.1 279.7,682.8 280.4,558.0 281.1,557.1 281.8,555.0 282.5,555.3 283.2,560.6 283.9,557.5 284.6,561.7 285.3,557.1 286.0,563.1 286.7,562.0 287.4,561.2 288.1,561.5 288.8,558.6 289.5,556.7 290.1,550.3 290.8,551.1 291.5,549.4 292.2,555.9 292.9,552.4 293.6,550.9 294.3,548.3 295.0,546.7 295.7,553.4 296.4,558.9 297.1,560.4 297.8,560.8 298.5,554.2 299.2,561.7 299.9,559.3 300.6,554.6 301.3,555.7 302.0,560.7 302.7,561.9 303.4,557.7 304.1,554.6 304.7,555.7 305.4,554.7 306.1,550.6 306.8,448.0 307.5,392.5 308.2,394.4 308.9,392.7 309.6,395.0 310.3,393.6 311.0,528.5 311.7,557.2 312.4,556.7 313.1,555.9 313.8,555.5 314.5,555.6 315.2,556.0 315.9,556.4 316.6,556.2 317.3,555.0 318.0,555.0 318.7,554.8 319.3,555.2 320.0,554.2 320.7,552.7 321.4,551.9 322.1,554.8 322.8,556.2 323.5,557.2 324.2,557.1 324.9,554.8 325.6,555.7 326.3,555.8 327.0,556.2 327.7,558.0 328.4,558.4 329.1,558.2 329.8,558.2 330.5,557.8 331.2,557.6 331.9,557.2 332.6,558.4 333.3,556.5 333.9,555.9 334.6,556.7 335.3,557.0 336.0,557.5 336.7,558.9 337.4,557.1 338.1,557.2 338.8,555.7 339.5,554.5 340.2,556.5 340.9,557.5 341.6,556.4 342.3,556.9 343.0,557.3 343.7,557.2 344.4,556.4 345.1,557.6 345.8,557.0 346.5,555.6 347.2,556.4 347.9,556.7 348.5,556.0 349.2,555.1 349.9,554.6 350.6,682.1 351.3,706.5 352.0,708.1 352.7,706.8 353.4,707.1 354.1,708.1 354.8,709.9 355.5,682.5 356.2,555.3 356.9,555.1 357.6,554.0 358.3,555.2 359.0,554.8 359.7,554.5 360.4,553.5 361.1,554.3 361.8,553.2 362.5,554.9 363.1,555.5 363.8,556.4 364.5,557.2 365.2,555.1 365.9,555.3 366.6,555.6 367.3,555.7 368.0,555.7 368.7,557.4 369.4,557.3 370.1,556.5 370.8,557.6 371.5,557.2 372.2,557.2 372.9,557.8 373.6,558.5 374.3,558.1 375.0,557.1 375.7,556.2 376.4,557.7 377.1,557.0 377.7,556.1 378.4,557.8 379.1,558.5 379.8,557.0 380.5,556.0 381.2,555.5 381.9,554.2 382.6,554.3 383.3,553.7 384.0,554.7 384.7,555.3 385.4,556.5 386.1,556.3 386.8,556.6 387.5,557.0 388.2,556.1 388.9,555.7 389.6,556.3 390.3,556.1 391.0,555.8 391.7,555.5 392.3,556.4 393.0,555.7 393.7,556.3 394.4,556.0 395.1,556.6 395.8,554.4 396.5,556.5 397.2,555.4 397.9,556.7 398.6,554.9 399.3,556.6 400.0,555.7 400.7,556.1 401.4,555.2 402.1,556.9 402.8,556.9 403.5,556.2 404.2,555.3 404.9,556.3 405.6,558.1 406.3,557.7 406.9,557.8 407.6,557.1 408.3,557.1 409.0,557.8 409.7,557.3 410.4,555.5 411.1,555.2 411.8,556.0 412.5,555.5 413.2,557.2 413.9,557.4 414.6,557.0 415.3,557.0 416.0,684.6 416.7,709.6 417.4,707.6 418.1,708.2 418.8,708.1 419.5,706.8 420.2,557.3 420.9,557.2 421.5,555.9 422.2,557.5 422.9,557.4 423.6,555.6 424.3,555.7 425.0,555.7 425.7,553.8 426.4,556.6 427.1,555.3 427.8,556.9 428.5,556.2 429.2,555.6 429.9,555.7 430.6,556.1 431.3,555.3 432.0,555.2 432.7,554.7 433.4,554.3 434.1,554.4 434.8,553.4 435.5,554.9 436.1,557.3 436.8,558.6 437.5,557.8 438.2,558.4 438.9,557.9 439.6,557.1 440.3,555.2 441.0,556.8 441.7,556.1 442.4,557.4 443.1,556.0 443.8,558.2 444.5,555.9 445.2,556.3 445.9,554.0 446.6,554.7 447.3,556.2 448.0,556.6 448.7,684.4 449.4,709.2 450.1,707.8 450.7,708.0 451.4,708.7 452.1,709.0 452.8,707.3 453.5,683.4 454.2,555.4 454.9,556.5 455.6,557.2 456.3,556.1 457.0,557.7 457.7,555.4 458.4,554.0 459.1,555.8 459.8,557.0 460.5,556.8 461.2,556.9 461.9,557.3 462.6,555.8 463.3,553.5 464.0,554.7 464.7,554.5 465.3,555.6 466.0,555.8 466.7,556.5 467.4,556.4 468.1,556.2 468.8,556.5 469.5,556.1 470.2,556.8 470.9,556.2 471.6,557.8 472.3,556.6 473.0,556.6 473.7,555.9 474.4,556.1 475.1,556.2 475.8,556.1 476.5,556.5 477.2,556.4 477.9,558.3 478.6,558.2 479.3,557.1 479.9,558.0 480.6,555.0 481.3,554.0 482.0,556.4 482.7,681.9 483.4,707.5 484.1,707.5 484.8,706.6 485.5,708.0 486.2,708.0 486.9,682.0 487.6,556.0 488.3,556.2 489.0,556.1 489.7,555.8 490.4,556.9 491.1,556.7 491.8,557.1 492.5,555.9 493.2,556.5 493.9,555.6 494.5,555.8 495.2,556.5 495.9,555.5 496.6,555.2 497.3,555.9 498.0,555.0 498.7,554.1 499.4,556.6 500.1,555.6 500.8,557.7 501.5,557.0 502.2,555.8 502.9,555.4 503.6,555.2 504.3,555.6 505.0,555.2 505.7,556.7 506.4,554.6 507.1,557.2 507.8,557.0 508.5,558.1 509.1,557.6 509.8,557.6 510.5,558.1 511.2,556.2 511.9,556.8 512.6,557.2 513.3,556.8 514.0,555.8 514.7,555.4 515.4,556.1 516.1,555.9 516.8,555.8 517.5,556.0 518.2,556.7 518.9,556.3 519.6,557.7 520.3,556.1 521.0,555.2 521.7,555.8 522.4,556.4 523.1,558.2 523.7,557.6 524.4,556.1 525.1,557.7 525.8,556.4 526.5,557.0 527.2,554.8 527.9,554.8 528.6,554.1 529.3,555.1 530.0,555.7 530.7,556.7 531.4,555.0 532.1,555.7 532.8,555.7 533.5,557.0 534.2,556.5 534.9,557.3 535.6,556.7 536.3,555.2 537.0,556.1 537.7,557.1 538.3,556.4 539.0,556.2 539.7,556.9 540.4,558.1 541.1,557.2 541.8,556.3 542.5,556.0 543.2,554.8 543.9,554.9 544.6,555.0 545.3,556.7 546.0,556.7 546.7,556.6 547.4,557.1 548.1,556.0 548.8,556.4 549.5,555.7 550.2,556.4 550.9,555.8 551.6,554.9 552.3,554.9 552.9,554.4 553.6,555.0 554.3,556.8 555.0,555.6 555.7,556.1 556.4,557.1 557.1,555.3 557.8,555.6 558.5,556.0 559.2,557.4 559.9,555.8 560.6,556.0 561.3,557.0 562.0,556.0 562.7,555.0 563.4,554.7 564.1,554.4 564.8,554.1 565.5,556.0 566.2,557.0 566.9,556.1 567.5,554.8 568.2,552.8 568.9,555.1 569.6,555.5 570.3,556.3 571.0,556.2 571.7,556.7 572.4,556.3 573.1,556.3 573.8,555.3 574.5,555.6 575.2,553.8 575.9,681.0 576.6,706.8 577.3,708.0 578.0,707.8 578.7,708.9 579.4,708.7 580.1,683.8 580.8,555.4 581.5,556.1 582.1,556.0 582.8,555.1 583.5,555.3 584.2,555.6 584.9,557.1 585.6,556.5 586.3,555.3 587.0,555.7 587.7,556.2 588.4,555.6 589.1,553.8 589.8,554.5 590.5,555.4 591.2,556.4 591.9,556.2 592.6,557.6 593.3,557.7 594.0,557.8 594.7,555.7 595.4,557.4 596.1,556.9 596.7,557.2 597.4,558.0 598.1,556.9 598.8,555.5 599.5,556.1 600.2,556.5 600.9,556.3 601.6,555.6 602.3,555.5 603.0,556.1 603.7,556.7 604.4,556.4 605.1,557.6 605.8,557.3 606.5,555.8 607.2,555.8 607.9,556.2 608.6,557.2 609.3,557.9 610.0,556.4 610.7,556.5 611.3,557.4 612.0,558.2 612.7,557.9 613.4,555.7 614.1,555.9 614.8,558.3 615.5,557.8 616.2,556.9 616.9,558.0 617.6,557.4 618.3,555.6 619.0,556.6 619.7,558.2 620.4,557.9 621.1,556.5 621.8,557.4 622.5,556.9 623.2,556.5 623.9,556.5 624.6,556.4 625.3,558.0 625.9,555.0 626.6,555.6 627.3,554.4 628.0,555.2 628.7,556.4 629.4,557.8 630.1,558.3 630.8,557.6 631.5,557.8 632.2,555.8 632.9,556.0 633.6,556.0 634.3,554.4 635.0,554.7 635.7,557.1 636.4,555.9 637.1,557.4 637.8,558.1 638.5,556.4 639.2,683.4 639.9,710.6 640.5,709.4 641.2,706.6 641.9,709.3 642.6,710.1 643.3,711.2 644.0,710.5 644.7,685.0 645.4,557.5 646.1,558.7 646.8,557.6 647.5,557.4 648.2,554.9 648.9,555.6 649.6,557.4 650.3,558.3 651.0,557.7 651.7,557.7 652.4,557.8 653.1,556.0 653.8,556.0 654.5,556.5 655.1,557.5 655.8,557.9 656.5,556.5 657.2,555.3 657.9,554.9 658.6,554.9 659.3,555.2 660.0,553.6 660.7,553.6 661.4,553.5 662.1,555.3 662.8,555.1 663.5,555.7 664.2,556.5 664.9,557.2 665.6,555.9 666.3,555.2 667.0,555.0 667.7,555.0 668.4,555.1 669.1,555.0 669.7,554.6 670.4,555.9 671.1,556.5 671.8,556.5 672.5,556.1 673.2,555.8 673.9,556.3 674.6,557.4 675.3,557.0 676.0,557.9 676.7,557.2 677.4,555.9 678.1,557.4 678.8,555.3 679.5,556.2 680.2,557.8 680.9,558.4 681.6,559.5 682.3,558.2 683.0,557.4 683.7,556.7 684.3,556.4 685.0,555.8 685.7,556.3 686.4,557.4 687.1,556.7 687.8,556.3 688.5,555.5 689.2,555.4 689.9,556.1 690.6,555.6 691.3,556.7 692.0,556.8 692.7,557.4 693.4,557.5 694.1,558.3 694.8,558.1 695.5,557.0 696.2,558.0 696.9,556.6 697.6,555.8 698.3,555.9 698.9,556.9 699.6,555.4 700.3,556.4 701.0,556.3 701.7,555.4 702.4,556.5 703.1,555.7 703.8,556.5 704.5,555.2 705.2,556.0 705.9,556.3 706.6,555.8 707.3,555.8 708.0,556.5 708.7,555.6 709.4,557.4 710.1,555.9 710.8,554.9 711.5,555.5 712.2,556.2 712.9,556.0 713.5,558.3 714.2,558.0 714.9,556.3 715.6,556.8 716.3,556.2 717.0,555.5 717.7,554.6 718.4,554.8 719.1,555.4 719.8,554.6 720.5,555.1 721.2,555.7 721.9,554.1 722.6,555.0 723.3,555.3 724.0,556.0 724.7,555.2 725.4,556.4 726.1,555.9 726.8,556.5 727.5,554.1 728.1,554.3 728.8,555.0 729.5,555.2 730.2,556.1 730.9,555.9 731.6,555.1 732.3,556.7 733.0,557.8 733.7,557.0 734.4,557.2 735.1,556.3 735.8,556.5 736.5,555.7 737.2,557.6 737.9,556.4 738.6,555.7 739.3,555.6 740.0,554.9 740.7,555.1 741.4,557.1 742.1,556.7 742.7,556.7 743.4,557.0 744.1,554.7 744.8,555.4 745.5,557.3 746.2,556.6 746.9,555.9 747.6,557.3 748.3,556.8 749.0,555.2 749.7,554.3 750.4,556.9 751.1,557.5 751.8,556.2 752.5,556.7 753.2,556.8 753.9,554.8 754.6,556.6 755.3,556.4 756.0,556.8 756.7,559.0 757.3,558.9 758.0,557.9 758.7,557.0 759.4,556.9 760.1,557.2 760.8,556.6 761.5,557.7 762.2,558.2 762.9,557.9 763.6,557.0 764.3,555.2 765.0,554.2 765.7,556.9 766.4,557.7 767.1,557.2 767.8,556.0 768.5,555.5 769.2,554.6 769.9,556.9 770.6,557.3 771.3,557.5 771.9,557.4 772.6,555.6 773.3,554.9 774.0,554.6 774.7,555.5 775.4,556.2 776.1,555.2 776.8,556.6 777.5,555.4 778.2,556.7 778.9,556.4 779.6,556.8 780.3,556.1 781.0,554.2 781.7,556.0 782.4,555.8 783.1,555.1 783.8,555.7 784.5,556.7 785.2,557.6 785.9,556.6 786.5,556.6 787.2,555.5 787.9,556.2 788.6,558.3 789.3,555.7 790.0,555.2 790.7,554.4 791.4,554.4 792.1,681.4 792.8,707.3 793.5,707.7 794.2,706.6 794.9,706.4 795.6,707.3 796.3,706.9 797.0,682.5 797.7,556.8 798.4,556.1 799.1,555.7 799.8,557.3 800.5,557.4 801.1,556.6 801.8,556.2 802.5,557.2 803.2,556.0 803.9,556.3 804.6,556.6 805.3,555.5 806.0,554.2 806.7,555.1 807.4,555.9 808.1,554.7 808.8,555.1 809.5,555.8 810.2,556.0 810.9,557.1 811.6,555.6 812.3,556.9 813.0,556.8 813.7,556.3 814.4,557.0 815.1,556.2 815.7,555.8 816.4,554.6 817.1,554.6 817.8,556.0 818.5,555.2 819.2,682.1 819.9,708.3 820.6,708.3 821.3,707.8 822.0,682.3 822.7,555.0 823.4,555.4 824.1,554.6 824.8,555.6 825.5,555.7 826.2,555.7 826.9,556.1 827.6,555.3 828.3,555.1 829.0,555.7 829.7,555.0 830.3,556.0 831.0,555.6 831.7,557.0 832.4,554.4 833.1,555.7 833.8,556.5 834.5,556.9 835.2,556.8 835.9,556.0 836.6,555.9 837.3,554.8 838.0,556.3 838.7,555.7 839.4,554.5 840.1,555.6 840.8,554.4 841.5,555.7 842.2,555.9 842.9,555.7 843.6,529.2 844.3,395.3 844.9,395.3 845.6,395.4 846.3,396.2 847.0,396.2 847.7,397.2 848.4,395.9 849.1,395.6 849.8,557.3 850.5,557.8 851.2,557.1 851.9,557.2 852.6,556.4 853.3,556.1 854.0,554.9 854.7,554.5 855.4,554.8 856.1,556.4 856.8,556.3 857.5,556.8 858.2,558.1 858.9,557.9 859.5,557.3 860.2,555.9 860.9,554.1 861.6,556.0 862.3,555.8 863.0,555.7 863.7,554.6 864.4,556.1 865.1,555.3 865.8,557.6 866.5,557.7 867.2,556.7 867.9,558.5 868.6,557.3 869.3,557.1 870.0,557.3 870.7,557.3 871.4,557.5 872.1,556.0 872.8,557.3 873.5,557.0 874.1,557.1 874.8,556.5 875.5,556.1 876.2,556.2 876.9,553.6 877.6,555.5 878.3,556.1 879.0,556.7 879.7,556.7 880.4,557.3 881.1,558.0 881.8,555.9 882.5,556.0 883.2,556.3 883.9,555.4 884.6,556.0 885.3,556.4 886.0,555.4 886.7,555.5 887.4,554.8 888.1,554.0 888.7,557.0 889.4,555.9 890.1,557.1 890.8,557.7 891.5,556.6 892.2,556.0 892.9,555.5 893.6,554.3 894.3,554.6 895.0,707.5 895.7,707.7 896.4,709.7 897.1,708.7 897.8,707.4 898.5,554.6 899.2,555.5 899.9,554.9 900.6,558.0 901.3,556.4 902.0,555.6 902.7,555.9 903.3,556.6 904.0,556.9 904.7,557.4 905.4,555.4 906.1,556.4 906.8,557.2 907.5,557.1 908.2,555.9 908.9,557.7 909.6,556.7 910.3,556.6 911.0,555.3 911.7,555.5 912.4,556.1 913.1,555.9 913.8,554.5 914.5,553.2 915.2,553.4 915.9,555.7 916.6,555.4 917.3,554.9 917.9,554.8 918.6,556.9 919.3,556.3 920.0,556.7 920.7,556.8 921.4,555.9 922.1,555.7 922.8,556.3 923.5,556.5 924.2,555.9 924.9,555.3 925.6,555.5 926.3,554.5 927.0,555.1 927.7,554.9 928.4,555.4 929.1,557.0 929.8,556.7 930.5,557.0 931.2,557.3 931.9,556.8 932.5,555.4 933.2,553.3 933.9,550.9 934.6,552.0 935.3,551.1 936.0,548.2 936.7,546.2 937.4,542.7 938.1,543.4 938.8,542.6 939.5,546.2 940.2,548.2 940.9,547.4 941.6,548.0 942.3,547.9 943.0,549.9 943.7,545.1 944.4,540.9 945.1,540.2 945.8,541.9 946.5,542.4 947.1,540.3 947.8,543.9 948.5,544.2 949.2,539.5 949.9,542.5 950.6,539.7 951.3,539.2 952.0,540.2 952.7,537.5 953.4,535.6 954.1,535.9 954.8,533.4 955.5,398.9 956.2,394.7 956.9,395.9 957.6,396.2 958.3,395.0 959.0,394.1 959.7,394.4 960.4,533.2 961.1,534.6 961.7,534.4 962.4,533.6 963.1,533.8 963.8,532.4 964.5,533.7 965.2,531.3 965.9,531.0 966.6,533.9 967.3,536.0 968.0,534.4 968.7,532.5 969.4,532.5 970.1,535.1 970.8,535.0 971.5,534.9 972.2,531.5 972.9,533.4 973.6,532.2 974.3,531.6 975.0,531.3 975.7,530.5 976.3,531.8 977.0,531.7 977.7,529.0 978.4,532.0 979.1,532.5 979.8,533.5 980.5,399.6 981.2,400.4 981.9,399.2 982.6,395.7 983.3,396.5 984.0,393.1 984.7,397.0 985.4,397.5 986.1,397.0 986.8,396.2 987.5,538.4 988.2,534.6 988.9,536.7 989.6,532.5 990.3,534.9 990.9,533.3 991.6,531.4 992.3,533.2 993.0,536.7 993.7,537.4 994.4,534.1 995.1,532.7 995.8,533.3 996.5,533.5 997.2,532.7 997.9,531.8 998.6,531.8 999.3,532.5 1000.0,532.8 1000.7,535.4 1001.4,536.7 1002.1,536.0 1002.8,534.9 1003.5,533.7 1004.2,535.0 1004.9,537.2 1005.5,534.0 1006.2,532.9 1006.9,531.7 1007.6,534.2 1008.3,532.7 1009.0,534.4 1009.7,534.1 1010.4,532.5 1011.1,534.0 1011.8,533.5 1012.5,532.4 1013.2,535.9 1013.9,537.3 1014.6,536.4 1015.3,535.0 1016.0,537.7 1016.7,535.8 1017.4,532.0 1018.1,532.4 1018.8,535.0 1019.5,534.8 1020.1,536.5 1020.8,537.4 1021.5,538.3 1022.2,539.6 1022.9,538.6 1023.6,537.9 1024.3,537.9 1025.0,535.7 1025.7,535.1 1026.4,533.7 1027.1,536.6 1027.8,533.3 1028.5,532.0 1029.2,534.6 1029.9,534.9 1030.6,400.3 1031.3,400.1 1032.0,398.4 1032.7,397.0 1033.4,399.1 1034.1,398.3 1034.7,397.7 1035.4,397.3 1036.1,399.3 1036.8,400.1 1037.5,398.4 1038.2,396.0 1038.9,397.2 1039.6,396.6 1040.3,393.5 1041.0,392.8 1041.7,534.9 1042.4,534.3 1043.1,535.8 1043.8,535.7 1044.5,536.1 1045.2,540.8 1045.9,537.0 1046.6,537.7 1047.3,537.5 1048.0,537.1 1048.7,534.9 1049.3,536.8 1050.0,538.9 1050.7,536.4 1051.4,534.9 1052.1,535.8 1052.8,534.6 1053.5,532.1 1054.2,533.8 1054.9,534.6 1055.6,534.9 1056.3,533.0 1057.0,535.4 1057.7,534.3 1058.4,535.5 1059.1,536.1 1059.8,534.3 1060.5,536.0 1061.2,534.8 1061.9,532.0 1062.6,533.5 1063.3,532.7 1063.9,533.1 1064.6,532.9 1065.3,532.5 1066.0,535.7 1066.7,534.9 1067.4,534.1 1068.1,536.0 1068.8,535.1 1069.5,535.9 1070.2,536.1 1070.9,535.1 1071.6,534.0 1072.3,537.0 1073.0,537.4 1073.7,537.2 1074.4,536.7 1075.1,535.8 1075.8,536.4 1076.5,536.8 1077.2,536.1 1077.9,534.6 1078.5,534.6 1079.2,536.2 1079.9,534.1 1080.6,535.4 1081.3,534.7 1082.0,534.3 1082.7,533.0 1083.4,534.1 1084.1,535.3 1084.8,535.7 1085.5,535.3 1086.2,536.8 1086.9,535.5 1087.6,535.5 1088.3,535.8 1089.0,535.1 1089.7,536.1 1090.4,533.9 1091.1,533.2 1091.8,530.1 1092.5,534.0 1093.1,536.1 1093.8,537.3 1094.5,537.9 1095.2,537.7 1095.9,537.9 1096.6,537.6 1097.3,536.0 1098.0,537.7 1098.7,537.6 1099.4,535.9 1100.1,538.0 1100.8,536.2 1101.5,537.2 1102.2,536.1 1102.9,536.6 1103.6,538.4 1104.3,537.2 1105.0,535.5 1105.7,535.5 1106.4,537.5 1107.1,535.3 1107.7,539.3 1108.4,535.7 1109.1,537.5 1109.8,539.2 1110.5,536.1 1111.2,536.2 1111.9,536.7 1112.6,536.9 1113.3,537.6 1114.0,400.4 1114.7,400.6 1115.4,398.0 1116.1,396.9 1116.8,395.0 1117.5,396.1 1118.2,393.4 1118.9,393.2 1119.6,394.3 1120.3,394.9 1121.0,394.3 1121.7,393.7 1122.3,393.8 1123.0,393.7 1123.7,391.4 1124.4,392.4 1125.1,394.3 1125.8,537.8 1126.5,536.4 1127.2,534.9 1127.9,531.8 1128.6,532.6 1129.3,532.8 1130.0,532.3 1130.7,533.5 1131.4,535.3 1132.1,535.6 1132.8,537.1 1133.5,538.1 1134.2,537.9 1134.9,539.1 1135.6,539.0 1136.3,535.9 1136.9,539.2 1137.6,538.0 1138.3,534.5 1139.0,536.4 1139.7,537.1 1140.4,537.9 1141.1,534.7 1141.8,533.9 1142.5,531.9 1143.2,533.3 1143.9,534.0 1144.6,533.9 1145.3,535.3 1146.0,536.6 1146.7,537.8 1147.4,536.2 1148.1,535.5 1148.8,535.8 1149.5,536.0 1150.2,534.1 1150.9,535.6 1151.5,536.6 1152.2,535.5 1152.9,536.0 1153.6,398.1 1154.3,396.8 1155.0,395.8 1155.7,395.1 1156.4,394.4 1157.1,394.5 1157.8,394.3 1158.5,395.1 1159.2,396.0 1159.9,395.7 1160.6,394.5 1161.3,538.2 1162.0,536.3 1162.7,536.8 1163.4,535.8 1164.1,536.5 1164.8,536.6 1165.5,533.7 1166.1,537.0 1166.8,536.0 1167.5,535.0 1168.2,537.7 1168.9,537.7 1169.6,540.1 1170.3,537.7 1171.0,537.3 1171.7,534.8 1172.4,537.0 1173.1,534.3 1173.8,533.5 1174.5,534.9 1175.2,537.2 1175.9,538.2 1176.6,536.8 1177.3,536.4 1178.0,537.7 1178.7,539.2 1179.4,537.3 1180.1,539.0 1180.7,538.3 1181.4,536.5 1182.1,535.0 1182.8,536.5 1183.5,532.9 1184.2,533.6 1184.9,531.0 1185.6,534.0 1186.3,535.0 1187.0,537.0 1187.7,536.3 1188.4,536.2 1189.1,534.6 1189.8,399.7 1190.5,399.7 1191.2,399.7 1191.9,399.0 1192.6,397.0 1193.3,397.9 1194.0,394.7 1194.7,394.7 1195.3,392.0 1196.0,393.5 1196.7,393.3 1197.4,395.7 1198.1,394.2 1198.8,392.9 1199.5,535.5 1200.2,538.5 1200.9,539.1 1201.6,538.8 1202.3,540.8 1203.0,541.5 1203.7,538.8 1204.4,537.3 1205.1,538.4 1205.8,538.4 1206.5,538.0 1207.2,538.7 1207.9,537.4 1208.6,536.6 1209.3,535.3 1209.9,535.8 1210.6,540.1 1211.3,539.5 1212.0,541.9 1212.7,539.6 1213.4,537.4 1214.1,536.6 1214.8,535.7 1215.5,536.9 1216.2,536.4 1216.9,536.7 1217.6,537.9 1218.3,539.7 1219.0,540.6 1219.7,541.4 1220.4,538.0 1221.1,540.0 1221.8,538.9 1222.5,539.5 1223.2,540.8 1223.9,538.8 1224.5,538.8 1225.2,538.0 1225.9,538.6 1226.6,536.8 1227.3,399.1 1228.0,397.8 1228.7,398.1 1229.4,397.6 1230.1,397.4 1230.8,396.8 1231.5,396.5 1232.2,397.2 1232.9,541.0 1233.6,539.9 1234.3,539.4 1235.0,539.7 1235.7,538.8 1236.4,542.0 1237.1,539.2 1237.8,540.2 1238.5,537.5 1239.1,538.5 1239.8,538.2 1240.5,538.1 1241.2,538.8 1241.9,537.3 1242.6,536.9 1243.3,537.0 1244.0,538.0 1244.7,538.3 1245.4,540.7 1246.1,537.9 1246.8,536.5 1247.5,536.4 1248.2,538.9 1248.9,539.6 1249.6,539.0 1250.3,538.2 1251.0,538.5 1251.7,538.2 1252.4,537.7 1253.1,535.6 1253.7,536.1 1254.4,536.3 1255.1,536.2 1255.8,537.0 1256.5,536.7 1257.2,539.6 1257.9,538.7 1258.6,538.4 1259.3,535.4 1260.0,534.2 1260.7,399.0 1261.4,398.0 1262.1,396.4 1262.8,395.7 1263.5,393.8 1264.2,393.9 1264.9,394.4 1265.6,391.3 1266.3,391.3 1267.0,537.6 1267.7,536.2 1268.3,537.0 1269.0,536.3 1269.7,536.1 1270.4,535.8 1271.1,538.2 1271.8,536.9 1272.5,537.6 1273.2,537.3 1273.9,538.6 1274.6,539.3 1275.3,541.4 1276.0,543.2 1276.7,541.1 1277.4,541.1 1278.1,540.9 1278.8,539.2 1279.5,540.0 1280.2,539.4 1280.9,537.7 1281.6,537.2 1282.3,536.9 1282.9,539.4 1283.6,539.4 1284.3,535.5 1285.0,534.1 1285.7,536.4 1286.4,536.9 1287.1,536.0 1287.8,536.8 1288.5,536.4 1289.2,536.9 1289.9,536.7 1290.6,538.6 1291.3,537.3 1292.0,537.4 1292.7,538.7 1293.4,538.4 1294.1,539.8 1294.8,400.6 1295.5,398.5 1296.2,397.3 1296.9,396.6 1297.5,397.4 1298.2,400.4 1298.9,401.5 1299.6,400.0 1300.3,399.1 1301.0,398.3 1301.7,397.3 1302.4,399.7 1303.1,395.6 1303.8,394.5 1304.5,393.7 1305.2,393.7 1305.9,394.2 1306.6,392.7 1307.3,538.3 1308.0,540.8 1308.7,542.1 1309.4,541.3 1310.1,538.0 1310.8,537.8 1311.5,535.0 1312.1,537.5 1312.8,539.2 1313.5,538.4 1314.2,539.5 1314.9,539.9 1315.6,539.7 1316.3,541.0 1317.0,539.1 1317.7,535.7 1318.4,536.9 1319.1,537.9 1319.8,540.5 1320.5,542.1 1321.2,539.6 1321.9,538.5 1322.6,536.2 1323.3,536.4 1324.0,537.8 1324.7,539.3 1325.4,538.8 1326.1,537.4 1326.7,539.0 1327.4,538.5 1328.1,536.8 1328.8,535.0 1329.5,532.4 1330.2,534.2 1330.9,534.5 1331.6,535.2 1332.3,538.0 1333.0,537.1 1333.7,536.5 1334.4,535.7 1335.1,536.9 1335.8,534.5 1336.5,398.9 1337.2,399.8 1337.9,398.8 1338.6,397.6 1339.3,396.5 1340.0,394.1 1340.7,391.6 1341.3,390.8 1342.0,538.6 1342.7,537.3 1343.4,538.8 1344.1,538.8 1344.8,534.8 1345.5,536.7 1346.2,537.5 1346.9,538.0 1347.6,539.8 1348.3,539.0 1349.0,539.4 1349.7,539.0 1350.4,543.2 1351.1,543.4 1351.8,539.5 1352.5,540.3 1353.2,541.6 1353.9,541.0 1354.6,539.2 1355.3,539.2 1355.9,541.4 1356.6,539.9 1357.3,538.9 1358.0,540.4 1358.7,537.9 1359.4,535.9 1360.1,534.6 1360.8,535.8 1361.5,537.1 1362.2,538.0 1362.9,537.3 1363.6,538.4 1364.3,536.9 1365.0,534.5 1365.7,534.0 1366.4,535.5 1367.1,535.5 1367.8,535.3 1368.5,535.9 1369.2,536.3 1369.9,535.9 1370.5,396.5 1371.2,398.5 1371.9,399.0 1372.6,397.7 1373.3,399.6 1374.0,398.8 1374.7,397.8 1375.4,397.3 1376.1,396.1 1376.8,395.7 1377.5,395.9 1378.2,442.7 1378.9,537.4 1379.6,536.1 1380.3,536.7 1381.0,535.5 1381.7,535.1 1382.4,537.2 1383.1,538.0 1383.8,539.5 1384.5,538.7 1385.1,540.1 1385.8,538.5 1386.5,535.5 1387.2,537.8 1387.9,538.4 1388.6,539.6 1389.3,540.2 1390.0,539.7 1390.7,540.0 1391.4,539.7 1392.1,536.9 1392.8,538.5 1393.5,538.6 1394.2,539.8 1394.9,539.1 1395.6,537.4 1396.3,538.4 1397.0,537.9 1397.7,540.1 1398.4,542.5 1399.1,541.8 1399.7,541.3 1400.4,541.7 1401.1,541.6 1401.8,540.0 1402.5,541.1 1403.2,540.8 1403.9,540.1 1404.6,542.6 1405.3,540.9 1406.0,539.9 1406.7,537.0 1407.4,537.6 1408.1,535.0 1408.8,536.5 1409.5,539.6 1410.2,539.8 1410.9,538.3 1411.6,538.3 1412.3,539.4 1413.0,539.6 1413.7,540.6 1414.3,542.0 1415.0,541.3 1415.7,538.5 1416.4,537.6 1417.1,539.8 1417.8,542.5 1418.5,542.7 1419.2,541.6 1419.9,542.4 1420.6,542.1 1421.3,538.7 1422.0,540.1 1422.7,538.6 1423.4,536.7 1424.1,535.9 1424.8,535.9 1425.5,536.0 1426.2,536.8 1426.9,537.2 1427.6,538.0 1428.3,540.6 1428.9,538.3 1429.6,537.7 1430.3,536.7 1431.0,539.1 1431.7,538.8 1432.4,538.3 1433.1,538.9 1433.8,540.5 1434.5,541.9 1435.2,541.7 1435.9,541.4 1436.6,395.7 1437.3,396.6 1438.0,396.6 1438.7,396.1 1439.4,398.9 1440.1,396.8 1440.8,397.8 1441.5,397.1 1442.2,398.4 1442.9,395.9 1443.5,394.2 1444.2,395.0 1444.9,393.6 1445.6,394.8 1446.3,392.5 1447.0,537.1 1447.7,536.4 1448.4,537.2 1449.1,535.0 1449.8,536.2 1450.5,537.7 1451.2,536.4 1451.9,539.0 1452.6,537.5 1453.3,537.1 1454.0,538.6 1454.7,539.3 1455.4,542.2 1456.1,540.2 1456.8,540.3 1457.5,541.2 1458.1,538.4 1458.8,538.0 1459.5,536.2 1460.2,536.4 1460.9,537.4 1461.6,536.8 1462.3,536.1 1463.0,537.7 1463.7,536.6 1464.4,536.7 1465.1,537.6 1465.8,538.0 1466.5,539.0 1467.2,536.3 1467.9,539.4 1468.6,540.4 1469.3,539.7 1470.0,538.5 1470.7,537.3 1471.4,537.5 1472.1,536.4 1472.7,539.2 1473.4,539.9 1474.1,540.3 1474.8,541.3 1475.5,541.6 1476.2,402.3 1476.9,399.8 1477.6,398.3 1478.3,394.9 1479.0,395.9 1479.7,395.5 1480.4,391.9 1481.1,390.0 1481.8,538.8 1482.5,537.8 1483.2,535.1 1483.9,536.4 1484.6,536.8 1485.3,536.0 1486.0,534.3 1486.7,537.4 1487.3,537.7 1488.0,536.4 1488.7,535.1 1489.4,538.8 1490.1,539.0 1490.8,542.1 1491.5,537.7 1492.2,535.2 1492.9,537.4 1493.6,538.8 1494.3,536.6 1495.0,538.3 1495.7,538.0 1496.4,537.5 1497.1,538.6 1497.8,535.8 1498.5,536.1 1499.2,538.5 1499.9,538.0 1500.6,539.1 1501.3,534.8 1501.9,538.5 1502.6,538.3 1503.3,537.7 1504.0,537.2 1504.7,537.7 1505.4,538.5 1506.1,537.3 1506.8,537.9 1507.5,542.0 1508.2,541.0 1508.9,539.7 1509.6,542.9 1510.3,403.1 1511.0,401.4 1511.7,399.2 1512.4,398.8 1513.1,398.2 1513.8,393.9 1514.5,394.6 1515.2,543.1 1515.9,542.4 1516.5,541.1 1517.2,541.3 1517.9,540.8 1518.6,540.1 1519.3,537.9 1520.0,539.1 1520.7,539.0 1521.4,538.8 1522.1,536.6 1522.8,536.9 1523.5,536.2 1524.2,539.3 1524.9,537.4 1525.6,536.4 1526.3,537.9 1527.0,538.4 1527.7,540.3 1528.4,542.1 1529.1,541.5 1529.8,538.7 1530.5,536.4 1531.1,536.7 1531.8,537.3 1532.5,537.3 1533.2,535.5 1533.9,541.1 1534.6,538.8 1535.3,540.2 1536.0,541.2 1536.7,539.4 1537.4,539.9 1538.1,539.3 1538.8,536.0 1539.5,538.3 1540.2,535.3 1540.9,534.6 1541.6,536.3 1542.3,535.1 1543.0,536.4 1543.7,539.0 1544.4,539.9 1545.1,538.8 1545.7,538.6 1546.4,539.3 1547.1,537.4 1547.8,535.9 1548.5,537.4 1549.2,541.0 1549.9,541.1 1550.6,539.7 1551.3,542.1 1552.0,542.3 1552.7,539.5 1553.4,538.0 1554.1,538.2 1554.8,539.2 1555.5,540.6 1556.2,540.8 1556.9,539.4 1557.6,539.0 1558.3,537.6 1559.0,538.1 1559.7,538.9 1560.3,540.3 1561.0,541.4 1561.7,542.4 1562.4,542.8 1563.1,541.0 1563.8,543.6 1564.5,540.4 1565.2,541.4 1565.9,541.1 1566.6,539.6 1567.3,539.7 1568.0,539.4 1568.7,539.0 1569.4,539.6 1570.1,538.9 1570.8,539.5 1571.5,539.7 1572.2,539.8 1572.9,540.6 1573.6,541.2 1574.3,540.1 1574.9,538.5 1575.6,539.1 1576.3,398.2 1577.0,399.4 1577.7,397.2 1578.4,398.8 1579.1,396.4 1579.8,396.2 1580.5,395.9 1581.2,395.8 1581.9,392.8 1582.6,394.1 1583.3,393.4 1584.0,394.5 1584.7,394.4 1585.4,543.0 1586.1,543.2 1586.8,547.3 1587.5,546.5 1588.2,545.6 1588.9,546.9 1589.5,545.5 1590.2,544.2 1590.9,546.4 1591.6,546.5 1592.3,400.5 1593.0,399.6 1593.7,399.2 1594.4,398.4 1595.1,396.9 1595.8,397.4 1596.5,396.8 1597.2,394.8 1597.9,544.2 1598.6,544.9 1599.3,543.5 1600.0,541.3 1600.7,540.6 1601.4,543.3 1602.1,542.2 1602.8,544.0 1603.5,543.4 1604.1,544.0 1604.8,543.8 1605.5,546.0 1606.2,545.1 1606.9,543.1 1607.6,542.6 1608.3,541.0 1609.0,538.3 1609.7,540.9 1610.4,542.5 1611.1,539.3 1611.8,539.1 1612.5,541.9 1613.2,397.0 1613.9,396.9 1614.6,398.9 1615.3,395.9 1616.0,395.4 1616.7,396.4 1617.4,396.5 1618.1,392.4 1618.7,393.5 1619.4,546.2 1620.1,544.6 1620.8,544.3 1621.5,543.9 1622.2,541.8 1622.9,542.7 1623.6,539.9 1624.3,542.8 1625.0,543.8 1625.7,540.6 1626.4,542.0 1627.1,563.7 1627.8,686.8 1628.5,690.9 1629.2,693.2 1629.9,691.1 1630.6,694.3 1631.3,691.5 1632.0,692.9 1632.7,692.6 1633.3,694.7 1634.0,695.2 1634.7,693.6 1635.4,692.4 1636.1,692.3 1636.8,694.8 1637.5,694.6 1638.2,570.9 1638.9,546.4 1639.6,545.4 1640.3,546.3 1641.0,545.9 1641.7,545.1 1642.4,546.1 1643.1,546.5 1643.8,543.9 1644.5,540.2 1645.2,539.9 1645.9,541.7 1646.6,543.2 1647.3,541.9 1647.9,541.5 1648.6,540.8 1649.3,541.3 1650.0,540.9 1650.7,542.8 1651.4,347.9 1652.1,343.9 1652.8,345.1" stroke="#ff0"/>
<polyline points="253.0,551.3 258.2,551.3 258.4,338.9 259.9,338.9 260.0,551.3 268.3,551.3 268.5,780.3 279.7,780.3 279.9,551.3 307.0,551.3 307.2,338.9 310.3,338.9 310.4,551.3 350.4,551.3 350.5,780.3 355.5,780.3 355.6,551.3 415.7,551.3 415.8,780.3 419.8,780.3 419.9,551.3 448.4,551.3 448.5,780.3 453.5,780.3 453.7,551.3 482.5,551.3 482.6,780.3 486.9,780.3 487.0,551.3 575.6,551.3 575.8,780.3 580.1,780.3 580.2,551.3 638.9,551.3 639.0,780.3 644.7,780.3 644.9,551.3 791.8,551.3 792.0,780.3 797.0,780.3 797.1,551.3 818.9,551.3 819.1,780.3 822.0,780.3 822.1,551.3 844.0,551.3 844.1,338.9 848.8,338.9 848.9,551.3 894.4,551.3 894.5,780.3 898.1,780.3 898.3,551.3 956.0,552.5 956.2,348.3 958.6,348.3 958.8,552.5 981.1,552.5 981.2,348.3 985.7,348.3 985.9,552.5 1031.1,552.5 1031.3,348.3 1040.0,348.3 1040.1,552.5 1114.6,552.5 1114.7,348.3 1124.1,348.3 1124.2,552.5 1154.2,552.5 1154.3,348.3 1159.5,348.3 1159.7,552.5 1190.3,552.5 1190.5,348.3 1197.8,348.3 1197.9,552.5 1227.9,552.5 1228.0,348.3 1231.2,348.3 1231.3,552.5 1261.3,552.5 1261.4,348.3 1265.2,348.3 1265.4,552.5 1295.3,552.5 1295.5,348.3 1305.5,348.3 1305.7,552.5 1337.0,552.5 1337.2,348.3 1340.3,348.3 1340.4,552.5 1371.1,552.5 1371.2,348.3 1376.8,348.3 1376.9,552.5 1437.2,552.5 1437.3,348.3 1445.3,348.3 1445.4,552.5 1476.8,552.5 1476.9,348.3 1480.0,348.3 1480.2,552.5 1510.8,552.5 1511.0,348.3 1513.4,348.3 1513.6,552.5 1576.9,552.5 1577.0,348.3 1583.6,348.3 1583.8,552.5 1592.9,552.5 1593.0,348.3 1596.2,348.3 1596.3,552.5 1613.7,552.5 1613.9,348.3 1617.7,348.3 1617.8,552.5 1627.5,552.5 1627.6,751.8 1637.5,751.8 1637.7,552.5 1652.5,552.5" stroke="#ff0" stroke-dasharray="10 4.5"/>
<polyline points="248.8,788.6 249.8,863.2 250.7,937.9 251.7,989.6 252.7,1037.6 253.6,1034.2 254.6,990.4 255.6,897.1 256.6,813.0 257.5,783.7 258.5,754.3 259.5,752.9 260.5,751.5 261.4,750.9 262.4,749.6 263.4,751.5 264.4,753.3 265.3,750.5 266.3,749.1 267.3,749.1 268.2,749.3 269.2,744.5 270.2,729.9 271.2,730.8 272.1,729.9 273.1,730.0 274.1,731.5 275.1,731.2 276.0,731.1 277.0,731.1 278.0,729.0 279.0,747.6 279.9,752.1 280.9,751.0 281.9,749.8 282.8,748.9 283.8,748.8 284.8,751.0 285.8,750.0 286.7,750.1 287.7,749.0 288.7,749.1 289.7,750.8 290.6,749.1 291.6,750.5 292.6,749.5 293.6,749.5 294.5,750.2 295.5,752.1 296.5,752.1 297.4,752.1 298.4,751.5 299.4,751.2 300.4,749.5 301.3,749.5 302.3,748.8 303.3,750.4 304.3,750.7 305.2,749.8 306.2,749.2 307.2,745.3 308.2,737.4 309.1,746.3 310.1,745.8 311.1,748.1 312.0,748.2 313.0,748.4 314.0,749.3 315.0,750.3 315.9,749.6 316.9,750.1 317.9,749.1 318.9,749.7 319.8,750.6 320.8,748.5 321.8,748.2 322.8,748.9 323.7,749.6 324.7,751.0 325.7,751.2 326.6,751.9 327.6,750.6 328.6,749.5 329.6,750.1 330.5,750.6 331.5,750.2 332.5,750.2 333.5,749.8 334.4,749.6 335.4,749.6 336.4,749.4 337.4,750.6 338.3,749.9 339.3,751.7 340.3,751.1 341.2,751.0 342.2,750.4 343.2,750.6 344.2,750.3 345.1,751.8 346.1,751.6 347.1,751.8 348.1,750.9 349.0,750.5 350.0,750.8 351.0,738.5 352.0,738.8 352.9,738.5 353.9,737.9 354.9,737.3 355.8,737.6 356.8,751.2 357.8,754.3 358.8,754.1 359.7,755.2 360.7,755.2 361.7,756.8 362.7,755.1 363.6,754.8 364.6,755.2 365.6,755.1 366.6,754.3 367.5,754.5 368.5,754.3 369.5,754.3 370.4,755.3 371.4,756.4 372.4,754.8 373.4,755.1 374.3,753.9 375.3,753.2 376.3,754.1 377.3,754.7 378.2,755.1 379.2,753.5 380.2,753.8 381.2,754.3 382.1,753.6 383.1,754.7 384.1,755.1 385.0,755.3 386.0,755.0 387.0,755.8 388.0,748.9 388.9,748.3 389.9,748.8 390.9,749.1 391.9,748.2 392.8,748.8 393.8,748.5 394.8,747.5 395.8,747.4 396.7,746.0 397.7,746.7 398.7,748.3 399.6,747.7 400.6,747.5 401.6,746.9 402.6,748.3 403.5,748.1 404.5,747.0 405.5,747.1 406.5,746.3 407.4,747.4 408.4,747.1 409.4,747.3 410.4,746.1 411.3,747.5 412.3,746.5 413.3,746.8 414.2,747.0 415.2,747.8 416.2,738.5 417.2,736.8 418.1,735.8 419.1,736.3 420.1,738.8 421.1,746.8 422.0,749.6 423.0,749.8 424.0,750.7 425.0,750.3 425.9,752.2 426.9,752.3 427.9,751.2 428.8,751.4 429.8,750.2 430.8,750.6 431.8,751.7 432.7,750.5 433.7,750.8 434.7,751.3 435.7,751.4 436.6,752.1 437.6,752.2 438.6,751.3 439.6,751.9 440.5,751.9 441.5,752.4 442.5,752.0 443.4,751.4 444.4,751.0 445.4,751.5 446.4,752.1 447.3,751.6 448.3,750.9 449.3,738.0 450.3,736.2 451.2,737.2 452.2,730.3 453.2,730.8 454.2,733.6 455.1,740.9 456.1,742.9 457.1,744.7 458.0,744.5 459.0,743.5 460.0,742.7 461.0,742.5 461.9,742.1 462.9,743.2 463.9,742.1 464.9,741.2 465.8,743.4 466.8,744.4 467.8,743.4 468.8,742.9 469.7,742.0 470.7,742.5 471.7,743.7 472.6,744.2 473.6,742.7 474.6,743.0 475.6,744.6 476.5,744.3 477.5,743.4 478.5,743.5 479.5,743.0 480.4,742.8 481.4,743.0 482.4,744.1 483.4,731.2 484.3,730.5 485.3,731.2 486.3,730.2 487.2,733.5 488.2,742.3 489.2,745.4 490.2,746.8 491.1,748.1 492.1,746.9 493.1,747.6 494.1,748.4 495.0,746.8 496.0,746.5 497.0,747.6 498.0,747.5 498.9,747.5 499.9,747.0 500.9,748.9 501.8,749.3 502.8,749.9 503.8,749.0 504.8,749.2 505.7,748.4 506.7,746.7 507.7,746.8 508.7,748.0 509.6,748.1 510.6,747.8 511.6,749.3 512.6,747.8 513.5,747.7 514.5,747.2 515.5,746.6 516.4,746.9 517.4,746.3 518.4,746.6 519.4,748.0 520.3,748.0 521.3,748.1 522.3,747.4 523.3,746.2 524.2,748.1 525.2,748.1 526.2,748.6 527.2,748.2 528.1,747.4 529.1,746.4 530.1,748.4 531.0,747.0 532.0,745.9 533.0,746.9 534.0,746.3 534.9,746.2 535.9,745.3 536.9,745.6 537.9,747.9 538.8,748.4 539.8,747.7 540.8,747.6 541.8,747.7 542.7,746.4 543.7,747.5 544.7,747.2 545.6,746.3 546.6,748.1 547.6,747.5 548.6,747.5 549.5,747.8 550.5,745.7 551.5,746.7 552.5,746.3 553.4,747.2 554.4,747.9 555.4,747.4 556.4,746.3 557.3,746.7 558.3,746.3 559.3,746.7 560.2,745.9 561.2,746.1 562.2,746.3 563.2,746.0 564.1,746.0 565.1,746.3 566.1,746.8 567.1,746.7 568.0,747.1 569.0,746.0 570.0,746.4 571.0,746.0 571.9,746.8 572.9,746.4 573.9,747.9 574.8,748.0 575.8,741.6 576.8,734.0 577.8,735.8 578.7,728.8 579.7,728.4 580.7,732.2 581.7,739.2 582.6,741.5 583.6,739.9 584.6,740.4 585.6,739.7 586.5,739.4 587.5,740.4 588.5,740.2 589.4,740.1 590.4,741.0 591.4,740.5 592.4,740.4 593.3,740.1 594.3,740.4 595.3,740.7 596.3,740.5 597.2,741.1 598.2,740.0 599.2,739.8 600.2,740.0 601.1,740.3 602.1,740.0 603.1,740.0 604.0,740.5 605.0,739.9 606.0,738.6 607.0,737.6 607.9,738.1 608.9,739.2 609.9,737.0 610.9,737.9 611.8,738.6 612.8,739.8 613.8,739.8 614.8,740.3 615.7,740.7 616.7,740.5 617.7,740.2 618.6,740.1 619.6,740.1 620.6,741.6 621.6,740.6 622.5,741.1 623.5,740.8 624.5,741.8 625.5,740.8 626.4,740.3 627.4,740.4 628.4,740.7 629.4,741.0 630.3,739.5 631.3,740.3 632.3,741.1 633.2,741.3 634.2,740.8 635.2,740.8 636.2,740.6 637.1,740.2 638.1,739.1 639.1,733.0 640.1,726.8 641.0,727.3 642.0,727.6 643.0,726.8 644.0,725.8 644.9,729.2 645.9,738.0 646.9,741.4 647.8,743.4 648.8,743.7 649.8,743.6 650.8,744.2 651.7,743.8 652.7,742.8 653.7,743.4 654.7,743.2 655.6,743.5 656.6,745.0 657.6,743.9 658.6,744.7 659.5,745.6 660.5,744.5 661.5,744.0 662.4,743.5 663.4,743.2 664.4,742.4 665.4,742.6 666.3,742.2 667.3,742.3 668.3,743.8 669.3,743.5 670.2,743.1 671.2,743.0 672.2,743.2 673.2,743.4 674.1,742.2 675.1,742.4 676.1,743.5 677.0,742.5 678.0,742.6 679.0,742.9 680.0,743.2 680.9,745.2 681.9,746.5 682.9,745.8 683.9,743.9 684.8,743.3 685.8,744.5 686.8,743.4 687.8,742.3 688.7,743.7 689.7,744.2 690.7,745.1 691.6,745.3 692.6,746.2 693.6,745.9 694.6,744.8 695.5,744.2 696.5,743.3 697.5,742.7 698.5,743.3 699.4,745.1 700.4,744.4 701.4,744.0 702.4,744.6 703.3,743.4 704.3,744.0 705.3,743.4 706.2,743.1 707.2,742.1 708.2,744.1 709.2,745.1 710.1,744.9 711.1,743.5 712.1,742.3 713.1,743.1 714.0,743.3 715.0,742.2 716.0,743.0 717.0,743.1 717.9,742.5 718.9,742.4 719.9,743.0 720.8,742.7 721.8,743.1 722.8,743.8 723.8,744.6 724.7,743.9 725.7,742.3 726.7,742.7 727.7,743.1 728.6,742.8 729.6,743.6 730.6,743.6 731.6,743.2 732.5,743.2 733.5,741.5 734.5,741.7 735.4,742.2 736.4,741.8 737.4,741.3 738.4,740.4 739.3,742.1 740.3,742.7 741.3,740.8 742.3,741.3 743.2,740.4 744.2,740.9 745.2,742.0 746.2,742.8 747.1,743.1 748.1,742.0 749.1,743.4 750.0,743.7 751.0,742.9 752.0,742.5 753.0,742.9 753.9,743.1 754.9,743.5 755.9,743.4 756.9,741.6 757.8,741.6 758.8,741.6 759.8,741.3 760.8,741.8 761.7,743.7 762.7,742.1 763.7,743.6 764.6,743.3 765.6,742.4 766.6,743.8 767.6,742.9 768.5,743.3 769.5,743.8 770.5,743.4 771.5,743.5 772.4,743.8 773.4,743.5 774.4,742.6 775.4,742.9 776.3,743.8 777.3,743.5 778.3,743.4 779.2,744.3 780.2,743.5 781.2,743.5 782.2,742.8 783.1,742.7 784.1,742.6 785.1,743.2 786.1,742.3 787.0,741.9 788.0,741.7 789.0,741.6 790.0,740.5 790.9,741.5 791.9,730.3 792.9,719.5 793.8,720.3 794.8,720.6 795.8,719.8 796.8,719.3 797.7,723.4 798.7,731.0 799.7,733.4 800.7,734.2 801.6,734.8 802.6,733.3 803.6,732.4 804.6,734.1 805.5,733.2 806.5,732.1 807.5,731.4 808.4,731.4 809.4,732.9 810.4,732.6 811.4,733.3 812.3,733.2 813.3,732.5 814.3,732.1 815.3,732.2 816.2,733.0 817.2,731.4 818.2,732.2 819.2,727.4 820.1,719.1 821.1,723.5 822.1,723.8 823.0,730.9 824.0,735.6 825.0,736.5 826.0,736.8 826.9,737.0 827.9,737.1 828.9,737.1 829.9,735.9 830.8,736.7 831.8,737.2 832.8,737.0 833.8,736.1 834.7,736.5 835.7,736.0 836.7,736.3 837.6,735.5 838.6,735.9 839.6,737.7 840.6,738.7 841.5,736.7 842.5,737.5 843.5,738.0 844.5,745.0 845.4,747.6 846.4,746.4 847.4,747.2 848.4,744.6 849.3,737.9 850.3,737.8 851.3,737.4 852.2,737.3 853.2,734.3 854.2,734.1 855.2,732.9 856.1,734.1 857.1,733.1 858.1,733.5 859.1,734.6 860.0,733.7 861.0,733.1 862.0,732.8 863.0,733.5 863.9,732.5 864.9,732.3 865.9,733.2 866.8,733.1 867.8,735.1 868.8,734.7 869.8,734.8 870.7,734.6 871.7,733.5 872.7,733.6 873.7,733.8 874.6,731.8 875.6,731.0 876.6,733.6 877.6,733.1 878.5,733.7 879.5,734.4 880.5,734.9 881.4,735.4 882.4,734.9 883.4,734.4 884.4,733.7 885.3,732.6 886.3,732.7 887.3,732.4 888.3,731.6 889.2,732.9 890.2,733.8 891.2,733.5 892.2,733.8 893.1,733.4 894.1,732.2 895.1,721.5 896.0,724.1 897.0,724.6 898.0,724.8 899.0,728.4 899.9,735.2 900.9,738.0 901.9,737.8 902.9,738.0 903.8,738.3 904.8,738.0 905.8,738.8 906.8,738.4 907.7,738.3 908.7,738.5 909.7,737.9 910.6,737.7 911.6,737.8 912.6,737.1 913.6,737.3 914.5,737.3 915.5,737.9 916.5,738.4 917.5,739.4 918.4,739.4 919.4,739.2 920.4,738.6 921.4,738.7 922.3,738.5 923.3,736.7 924.3,737.0 925.2,736.7 926.2,736.5 927.2,736.3 928.2,736.5 929.1,737.2 930.1,746.1 931.1,746.1 932.1,746.1 933.0,746.1 934.0,746.1 935.0,746.1 936.0,746.1 936.9,746.1 937.9,718.7 938.9,677.5 939.8,677.5 940.8,558.7 941.8,366.8 942.8,342.9 943.7,327.0 944.7,321.2 945.7,310.9 946.7,331.3 947.6,335.5 948.6,338.0 949.6,341.0 950.6,342.3 951.5,342.9 952.5,342.8 953.5,344.7 954.4,343.8 955.4,343.7 956.4,336.3 957.4,327.8 958.3,327.3 959.3,327.8 960.3,334.8 961.3,338.5 962.2,341.5 963.2,344.3 964.2,345.8 965.2,346.0 966.1,345.8 967.1,344.8 968.1,346.5 969.0,347.1 970.0,346.9 971.0,348.0 972.0,349.4 972.9,348.2 973.9,347.4 974.9,348.5 975.9,346.4 976.8,346.5 977.8,347.3 978.8,347.2 979.8,347.6 980.7,347.8 981.7,329.8 982.7,327.6 983.6,326.0 984.6,327.6 985.6,328.2 986.6,324.0 987.5,331.3 988.5,335.8 989.5,337.8 990.5,340.2 991.4,341.0 992.4,342.6 993.4,341.9 994.4,342.9 995.3,343.2 996.3,343.0 997.3,344.5 998.2,343.4 999.2,344.1 1000.2,344.8 1001.2,343.3 1002.1,343.9 1003.1,344.9 1004.1,345.2 1005.1,345.2 1006.0,344.7 1007.0,344.3 1008.0,345.0 1009.0,344.2 1009.9,343.3 1010.9,342.0 1011.9,342.2 1012.8,343.3 1013.8,343.4 1014.8,343.4 1015.8,344.5 1016.7,345.3 1017.7,346.0 1018.7,344.6 1019.7,344.4 1020.6,343.5 1021.6,343.7 1022.6,343.7 1023.6,342.2 1024.5,342.9 1025.5,343.1 1026.5,343.2 1027.4,343.9 1028.4,344.5 1029.4,344.5 1030.4,344.4 1031.3,335.3 1032.3,323.0 1033.3,322.8 1034.3,323.3 1035.2,322.6 1036.2,322.0 1037.2,322.6 1038.2,324.0 1039.1,324.0 1040.1,329.7 1041.1,332.4 1042.0,337.2 1043.0,341.4 1044.0,343.0 1045.0,345.1 1045.9,347.9 1046.9,348.5 1047.9,349.1 1048.9,349.2 1049.8,349.7 1050.8,348.9 1051.8,348.4 1052.8,347.9 1053.7,348.4 1054.7,349.3 1055.7,350.5 1056.6,350.2 1057.6,350.2 1058.6,350.4 1059.6,350.9 1060.5,350.2 1061.5,349.4 1062.5,348.2 1063.5,348.2 1064.4,348.4 1065.4,348.8 1066.4,350.1 1067.4,349.0 1068.3,348.2 1069.3,349.7 1070.3,349.1 1071.2,348.5 1072.2,348.0 1073.2,348.2 1074.2,348.6 1075.1,349.4 1076.1,348.7 1077.1,349.0 1078.1,350.0 1079.0,349.6 1080.0,350.7 1081.0,350.2 1082.0,351.2 1082.9,350.5 1083.9,351.6 1084.9,351.6 1085.8,349.8 1086.8,350.9 1087.8,349.1 1088.8,349.6 1089.7,349.8 1090.7,349.3 1091.7,349.2 1092.7,348.3 1093.6,348.6 1094.6,349.7 1095.6,348.9 1096.6,348.8 1097.5,349.4 1098.5,349.4 1099.5,348.8 1100.4,349.4 1101.4,348.0 1102.4,347.3 1103.4,348.6 1104.3,348.7 1105.3,348.1 1106.3,348.0 1107.3,347.8 1108.2,348.6 1109.2,349.8 1110.2,348.4 1111.2,349.5 1112.1,350.4 1113.1,348.4 1114.1,348.7 1115.0,334.5 1116.0,328.2 1117.0,328.3 1118.0,328.9 1118.9,328.9 1119.9,327.1 1120.9,327.7 1121.9,327.4 1122.8,328.1 1123.8,328.0 1124.8,325.8 1125.8,333.0 1126.7,336.9 1127.7,340.5 1128.7,343.0 1129.6,344.8 1130.6,345.7 1131.6,345.1 1132.6,344.7 1133.5,346.0 1134.5,346.0 1135.5,345.3 1136.5,346.9 1137.4,348.9 1138.4,349.4 1139.4,347.3 1140.4,349.4 1141.3,347.8 1142.3,348.0 1143.3,347.8 1144.2,347.8 1145.2,349.1 1146.2,347.8 1147.2,346.8 1148.1,348.6 1149.1,347.6 1150.1,346.8 1151.1,347.2 1152.0,347.7 1153.0,348.3 1154.0,348.0 1155.0,328.6 1155.9,328.5 1156.9,326.9 1157.9,327.0 1158.8,325.0 1159.8,327.8 1160.8,333.1 1161.8,338.3 1162.7,341.4 1163.7,343.2 1164.7,346.0 1165.7,346.7 1166.6,348.2 1167.6,348.9 1168.6,349.5 1169.6,348.9 1170.5,348.2 1171.5,348.3 1172.5,347.8 1173.4,348.6 1174.4,348.4 1175.4,349.3 1176.4,347.7 1177.3,347.2 1178.3,349.0 1179.3,348.9 1180.3,348.2 1181.2,348.8 1182.2,349.4 1183.2,350.3 1184.2,349.0 1185.1,348.6 1186.1,349.0 1187.1,350.0 1188.0,349.7 1189.0,350.9 1190.0,349.6 1191.0,331.7 1191.9,328.0 1192.9,327.9 1193.9,328.9 1194.9,328.9 1195.8,330.2 1196.8,330.0 1197.8,325.6 1198.8,327.3 1199.7,331.5 1200.7,337.0 1201.7,338.8 1202.6,339.9 1203.6,341.1 1204.6,342.8 1205.6,342.6 1206.5,344.0 1207.5,343.3 1208.5,344.8 1209.5,347.2 1210.4,346.2 1211.4,345.1 1212.4,344.4 1213.4,345.5 1214.3,345.2 1215.3,345.1 1216.3,345.6 1217.2,345.8 1218.2,344.9 1219.2,344.7 1220.2,345.2 1221.1,344.5 1222.1,346.0 1223.1,345.7 1224.1,344.6 1225.0,343.4 1226.0,343.0 1227.0,343.3 1228.0,339.5 1228.9,324.3 1229.9,325.3 1230.9,325.6 1231.8,336.0 1232.8,341.4 1233.8,346.3 1234.8,349.3 1235.7,350.9 1236.7,350.0 1237.7,351.7 1238.7,353.1 1239.6,352.8 1240.6,353.3 1241.6,351.8 1242.6,353.3 1243.5,353.3 1244.5,354.2 1245.5,353.2 1246.4,353.8 1247.4,353.0 1248.4,353.4 1249.4,354.4 1250.3,354.4 1251.3,353.8 1252.3,353.9 1253.3,353.8 1254.2,353.2 1255.2,353.6 1256.2,352.7 1257.2,353.0 1258.1,354.4 1259.1,354.8 1260.1,354.5 1261.0,354.9 1262.0,335.3 1263.0,334.3 1264.0,333.7 1264.9,332.7 1265.9,329.0 1266.9,337.3 1267.9,340.4 1268.8,344.8 1269.8,347.2 1270.8,347.2 1271.8,349.9 1272.7,349.8 1273.7,348.6 1274.7,348.4 1275.6,349.4 1276.6,349.3 1277.6,349.6 1278.6,349.2 1279.5,349.1 1280.5,349.7 1281.5,349.2 1282.5,349.5 1283.4,348.6 1284.4,349.6 1285.4,350.0 1286.4,348.1 1287.3,350.2 1288.3,348.8 1289.3,349.4 1290.2,348.3 1291.2,349.2 1292.2,348.6 1293.2,349.4 1294.1,349.4 1295.1,349.6 1296.1,330.9 1297.1,330.6 1298.0,329.1 1299.0,328.2 1300.0,329.8 1301.0,328.4 1301.9,328.0 1302.9,328.6 1303.9,328.4 1304.8,328.9 1305.8,332.5 1306.8,335.4 1307.8,341.4 1308.7,346.1 1309.7,349.2 1310.7,350.2 1311.7,351.3 1312.6,352.2 1313.6,353.7 1314.6,354.0 1315.6,353.8 1316.5,353.9 1317.5,353.7 1318.5,353.0 1319.4,354.2 1320.4,353.4 1321.4,354.2 1322.4,354.0 1323.3,355.1 1324.3,353.7 1325.3,352.4 1326.3,353.1 1327.2,353.3 1328.2,353.1 1329.2,353.3 1330.2,353.5 1331.1,353.4 1332.1,353.1 1333.1,353.2 1334.0,353.1 1335.0,351.4 1336.0,351.5 1337.0,349.5 1337.9,332.4 1338.9,331.8 1339.9,333.3 1340.9,327.7 1341.8,334.5 1342.8,339.6 1343.8,341.5 1344.8,343.3 1345.7,344.8 1346.7,346.2 1347.7,347.5 1348.6,347.2 1349.6,346.3 1350.6,347.9 1351.6,348.2 1352.5,349.1 1353.5,348.6 1354.5,347.4 1355.5,347.9 1356.4,349.3 1357.4,348.7 1358.4,349.9 1359.4,351.2 1360.3,349.9 1361.3,350.5 1362.3,350.7 1363.2,349.3 1364.2,349.2 1365.2,348.7 1366.2,349.4 1367.1,351.1 1368.1,350.1 1369.1,349.9 1370.1,349.8 1371.0,348.0 1372.0,329.8 1373.0,330.2 1374.0,331.0 1374.9,329.9 1375.9,329.0 1376.9,328.4 1377.8,338.7 1378.8,344.3 1379.8,349.0 1380.8,350.6 1381.7,351.3 1382.7,353.1 1383.7,355.5 1384.7,356.2 1385.6,356.0 1386.6,356.2 1387.6,357.0 1388.6,357.9 1389.5,357.5 1390.5,357.1 1391.5,357.4 1392.4,357.5 1393.4,358.2 1394.4,358.3 1395.4,358.3 1396.3,358.1 1397.3,357.6 1398.3,357.9 1399.3,358.0 1400.2,359.0 1401.2,357.7 1402.2,358.4 1403.2,358.8 1404.1,359.0 1405.1,358.7 1406.1,357.7 1407.0,357.5 1408.0,355.9 1409.0,357.4 1410.0,357.6 1410.9,356.2 1411.9,357.0 1412.9,357.7 1413.9,358.6 1414.8,357.8 1415.8,356.7 1416.8,356.6 1417.8,355.6 1418.7,356.9 1419.7,357.3 1420.7,359.0 1421.6,357.0 1422.6,356.5 1423.6,357.5 1424.6,357.6 1425.5,357.0 1426.5,357.5 1427.5,357.6 1428.5,358.4 1429.4,358.3 1430.4,359.3 1431.4,358.2 1432.4,358.9 1433.3,357.4 1434.3,357.3 1435.3,356.0 1436.2,357.4 1437.2,351.8 1438.2,337.3 1439.2,336.9 1440.1,337.1 1441.1,336.9 1442.1,337.8 1443.1,336.9 1444.0,336.6 1445.0,336.2 1446.0,332.5 1447.0,339.0 1447.9,341.8 1448.9,345.8 1449.9,348.5 1450.8,350.8 1451.8,351.2 1452.8,352.1 1453.8,352.7 1454.7,352.8 1455.7,352.6 1456.7,352.9 1457.7,352.1 1458.6,353.5 1459.6,353.4 1460.6,355.0 1461.6,353.5 1462.5,353.7 1463.5,353.9 1464.5,354.6 1465.4,354.6 1466.4,353.5 1467.4,352.5 1468.4,354.0 1469.3,354.1 1470.3,353.0 1471.3,354.0 1472.3,353.8 1473.2,353.2 1474.2,352.4 1475.2,350.1 1476.2,351.3 1477.1,341.5 1478.1,331.3 1479.1,333.3 1480.0,337.1 1481.0,339.1 1482.0,345.4 1483.0,348.2 1483.9,349.9 1484.9,352.0 1485.9,354.3 1486.9,355.7 1487.8,356.7 1488.8,357.8 1489.8,357.2 1490.8,357.4 1491.7,358.2 1492.7,358.6 1493.7,358.2 1494.6,358.0 1495.6,357.5 1496.6,358.3 1497.6,356.9 1498.5,356.5 1499.5,357.1 1500.5,357.1 1501.5,357.6 1502.4,358.4 1503.4,359.2 1504.4,357.7 1505.4,359.4 1506.3,357.4 1507.3,358.3 1508.3,357.4 1509.2,356.4 1510.2,356.6 1511.2,347.3 1512.2,338.2 1513.1,339.3 1514.1,332.5 1515.1,337.2 1516.1,341.6 1517.0,345.5 1518.0,348.4 1519.0,348.7 1520.0,350.2 1520.9,350.9 1521.9,351.0 1522.9,352.1 1523.8,353.1 1524.8,353.6 1525.8,352.3 1526.8,352.4 1527.7,353.6 1528.7,354.3 1529.7,353.7 1530.7,353.8 1531.6,353.1 1532.6,351.7 1533.6,352.5 1534.6,353.0 1535.5,352.7 1536.5,352.9 1537.5,354.2 1538.4,354.2 1539.4,354.0 1540.4,353.1 1541.4,352.8 1542.3,353.6 1543.3,352.9 1544.3,352.1 1545.3,352.3 1546.2,351.8 1547.2,351.6 1548.2,351.3 1549.2,350.8 1550.1,351.6 1551.1,350.8 1552.1,351.2 1553.0,351.9 1554.0,353.0 1555.0,352.9 1556.0,352.6 1556.9,352.5 1557.9,353.1 1558.9,353.2 1559.9,354.0 1560.8,353.9 1561.8,354.1 1562.8,353.5 1563.8,353.3 1564.7,354.7 1565.7,353.2 1566.7,352.4 1567.6,351.2 1568.6,351.3 1569.6,351.6 1570.6,350.3 1571.5,350.9 1572.5,352.3 1573.5,353.6 1574.5,353.9 1575.4,352.9 1576.4,351.6 1577.4,338.3 1578.4,332.4 1579.3,331.9 1580.3,331.0 1581.3,331.0 1582.2,330.5 1583.2,330.7 1584.2,332.2 1585.2,348.2 1586.1,353.1 1587.1,356.7 1588.1,358.0 1589.1,359.1 1590.0,359.8 1591.0,361.4 1592.0,361.9 1593.0,357.3 1593.9,341.7 1594.9,342.7 1595.9,342.9 1596.8,341.3 1597.8,347.2 1598.8,350.9 1599.8,353.5 1600.7,354.8 1601.7,356.0 1602.7,357.1 1603.7,357.1 1604.6,359.0 1605.6,358.8 1606.6,358.8 1607.6,358.1 1608.5,360.5 1609.5,359.8 1610.5,360.0 1611.4,361.6 1612.4,361.9 1613.4,360.6 1614.4,343.8 1615.3,340.5 1616.3,341.2 1617.3,341.6 1618.3,340.9 1619.2,361.6 1620.2,362.1 1621.2,362.6 1622.2,362.9 1623.1,365.0 1624.1,364.2 1625.1,364.1 1626.0,364.9 1627.0,365.5 1628.0,364.8 1629.0,368.2 1629.9,385.4 1630.9,377.3 1631.9,368.8 1632.9,371.7 1633.8,381.3 1634.8,377.8 1635.8,387.6 1636.8,379.2 1637.7,378.1 1638.7,381.6 1639.7,374.5 1640.6,363.1 1641.6,360.2 1642.6,381.0 1643.6,366.6 1644.5,366.9 1645.5,368.5 1646.5,381.9 1647.5,372.9 1648.4,360.8 1649.4,353.0 1650.4,358.5 1651.4,347.2" stroke="#f0f" stroke-dasharray="10 4.5"/>
<polyline points="249.1,352.0 250.9,565.2 252.6,705.4 254.3,701.8 256.1,699.6 257.8,698.3 259.6,697.1 261.3,696.2 263.0,695.5 264.8,694.7 266.5,693.9 268.2,693.1 270.0,692.3 271.7,691.5 273.5,690.8 275.2,690.0 276.9,689.3 278.7,688.6 280.4,687.9 282.2,687.2 283.9,686.5 285.6,685.8 287.4,685.1 289.1,684.4 290.8,682.4 292.6,680.4 294.3,678.4 296.1,676.3 297.8,675.4 299.5,675.2 301.3,674.9 303.0,674.7 304.7,674.5 306.5,674.3 308.2,674.0 310.0,673.8 311.7,673.6 313.4,673.5 315.2,673.4 316.9,673.3 318.7,673.2 320.4,673.1 322.1,673.0 323.9,672.9 325.6,672.9 327.3,672.8 329.1,672.7 330.8,672.6 332.6,672.5 334.3,672.4 336.0,672.3 337.8,672.2 339.5,672.1 341.2,672.1 343.0,672.0 344.7,671.9 346.5,671.8 348.2,671.7 349.9,671.6 351.7,671.5 353.4,671.4 355.2,671.4 356.9,671.3 358.6,671.2 360.4,671.0 362.1,670.9 363.8,670.8 365.6,670.7 367.3,670.6 369.1,670.5 370.8,670.3 372.5,670.2 374.3,670.1 376.0,670.0 377.7,669.9 379.5,669.8 381.2,669.6 383.0,669.5 384.7,669.4 386.4,669.3 388.2,669.2 389.9,669.1 391.7,668.9 393.4,668.8 395.1,668.7 396.9,668.6 398.6,668.5 400.3,668.4 402.1,668.2 403.8,668.1 405.6,668.0 407.3,667.9 409.0,667.8 410.8,667.7 412.5,667.5 414.2,667.4 416.0,667.3 417.7,667.2 419.5,667.1 421.2,666.9 422.9,666.8 424.7,666.7 426.4,666.6 428.2,666.5 429.9,666.4 431.6,666.2 433.4,666.1 435.1,666.0 436.8,665.9 438.6,665.8 440.3,665.7 442.1,665.5 443.8,665.4 445.5,665.3 447.3,665.2 449.0,665.1 450.7,665.0 452.5,664.8 454.2,664.7 456.0,664.6 457.7,664.5 459.4,664.4 461.2,664.3 462.9,664.1 464.7,664.0 466.4,663.9 468.1,663.8 469.9,663.7 471.6,663.6 473.3,663.4 475.1,663.3 476.8,663.2 478.6,663.1 480.3,663.0 482.0,662.9 483.8,662.7 485.5,662.6 487.2,662.5 489.0,662.4 490.7,662.3 492.5,662.2 494.2,662.0 495.9,661.9 497.7,661.8 499.4,661.7 501.2,661.6 502.9,661.5 504.6,661.3 506.4,661.2 508.1,661.1 509.8,661.0 511.6,660.9 513.3,660.8 515.1,660.6 516.8,660.5 518.5,660.4 520.3,660.3 522.0,660.2 523.7,660.1 525.5,659.9 527.2,659.8 529.0,659.7 530.7,659.6 532.4,659.5 534.2,659.4 535.9,659.2 537.7,659.1 539.4,659.0 541.1,658.9 542.9,658.8 544.6,658.6 546.3,658.5 548.1,658.4 549.8,658.3 551.6,658.2 553.3,658.1 555.0,657.9 556.8,657.8 558.5,657.7 560.2,657.6 562.0,657.5 563.7,657.4 565.5,657.2 567.2,657.1 568.9,657.0 570.7,656.9 572.4,656.8 574.2,656.7 575.9,656.5 577.6,656.4 579.4,656.3 581.1,656.2 582.8,656.0 584.6,655.8 586.3,655.7 588.1,655.5 589.8,655.4 591.5,655.2 593.3,655.0 595.0,654.9 596.7,654.7 598.5,654.6 600.2,654.4 602.0,654.3 603.7,654.1 605.4,653.9 607.2,653.8 608.9,653.6 610.7,653.5 612.4,653.3 614.1,653.1 615.9,653.0 617.6,652.8 619.3,652.7 621.1,652.5 622.8,652.3 624.6,652.2 626.3,652.0 628.0,651.9 629.8,651.7 631.5,651.6 633.2,651.4 635.0,651.2 636.7,651.1 638.5,650.9 640.2,650.8 641.9,650.6 643.7,650.4 645.4,650.3 647.2,650.1 648.9,650.0 650.6,649.8 652.4,649.6 654.1,649.5 655.8,649.3 657.6,649.2 659.3,649.0 661.1,648.9 662.8,648.7 664.5,648.5 666.3,648.4 668.0,648.2 669.7,648.1 671.5,647.9 673.2,647.7 675.0,647.6 676.7,647.4 678.4,647.3 680.2,647.1 681.9,647.0 683.7,646.8 685.4,646.6 687.1,646.5 688.9,646.3 690.6,646.2 692.3,646.0 694.1,645.8 695.8,645.7 697.6,645.5 699.3,645.4 701.0,645.2 702.8,645.0 704.5,644.9 706.2,644.7 708.0,644.6 709.7,644.4 711.5,644.3 713.2,644.1 714.9,643.9 716.7,643.8 718.4,643.6 720.2,643.5 721.9,643.4 723.6,643.2 725.4,643.1 727.1,643.0 728.8,642.8 730.6,642.7 732.3,642.6 734.1,642.4 735.8,642.3 737.5,642.2 739.3,642.0 741.0,641.9 742.7,641.8 744.5,641.6 746.2,641.5 748.0,641.4 749.7,641.2 751.4,641.1 753.2,641.0 754.9,640.8 756.7,640.7 758.4,640.6 760.1,640.4 761.9,640.3 763.6,640.2 765.3,640.0 767.1,639.9 768.8,639.8 770.6,639.6 772.3,639.5 774.0,639.4 775.8,639.2 777.5,639.1 779.2,639.0 781.0,638.8 782.7,638.7 784.5,638.5 786.2,638.4 787.9,638.3 789.7,638.1 791.4,638.0 793.2,637.9 794.9,637.7 796.6,637.6 798.4,637.5 800.1,637.3 801.8,637.2 803.6,637.1 805.3,636.9 807.1,636.8 808.8,636.7 810.5,636.5 812.3,636.4 814.0,636.3 815.7,636.1 817.5,636.0 819.2,635.9 821.0,635.7 822.7,635.6 824.4,635.5 826.2,635.3 827.9,635.2 829.7,635.1 831.4,634.9 833.1,634.8 834.9,634.7 836.6,634.5 838.3,634.4 840.1,634.3 841.8,634.1 843.6,634.0 845.3,633.9 847.0,633.7 848.8,633.6 850.5,633.4 852.2,633.3 854.0,633.2 855.7,633.0 857.5,632.9 859.2,632.8 860.9,632.6 862.7,632.5 864.4,632.4 866.2,632.2 867.9,632.1 869.6,632.0 871.4,631.8 873.1,631.7 874.8,631.6 876.6,631.4 878.3,631.3 880.1,631.2 881.8,631.0 883.5,630.9 885.3,630.8 887.0,630.6 888.7,630.5 890.5,630.4 892.2,630.2 894.0,630.1 895.7,630.0 897.4,629.8 899.2,629.7 900.9,629.6 902.7,629.4 904.4,629.3 906.1,629.2 907.9,629.0 909.6,628.9 911.3,628.8 913.1,628.6 914.8,628.5 916.6,628.3 918.3,628.2 920.0,628.1 921.8,627.9 923.5,627.8 925.2,627.7 927.0,627.5 928.7,627.4 930.5,627.3 932.2,612.2 933.9,591.7 935.7,571.2 937.4,550.5 939.2,529.0 940.9,507.6 942.6,486.2 944.4,464.8 946.1,443.4 947.8,427.2 949.6,410.9 951.3,394.7 953.1,378.5 954.8,368.3 956.5,362.2 958.3,359.0 960.0,358.3 961.7,358.5 963.5,358.6 965.2,358.7 967.0,358.9 968.7,359.0 970.4,359.2 972.2,359.3 973.9,359.4 975.7,359.6 977.4,359.7 979.1,359.8 980.9,360.0 982.6,360.1 984.3,360.2 986.1,360.4 987.8,360.5 989.6,360.6 991.3,360.8 993.0,360.9 994.8,361.1 996.5,361.2 998.2,361.3 1000.0,361.5 1001.7,361.6 1003.5,361.7 1005.2,361.9 1006.9,362.0 1008.7,362.1 1010.4,362.3 1012.2,362.4 1013.9,362.5 1015.6,362.7 1017.4,362.8 1019.1,363.0 1020.8,363.1 1022.6,363.2 1024.3,363.4 1026.1,363.5 1027.8,363.6 1029.5,363.8 1031.3,363.9 1033.0,364.0 1034.7,364.2 1036.5,364.3 1038.2,364.5 1040.0,364.6 1041.7,364.7 1043.4,364.9 1045.2,365.0 1046.9,365.1 1048.7,365.3 1050.4,365.4 1052.1,365.5 1053.9,365.7 1055.6,365.8 1057.3,365.9 1059.1,366.1 1060.8,366.2 1062.6,366.4 1064.3,366.5 1066.0,366.6 1067.8,366.8 1069.5,366.9 1071.2,367.0 1073.0,367.2 1074.7,367.3 1076.5,367.4 1078.2,367.6 1079.9,367.7 1081.7,367.8 1083.4,368.0 1085.2,368.1 1086.9,368.3 1088.6,368.4 1090.4,368.5 1092.1,368.7 1093.8,368.8 1095.6,368.9 1097.3,369.1 1099.1,369.2 1100.8,369.3 1102.5,369.5 1104.3,369.6 1106.0,369.8 1107.7,369.9 1109.5,370.0 1111.2,370.2 1113.0,370.3 1114.7,370.4 1116.4,370.6 1118.2,370.7 1119.9,370.8 1121.7,371.0 1123.4,371.1 1125.1,371.2 1126.9,371.4 1128.6,371.5 1130.3,371.7 1132.1,371.8 1133.8,371.9 1135.6,372.1 1137.3,372.2 1139.0,372.3 1140.8,372.5 1142.5,372.6 1144.2,372.7 1146.0,372.9 1147.7,373.0 1149.5,373.1 1151.2,373.3 1152.9,373.4 1154.7,373.6 1156.4,373.7 1158.2,373.8 1159.9,374.0 1161.6,374.1 1163.4,374.2 1165.1,374.4 1166.8,374.5 1168.6,374.6 1170.3,374.8 1172.1,374.9 1173.8,375.0 1175.5,375.2 1177.3,375.3 1179.0,375.5 1180.7,375.6 1182.5,375.7 1184.2,375.9 1186.0,376.0 1187.7,376.1 1189.4,376.3 1191.2,376.4 1192.9,376.5 1194.7,376.7 1196.4,376.8 1198.1,376.9 1199.9,377.0 1201.6,377.2 1203.3,377.3 1205.1,377.4 1206.8,377.5 1208.6,377.7 1210.3,377.8 1212.0,377.9 1213.8,378.0 1215.5,378.2 1217.2,378.3 1219.0,378.4 1220.7,378.6 1222.5,378.7 1224.2,378.8 1225.9,378.9 1227.7,379.1 1229.4,379.2 1231.2,379.3 1232.9,379.4 1234.6,379.6 1236.4,379.7 1238.1,379.8 1239.8,379.9 1241.6,380.1 1243.3,380.2 1245.1,380.3 1246.8,380.5 1248.5,380.6 1250.3,380.7 1252.0,380.8 1253.7,381.0 1255.5,381.1 1257.2,381.2 1259.0,381.3 1260.7,381.5 1262.4,381.6 1264.2,381.7 1265.9,381.8 1267.7,382.0 1269.4,382.1 1271.1,382.2 1272.9,382.3 1274.6,382.5 1276.3,382.6 1278.1,382.7 1279.8,382.9 1281.6,383.0 1283.3,383.1 1285.0,383.2 1286.8,383.4 1288.5,383.5 1290.2,383.6 1292.0,383.7 1293.7,383.9 1295.5,384.0 1297.2,384.1 1298.9,384.2 1300.7,384.4 1302.4,384.5 1304.2,384.6 1305.9,384.8 1307.6,384.9 1309.4,385.0 1311.1,385.1 1312.8,385.3 1314.6,385.4 1316.3,385.5 1318.1,385.6 1319.8,385.8 1321.5,385.9 1323.3,386.0 1325.0,386.1 1326.7,386.3 1328.5,386.4 1330.2,386.5 1332.0,386.7 1333.7,386.8 1335.4,386.9 1337.2,387.0 1338.9,387.2 1340.7,387.3 1342.4,387.4 1344.1,387.5 1345.9,387.7 1347.6,387.8 1349.3,387.9 1351.1,388.0 1352.8,388.2 1354.6,388.3 1356.3,388.4 1358.0,388.6 1359.8,388.7 1361.5,388.8 1363.2,388.9 1365.0,389.1 1366.7,389.2 1368.5,389.3 1370.2,389.4 1371.9,389.6 1373.7,389.7 1375.4,389.8 1377.2,389.9 1378.9,389.9 1380.6,390.0 1382.4,390.1 1384.1,390.2 1385.8,390.3 1387.6,390.3 1389.3,390.4 1391.1,390.5 1392.8,390.6 1394.5,390.7 1396.3,390.7 1398.0,390.8 1399.7,390.9 1401.5,391.0 1403.2,391.1 1405.0,391.1 1406.7,391.2 1408.4,391.3 1410.2,391.4 1411.9,391.5 1413.7,391.6 1415.4,391.6 1417.1,391.7 1418.9,391.8 1420.6,391.9 1422.3,392.0 1424.1,392.0 1425.8,392.1 1427.6,392.2 1429.3,392.3 1431.0,392.4 1432.8,392.4 1434.5,392.5 1436.2,392.6 1438.0,392.7 1439.7,392.8 1441.5,392.8 1443.2,392.9 1444.9,393.0 1446.7,393.1 1448.4,393.2 1450.2,393.3 1451.9,393.3 1453.6,393.4 1455.4,393.5 1457.1,393.6 1458.8,393.7 1460.6,393.7 1462.3,393.8 1464.1,393.9 1465.8,394.0 1467.5,394.1 1469.3,394.1 1471.0,394.2 1472.7,394.3 1474.5,394.4 1476.2,394.5 1478.0,394.5 1479.7,394.6 1481.4,394.7 1483.2,394.8 1484.9,394.9 1486.7,394.9 1488.4,395.0 1490.1,395.1 1491.9,395.2 1493.6,395.3 1495.3,395.4 1497.1,395.4 1498.8,395.5 1500.6,395.6 1502.3,395.7 1504.0,395.8 1505.8,395.8 1507.5,395.9 1509.2,396.0 1511.0,396.1 1512.7,396.2 1514.5,396.2 1516.2,396.3 1517.9,396.4 1519.7,396.5 1521.4,396.6 1523.2,396.6 1524.9,396.7 1526.6,396.8 1528.4,396.9 1530.1,397.0 1531.8,397.1 1533.6,397.1 1535.3,397.2 1537.1,397.3 1538.8,397.4 1540.5,397.5 1542.3,397.5 1544.0,397.6 1545.7,397.7 1547.5,397.8 1549.2,397.9 1551.0,397.9 1552.7,398.0 1554.4,398.1 1556.2,398.1 1557.9,398.2 1559.7,398.3 1561.4,398.3 1563.1,398.4 1564.9,398.5 1566.6,398.5 1568.3,398.9 1570.1,399.3 1571.8,399.7 1573.6,400.1 1575.3,400.5 1577.0,400.9 1578.8,401.5 1580.5,402.4 1582.2,403.3 1584.0,404.3 1585.7,405.6 1587.5,407.4 1589.2,409.3 1590.9,411.1 1592.7,412.9 1594.4,413.9 1596.2,414.2 1597.9,414.6 1599.6,414.9 1601.4,415.2 1603.1,415.6 1604.8,415.9 1606.6,416.2 1608.3,417.0 1610.1,417.7 1611.8,418.4 1613.5,419.1 1615.3,421.5 1617.0,423.9 1618.7,426.3 1620.5,428.5 1622.2,430.7 1624.0,432.8 1625.7,435.0 1627.4,437.2 1629.2,441.7 1630.9,454.8 1632.7,474.6 1634.4,486.1 1636.1,495.6 1637.9,502.3 1639.6,504.7 1641.3,505.6 1643.1,504.0 1644.8,502.4 1646.6,500.8 1648.3,463.4 1650.0,415.8 1651.8,363.4" stroke="#f0f"/>
<polyline points="945.4,343.4 945.4,304.0" stroke="#f0f"/>
<polyline points="248.1,409.1 249.5,454.8 257.8,617.0 930.5,617.0 933.9,586.2 953.1,497.1 956.2,485.6 980.9,484.8 981.6,483.1 1647.3,483.1 1648.3,471.9 1649.7,458.8 1653.2,458.8" stroke="#000"/>
<path d="M348.3 627.7L364.0 637.7L348.3 647.7ZM357.8 632.7L342.1 642.7L357.8 652.7ZM413.6 687.3L429.3 697.3L413.6 707.3ZM422.2 691.5L406.5 701.5L422.2 711.5ZM446.3 718.8L462.0 728.8L446.3 738.8ZM455.9 723.9L440.2 733.9L455.9 743.9ZM480.4 749.0L496.1 759.0L480.4 769.0ZM489.2 753.3L473.5 763.3L489.2 773.3ZM573.5 831.8L589.2 841.8L573.5 851.8ZM582.4 836.1L566.7 846.1L582.4 856.1ZM636.8 885.9L652.5 895.9L636.8 905.9ZM647.1 891.0L631.4 901.0L647.1 911.0ZM789.8 999.8L805.5 1009.8L789.8 1019.8ZM799.3 1003.8L783.6 1013.8L799.3 1023.8ZM816.9 1019.5L832.6 1029.5L816.9 1039.5ZM824.4 1022.2L808.7 1032.2L824.4 1042.2ZM892.3 1080.0L908.0 1090.0L892.3 1100.0ZM900.5 1083.0L884.8 1093.0L900.5 1103.0ZM302.3 589.4L318.0 599.4L302.3 609.4ZM315.4 592.6L299.7 602.6L315.4 612.6ZM839.2 1040.4L854.9 1050.4L839.2 1060.4ZM853.8 1044.8L838.1 1054.8L853.8 1064.8ZM951.3 1103.0L967.0 1113.0L951.3 1123.0ZM963.8 1100.4L948.1 1110.4L963.8 1120.4ZM976.4 1080.9L992.1 1090.9L976.4 1100.9ZM990.9 1075.6L975.2 1085.6L990.9 1095.6ZM1026.4 1032.7L1042.1 1042.7L1026.4 1052.7ZM1045.2 1023.6L1029.5 1033.6L1045.2 1043.6ZM1109.9 958.1L1125.6 968.1L1109.9 978.1ZM1129.3 948.7L1113.6 958.7L1129.3 968.7ZM1149.5 922.0L1165.2 932.0L1149.5 942.0ZM1164.7 916.8L1149.0 926.8L1164.7 936.8ZM1185.6 894.5L1201.3 904.5L1185.6 914.5ZM1203.0 887.9L1187.3 897.9L1203.0 907.9ZM1223.2 862.9L1238.9 872.9L1223.2 882.9ZM1236.3 859.5L1220.6 869.5L1236.3 879.5ZM1256.5 837.0L1272.2 847.0L1256.5 857.0ZM1270.4 833.2L1254.7 843.2L1270.4 853.2ZM1290.6 809.2L1306.3 819.2L1290.6 829.2ZM1310.7 800.2L1295.0 810.2L1310.7 820.2ZM1332.3 776.5L1348.0 786.5L1332.3 796.5ZM1345.5 773.3L1329.8 783.3L1345.5 793.3ZM1366.4 752.1L1382.1 762.1L1366.4 772.1ZM1382.0 746.8L1366.3 756.8L1382.0 766.8ZM1432.4 699.4L1448.1 709.4L1432.4 719.4ZM1450.5 692.0L1434.8 702.0L1450.5 712.0ZM1472.1 666.4L1487.8 676.4L1472.1 686.4ZM1485.2 663.0L1469.5 673.0L1485.2 683.0ZM1506.1 639.0L1521.8 649.0L1506.1 659.0ZM1518.6 636.3L1502.9 646.3L1518.6 656.3ZM1572.2 588.8L1587.9 598.8L1572.2 608.8ZM1588.8 583.1L1573.1 593.1L1588.8 603.1ZM1588.2 577.0L1603.9 587.0L1588.2 597.0ZM1601.3 573.8L1585.6 583.8L1601.3 593.8ZM1609.0 559.7L1624.7 569.7L1609.0 579.7ZM1622.9 556.0L1607.2 566.0L1622.9 576.0ZM1633.5 545.6L1649.2 555.6L1633.5 565.6ZM1645.7 543.2L1630.0 553.2L1645.7 563.2ZM1312.5 798.9L1296.8 808.9L1312.5 818.9ZM1046.2 1022.7L1030.5 1032.7L1046.2 1042.7ZM992.3 1074.3L976.6 1084.3L992.3 1094.3ZM1130.3 947.7L1114.6 957.7L1130.3 967.7ZM1590.2 582.1L1574.5 592.1L1590.2 602.1ZM254.0 548.0L269.7 558.0L254.0 568.0ZM265.0 549.5L249.3 559.5L265.0 569.5ZM250.0 543.0L265.7 553.0L250.0 563.0ZM262.5 546.0L246.8 556.0L262.5 566.0ZM256.0 552.5L271.7 562.5L256.0 572.5ZM263.5 543.5L247.8 553.5L263.5 563.5ZM274.0 559.5L258.3 569.5L274.0 579.5ZM274.6 568.3L290.3 578.3L274.6 588.3ZM924.2 1107.4L939.9 1117.4L924.2 1127.4ZM928.4 1110.0L944.1 1120.0L928.4 1130.0ZM946.4 1106.2L962.1 1116.2L946.4 1126.2ZM949.2 1104.1L964.9 1114.1L949.2 1124.1ZM937.8 1109.4L922.1 1119.4L937.8 1129.4ZM941.6 1111.6L925.9 1121.6L941.6 1131.6ZM965.6 1099.6L949.9 1109.6L965.6 1119.6ZM968.0 1097.7L952.3 1107.7L968.0 1117.7ZM923.5 1124.4L932.5 1109.4L941.5 1124.4ZM936.1 1125.4L945.1 1110.4L954.1 1125.4ZM932.2 1116.6L941.2 1131.6L950.2 1116.6ZM940.6 1112.8L949.6 1127.8L958.6 1112.8ZM1642.4 542.6L1658.1 552.6L1642.4 562.6ZM1645.1 542.2L1660.8 552.2L1645.1 562.2ZM1647.2 541.9L1662.9 551.9L1647.2 561.9ZM1652.1 542.7L1636.4 552.7L1652.1 562.7ZM1654.9 542.3L1639.2 552.3L1654.9 562.3ZM1657.0 542.0L1641.3 552.0L1657.0 562.0Z" stroke="#000"/>
</g>
<g id="redaxis" shape-rendering="crispEdges" stroke="#f00" stroke-width="1" fill="none">
<line x1="1711.5" y1="95.0" x2="1711.5" y2="1124.0"/>
<line x1="1706.5" y1="95.5" x2="1711.5" y2="95.5"/>
<line x1="1706.5" y1="1123.5" x2="1711.5" y2="1123.5"/>
<line x1="1697.5" y1="1065.5" x2="1711.5" y2="1065.5"/>
<line x1="1697.5" y1="1008.5" x2="1711.5" y2="1008.5"/>
<line x1="1697.5" y1="951.5" x2="1711.5" y2="951.5"/>
<line x1="1697.5" y1="894.5" x2="1711.5" y2="894.5"/>
<line x1="1697.5" y1="837.5" x2="1711.5" y2="837.5"/>
<line x1="1697.5" y1="780.5" x2="1711.5" y2="780.5"/>
<line x1="1697.5" y1="723.5" x2="1711.5" y2="723.5"/>
<line x1="1697.5" y1="666.5" x2="1711.5" y2="666.5"/>
<line x1="1697.5" y1="609.5" x2="1711.5" y2="609.5"/>
<line x1="1697.5" y1="551.5" x2="1711.5" y2="551.5"/>
<line x1="1697.5" y1="494.5" x2="1711.5" y2="494.5"/>
<line x1="1697.5" y1="437.5" x2="1711.5" y2="437.5"/>
<line x1="1697.5" y1="380.5" x2="1711.5" y2="380.5"/>
<line x1="1697.5" y1="323.5" x2="1711.5" y2="323.5"/>
<line x1="1697.5" y1="266.5" x2="1711.5" y2="266.5"/>
<line x1="1697.5" y1="209.5" x2="1711.5" y2="209.5"/>
<line x1="1697.5" y1="152.5" x2="1711.5" y2="152.5"/>
</g>
<g id="axes" shape-rendering="crispEdges" stroke="#000" stroke-width="1" fill="none">
<rect x="246.5" y="95.5" width="1460.0" height="1028.0"/>
<line x1="454.5" y1="1123.5" x2="454.5" y2="1108.5"/>
<line x1="454.5" y1="95.5" x2="454.5" y2="110.5"/>
<line x1="663.5" y1="1123.5" x2="663.5" y2="1108.5"/>
<line x1="663.5" y1="95.5" x2="663.5" y2="110.5"/>
<line x1="871.5" y1="1123.5" x2="871.5" y2="1108.5"/>
<line x1="871.5" y1="95.5" x2="871.5" y2="110.5"/>
<line x1="1080.5" y1="1123.5" x2="1080.5" y2="1108.5"/>
<line x1="1080.5" y1="95.5" x2="1080.5" y2="110.5"/>
<line x1="1288.5" y1="1123.5" x2="1288.5" y2="1108.5"/>
<line x1="1288.5" y1="95.5" x2="1288.5" y2="110.5"/>
<line x1="1497.5" y1="1123.5" x2="1497.5" y2="1108.5"/>
<line x1="1497.5" y1="95.5" x2="1497.5" y2="110.5"/>
<line x1="246.5" y1="1065.5" x2="261.5" y2="1065.5"/>
<line x1="1706.5" y1="1065.5" x2="1690.5" y2="1065.5"/>
<line x1="246.5" y1="1008.5" x2="261.5" y2="1008.5"/>
<line x1="1706.5" y1="1008.5" x2="1690.5" y2="1008.5"/>
<line x1="246.5" y1="951.5" x2="261.5" y2="951.5"/>
<line x1="1706.5" y1="951.5" x2="1690.5" y2="951.5"/>
<line x1="246.5" y1="894.5" x2="261.5" y2="894.5"/>
<line x1="1706.5" y1="894.5" x2="1690.5" y2="894.5"/>
<line x1="246.5" y1="837.5" x2="261.5" y2="837.5"/>
<line x1="1706.5" y1="837.5" x2="1690.5" y2="837.5"/>
<line x1="246.5" y1="780.5" x2="261.5" y2="780.5"/>
<line x1="1706.5" y1="780.5" x2="1690.5" y2="780.5"/>
<line x1="246.5" y1="723.5" x2="261.5" y2="723.5"/>
<line x1="1706.5" y1="723.5" x2="1690.5" y2="723.5"/>
<line x1="246.5" y1="666.5" x2="261.5" y2="666.5"/>
<line x1="1706.5" y1="666.5" x2="1690.5" y2="666.5"/>
<line x1="246.5" y1="609.5" x2="261.5" y2="609.5"/>
<line x1="1706.5" y1="609.5" x2="1690.5" y2="609.5"/>
<line x1="246.5" y1="551.5" x2="261.5" y2="551.5"/>
<line x1="1706.5" y1="551.5" x2="1690.5" y2="551.5"/>
<line x1="246.5" y1="494.5" x2="261.5" y2="494.5"/>
<line x1="1706.5" y1="494.5" x2="1690.5" y2="494.5"/>
<line x1="246.5" y1="437.5" x2="261.5" y2="437.5"/>
<line x1="1706.5" y1="437.5" x2="1690.5" y2="437.5"/>
<line x1="246.5" y1="380.5" x2="261.5" y2="380.5"/>
<line x1="1706.5" y1="380.5" x2="1690.5" y2="380.5"/>
<line x1="246.5" y1="323.5" x2="261.5" y2="323.5"/>
<line x1="1706.5" y1="323.5" x2="1690.5" y2="323.5"/>
<line x1="246.5" y1="266.5" x2="261.5" y2="266.5"/>
<line x1="1706.5" y1="266.5" x2="1690.5" y2="266.5"/>
<line x1="246.5" y1="209.5" x2="261.5" y2="209.5"/>
<line x1="1706.5" y1="209.5" x2="1690.5" y2="209.5"/>
<line x1="246.5" y1="152.5" x2="261.5" y2="152.5"/>
<line x1="1706.5" y1="152.5" x2="1690.5" y2="152.5"/>
</g>
<g id="legend">
<rect x="1370.5" y="748.5" width="323" height="362" fill="#fff" stroke="#000" stroke-width="1" shape-rendering="crispEdges"/>
<g shape-rendering="crispEdges" fill="none" stroke-width="1">
<line x1="1386" y1="766.5" x2="1470" y2="766.5" stroke="#f00"/>
<line x1="1386" y1="796.5" x2="1470" y2="796.5" stroke="#00f"/>
<line x1="1386" y1="825.5" x2="1470" y2="825.5" stroke="#0ff"/>
<line x1="1390" y1="855.5" x2="1470" y2="855.5" stroke="#00f" stroke-dasharray="9.6 4.6"/>
<line x1="1390" y1="884.5" x2="1470" y2="884.5" stroke="#0ff" stroke-dasharray="9.6 4.6"/>
<line x1="1386" y1="914.5" x2="1470" y2="914.5" stroke="#0f0"/>
<line x1="1390" y1="943.5" x2="1470" y2="943.5" stroke="#0f0" stroke-dasharray="9.6 4.6"/>
<line x1="1386" y1="973.5" x2="1470" y2="973.5" stroke="#ff0"/>
<line x1="1390" y1="1002.5" x2="1470" y2="1002.5" stroke="#ff0" stroke-dasharray="9.6 4.6"/>
<line x1="1390" y1="1032.5" x2="1470" y2="1032.5" stroke="#f0f" stroke-dasharray="9.6 4.6"/>
<line x1="1386" y1="1061.5" x2="1470" y2="1061.5" stroke="#f0f"/>
<line x1="1386" y1="1091.5" x2="1470" y2="1091.5" stroke="#000"/>
</g>
<g font-size="19px" fill="#000">
<text x="1479.0" y="776.7" textLength="108.7" lengthAdjust="spacing">Height (10m)</text>
<text x="1479.0" y="806.7" textLength="138.3" lengthAdjust="spacing">W = dz/dt (cm/s)</text>
<text x="1479.0" y="835.7" textLength="180.6" lengthAdjust="spacing">Horiz Speed(W,pitch)</text>
<text x="1479.0" y="865.7" textLength="195.7" lengthAdjust="spacing">Vert Speed(buoy,pitch)</text>
<text x="1479.0" y="894.7" textLength="204.3" lengthAdjust="spacing">Horiz Speed(buoy,pitch)</text>
<text x="1480.0" y="924.7" textLength="121.5" lengthAdjust="spacing">Pitch Up (deg)</text>
<text x="1480.5" y="953.7" textLength="159.4" lengthAdjust="spacing">Pitch Control (mm)</text>
<text x="1478.5" y="983.7" textLength="195.1" lengthAdjust="spacing">Vehicle Roll Stbd (deg)</text>
<text x="1479.0" y="1012.7" textLength="149.5" lengthAdjust="spacing">Roll Control (deg)</text>
<text x="1479.0" y="1042.7" textLength="202.5" lengthAdjust="spacing">Glide Angle (buoy,pitch)</text>
<text x="1480.5" y="1071.7" textLength="143.2" lengthAdjust="spacing">1/5 Buoyancy (g)</text>
<text x="1478.5" y="1101.7" textLength="103.5" lengthAdjust="spacing">VBD (10 cc)</text>
</g></g>
<g id="ticklabels" fill="#000">
<text transform="translate(237 1141.7) scale(1 1.05)" font-size="41.5px" text-anchor="end">-100</text>
<text transform="translate(237 1084.6) scale(1 1.05)" font-size="41.5px" text-anchor="end">-90</text>
<text transform="translate(237 1027.5) scale(1 1.05)" font-size="41.5px" text-anchor="end">-80</text>
<text transform="translate(237 970.4) scale(1 1.05)" font-size="41.5px" text-anchor="end">-70</text>
<text transform="translate(237 913.3) scale(1 1.05)" font-size="41.5px" text-anchor="end">-60</text>
<text transform="translate(237 856.1) scale(1 1.05)" font-size="41.5px" text-anchor="end">-50</text>
<text transform="translate(237 799.0) scale(1 1.05)" font-size="41.5px" text-anchor="end">-40</text>
<text transform="translate(237 741.9) scale(1 1.05)" font-size="41.5px" text-anchor="end">-30</text>
<text transform="translate(237 684.8) scale(1 1.05)" font-size="41.5px" text-anchor="end">-20</text>
<text transform="translate(237 627.7) scale(1 1.05)" font-size="41.5px" text-anchor="end">-10</text>
<text transform="translate(237 570.6) scale(1 1.05)" font-size="41.5px" text-anchor="end">0</text>
<text transform="translate(237 513.5) scale(1 1.05)" font-size="41.5px" text-anchor="end">10</text>
<text transform="translate(237 456.4) scale(1 1.05)" font-size="41.5px" text-anchor="end">20</text>
<text transform="translate(237 399.3) scale(1 1.05)" font-size="41.5px" text-anchor="end">30</text>
<text transform="translate(237 342.1) scale(1 1.05)" font-size="41.5px" text-anchor="end">40</text>
<text transform="translate(237 285.0) scale(1 1.05)" font-size="41.5px" text-anchor="end">50</text>
<text transform="translate(237 227.9) scale(1 1.05)" font-size="41.5px" text-anchor="end">60</text>
<text transform="translate(237 170.8) scale(1 1.05)" font-size="41.5px" text-anchor="end">70</text>
<text transform="translate(237 113.7) scale(1 1.05)" font-size="41.5px" text-anchor="end">80</text>
<text transform="translate(244.8 1178.8) scale(1 1.05)" font-size="41.5px" text-anchor="middle">0</text>
<text transform="translate(453.4 1178.8) scale(1 1.05)" font-size="41.5px" text-anchor="middle">30</text>
<text transform="translate(661.9 1178.8) scale(1 1.05)" font-size="41.5px" text-anchor="middle">60</text>
<text transform="translate(870.5 1178.8) scale(1 1.05)" font-size="41.5px" text-anchor="middle">90</text>
<text transform="translate(1079.1 1178.8) scale(1 1.05)" font-size="41.5px" text-anchor="middle">120</text>
<text transform="translate(1287.7 1178.8) scale(1 1.05)" font-size="41.5px" text-anchor="middle">150</text>
<text transform="translate(1496.2 1178.8) scale(1 1.05)" font-size="41.5px" text-anchor="middle">180</text>
<text transform="translate(1704.8 1178.8) scale(1 1.05)" font-size="41.5px" text-anchor="middle">210</text>
</g>
<g id="redlabels" fill="#f00">
<text transform="translate(1718 1141.7) scale(1 1.05)" font-size="41.5px">0</text>
<text transform="translate(1718 1084.6) scale(1 1.05)" font-size="41.5px">20</text>
<text transform="translate(1718 1027.5) scale(1 1.05)" font-size="41.5px">40</text>
<text transform="translate(1718 970.4) scale(1 1.05)" font-size="41.5px">60</text>
<text transform="translate(1718 913.3) scale(1 1.05)" font-size="41.5px">80</text>
<text transform="translate(1718 856.1) scale(1 1.05)" font-size="41.5px">100</text>
<text transform="translate(1718 799.0) scale(1 1.05)" font-size="41.5px">120</text>
<text transform="translate(1718 741.9) scale(1 1.05)" font-size="41.5px">140</text>
<text transform="translate(1718 684.8) scale(1 1.05)" font-size="41.5px">160</text>
<text transform="translate(1718 627.7) scale(1 1.05)" font-size="41.5px">180</text>
<text transform="translate(1718 570.6) scale(1 1.05)" font-size="41.5px">200</text>
<text transform="translate(1718 513.5) scale(1 1.05)" font-size="41.5px">220</text>
<text transform="translate(1718 456.4) scale(1 1.05)" font-size="41.5px">240</text>
<text transform="translate(1718 399.3) scale(1 1.05)" font-size="41.5px">260</text>
<text transform="translate(1718 342.1) scale(1 1.05)" font-size="41.5px">280</text>
<text transform="translate(1718 285.0) scale(1 1.05)" font-size="41.5px">300</text>
<text transform="translate(1718 227.9) scale(1 1.05)" font-size="41.5px">320</text>
<text transform="translate(1718 170.8) scale(1 1.05)" font-size="41.5px">340</text>
<text transform="translate(1718 113.7) scale(1 1.05)" font-size="41.5px">360</text>
</g>
<g id="labels" fill="#000">
<text transform="translate(40 55.8) scale(1 1.045)" font-size="61.15px">SG566 OSMOSIS, Rotation 3, dive 541 started 20-Jul-2013 03:22:59</text>
<text transform="translate(973.2 1227.7) scale(1 1.07)" font-size="41.2px" text-anchor="middle">Time (minutes)</text>
<text transform="translate(245 1245.6) scale(1 1.05)" font-size="41.2px">20-Jul-2013 22:04:15</text>
<text transform="translate(1117.5 1245.2) scale(1 1.05)" font-size="41.6px">VBD bias =0 cc</text>
<text transform="translate(1836.2 614) rotate(-90) scale(1 1.09)" font-size="41px" text-anchor="middle" fill="#f00">(+) Heading (°M)</text>
</g>
</svg></body></html>
